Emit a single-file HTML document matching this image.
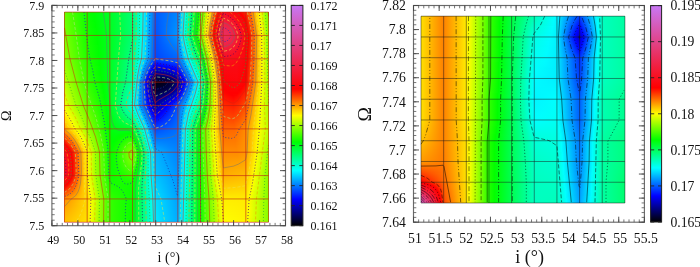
<!DOCTYPE html>
<html><head><meta charset="utf-8"><style>
html,body{margin:0;padding:0;background:#fff;}
#w{filter:blur(0.3px);position:relative;width:700px;height:267px;overflow:hidden;background:#fff;}
.fld{position:absolute;overflow:hidden;}
.fld i{position:absolute;left:0;width:100%;display:block;}
svg{position:absolute;left:0;top:0;}
text{font-family:"Liberation Serif","DejaVu Serif",serif;fill:#111;}
</style></head><body><div id="w">
<div class="fld" style="left:64px;top:12px;width:205px;height:210px"><i style="top:0px;height:1px;background:linear-gradient(90deg,#66ff00 0.5px,#08ff00 24.5px,#00ff03 29.5px,#00ff2a 47.5px,#00ff70 68.5px,#00fff7 78.5px,#00f9ff 79.5px,#0065ff 90.5px,#005cff 91.5px,#0084ff 113.5px,#0092ff 114.5px,#00f0ff 119.5px,#00fffb 120.5px,#00ff04 133.5px,#23ff00 135.5px,#4eff00 137.5px,#faff00 144.5px,#ffd200 146.5px,#ff0500 154.5px,#fe0306 155.5px,#f71123 159.5px,#ff0102 175.5px,#ff0300 176.5px,#ff2700 181.5px,#fff300 194.5px,#fbff00 195.5px,#71ff00 204.5px)"></i><i style="top:1px;height:1px;background:linear-gradient(90deg,#67ff00 0.5px,#08ff00 24.5px,#00ff02 29.5px,#00ff2a 47.5px,#00ff70 68.5px,#00fff7 78.5px,#00f9ff 79.5px,#0064ff 90.5px,#005cff 91.5px,#0085ff 113.5px,#0092ff 114.5px,#00f1ff 119.5px,#00fffa 120.5px,#00ff02 133.5px,#38ff00 136.5px,#feff00 144.5px,#ff0001 154.5px,#f81021 158.5px,#f71326 159.5px,#fe0306 174.5px,#ff0101 176.5px,#ff1400 179.5px,#ff2200 181.5px,#fdff00 195.5px,#71ff00 204.5px)"></i><i style="top:2px;height:1px;background:linear-gradient(90deg,#68ff00 0.5px,#08ff00 24.5px,#00ff02 29.5px,#00ff2a 47.5px,#00ff70 68.5px,#00fff8 78.5px,#00f9ff 79.5px,#0064ff 90.5px,#005bff 91.5px,#0086ff 113.5px,#0093ff 114.5px,#00f2ff 119.5px,#00fff9 120.5px,#00ff00 133.5px,#3bff00 136.5px,#e8ff00 143.5px,#fffc00 144.5px,#ff1100 153.5px,#fe0103 154.5px,#f71224 158.5px,#f61429 159.5px,#fd050b 173.5px,#ff0000 177.5px,#ff1e00 181.5px,#ffff00 195.5px,#72ff00 204.5px)"></i><i style="top:3px;height:1px;background:linear-gradient(90deg,#69ff00 0.5px,#09ff00 24.5px,#00ff04 30.5px,#00ff29 47.5px,#00ff70 68.5px,#00fff8 78.5px,#00f9ff 79.5px,#0063ff 90.5px,#005bff 91.5px,#0087ff 113.5px,#0094ff 114.5px,#00f3ff 119.5px,#00fff8 120.5px,#02ff00 133.5px,#3dff00 136.5px,#ecff00 143.5px,#fff800 144.5px,#ff0900 153.5px,#fe0305 154.5px,#f61327 158.5px,#f5152c 159.5px,#fb0913 171.5px,#ff0100 178.5px,#ff1900 181.5px,#fffd00 195.5px,#73ff00 204.5px)"></i><i style="top:4px;height:1px;background:linear-gradient(90deg,#6aff00 0.5px,#09ff00 24.5px,#00ff03 30.5px,#00ff29 47.5px,#00ff70 68.5px,#00fff8 78.5px,#00f8ff 79.5px,#0063ff 90.5px,#005bff 91.5px,#0088ff 113.5px,#0095ff 114.5px,#00f5ff 119.5px,#00fff6 120.5px,#00ff10 132.5px,#04ff00 133.5px,#3fff00 136.5px,#f0ff00 143.5px,#fff400 144.5px,#ff0200 153.5px,#f6142a 158.5px,#f4172f 159.5px,#fa0a15 171.5px,#ff0101 178.5px,#ff0c00 180.5px,#ff1400 181.5px,#fffb00 195.5px,#e3ff00 197.5px,#74ff00 204.5px)"></i><i style="top:5px;height:1px;background:linear-gradient(90deg,#6bff00 0.5px,#0aff00 24.5px,#00ff03 30.5px,#00ff29 47.5px,#00ff70 68.5px,#00fff8 78.5px,#00f8ff 79.5px,#0063ff 90.5px,#005aff 91.5px,#0089ff 113.5px,#0096ff 114.5px,#00f6ff 119.5px,#00fff5 120.5px,#00ff0e 132.5px,#05ff00 133.5px,#41ff00 136.5px,#f4ff00 143.5px,#fff000 144.5px,#ff1500 152.5px,#ff0102 153.5px,#f5162d 158.5px,#f41832 159.5px,#f90d1b 170.5px,#ff0000 179.5px,#ff0f00 181.5px,#fff900 195.5px,#f5ff00 196.5px,#75ff00 204.5px)"></i><i style="top:6px;height:1px;background:linear-gradient(90deg,#6cff00 0.5px,#0cff00 23.5px,#00ff03 30.5px,#00ff29 47.5px,#00ff70 68.5px,#00fff8 78.5px,#00f8ff 79.5px,#0062ff 90.5px,#005aff 91.5px,#0089ff 113.5px,#0097ff 114.5px,#00f7ff 119.5px,#00fff4 120.5px,#00ff0c 132.5px,#07ff00 133.5px,#43ff00 136.5px,#f8ff00 143.5px,#ffeb00 144.5px,#ff0e00 152.5px,#fe0205 153.5px,#f41830 158.5px,#f31a35 159.5px,#f81020 169.5px,#ff0200 180.5px,#ff0a00 181.5px,#ffe700 194.5px,#fff700 195.5px,#f7ff00 196.5px,#76ff00 204.5px)"></i><i style="top:7px;height:1px;background:linear-gradient(90deg,#6cff00 0.5px,#0dff00 23.5px,#00ff02 30.5px,#00ff28 47.5px,#00ff70 68.5px,#00fff9 78.5px,#00f8ff 79.5px,#0062ff 90.5px,#0059ff 91.5px,#008aff 113.5px,#0098ff 114.5px,#00f8ff 119.5px,#00fff3 120.5px,#00ff0b 132.5px,#09ff00 133.5px,#46ff00 136.5px,#fcff00 143.5px,#ffb000 146.5px,#ff0600 152.5px,#fd0407 153.5px,#f31933 158.5px,#f21c39 159.5px,#f71123 169.5px,#ff0101 180.5px,#ff0500 181.5px,#ffd400 193.5px,#fff500 195.5px,#f9ff00 196.5px,#77ff00 204.5px)"></i><i style="top:8px;height:1px;background:linear-gradient(90deg,#6dff00 0.5px,#0dff00 23.5px,#00ff02 30.5px,#00ff28 47.5px,#00ff70 68.5px,#00fff9 78.5px,#00f8ff 79.5px,#0061ff 90.5px,#0059ff 91.5px,#008bff 113.5px,#0099ff 114.5px,#00f9ff 119.5px,#00fff2 120.5px,#00ff09 132.5px,#0bff00 133.5px,#48ff00 136.5px,#fffe00 143.5px,#ff0001 152.5px,#f31b37 158.5px,#f21d3c 159.5px,#f61429 168.5px,#ff0000 181.5px,#ffc100 192.5px,#fff300 195.5px,#faff00 196.5px,#78ff00 204.5px)"></i><i style="top:9px;height:1px;background:linear-gradient(90deg,#6eff00 0.5px,#0eff00 23.5px,#00ff01 30.5px,#00ff28 47.5px,#00ff70 68.5px,#00fff9 78.5px,#00f7ff 79.5px,#0061ff 90.5px,#0058ff 91.5px,#008cff 113.5px,#009aff 114.5px,#00faff 119.5px,#00ffdd 121.5px,#00ff07 132.5px,#0dff00 133.5px,#4aff00 136.5px,#e8ff00 142.5px,#fffa00 143.5px,#ff1400 151.5px,#fe0203 152.5px,#f21c3a 158.5px,#f11f3f 159.5px,#f5162d 168.5px,#ff0102 181.5px,#ff0b00 182.5px,#ff9d00 190.5px,#fff100 195.5px,#fcff00 196.5px,#78ff00 204.5px)"></i><i style="top:10px;height:1px;background:linear-gradient(90deg,#6fff00 0.5px,#0eff00 23.5px,#00ff03 31.5px,#00ff28 47.5px,#00ff70 68.5px,#00fff9 78.5px,#00f7ff 79.5px,#0060ff 90.5px,#0058ff 91.5px,#008dff 113.5px,#009bff 114.5px,#00fbff 119.5px,#00ffdc 121.5px,#00ff05 132.5px,#0fff00 133.5px,#4cff00 136.5px,#ecff00 142.5px,#fff600 143.5px,#ff0c00 151.5px,#fe0306 152.5px,#f11e3d 158.5px,#f02143 159.5px,#f41933 167.5px,#fe0203 181.5px,#ff0600 182.5px,#ff8800 189.5px,#feff00 196.5px,#79ff00 204.5px)"></i><i style="top:11px;height:1px;background:linear-gradient(90deg,#70ff00 0.5px,#0eff00 23.5px,#00ff03 31.5px,#00ff28 47.5px,#00ff70 68.5px,#00fff9 78.5px,#00f7ff 79.5px,#0060ff 90.5px,#0058ff 91.5px,#008eff 113.5px,#009bff 114.5px,#00fcff 119.5px,#00ff7a 126.5px,#00ff03 132.5px,#3aff00 135.5px,#4eff00 136.5px,#f0ff00 142.5px,#fff200 143.5px,#ff0500 151.5px,#fd0408 152.5px,#f12040 158.5px,#ef2246 159.5px,#f31a36 167.5px,#ff0100 182.5px,#ff8600 189.5px,#fffe00 196.5px,#7aff00 204.5px)"></i><i style="top:12px;height:1px;background:linear-gradient(90deg,#71ff00 0.5px,#0fff00 23.5px,#00ff02 31.5px,#00ff27 47.5px,#00ff70 68.5px,#00fffa 78.5px,#00f7ff 79.5px,#0060ff 90.5px,#0057ff 91.5px,#008fff 113.5px,#009cff 114.5px,#00fdff 119.5px,#00ff02 132.5px,#51ff00 136.5px,#f3ff00 142.5px,#ffee00 143.5px,#ff0001 151.5px,#f02144 158.5px,#ef2449 159.5px,#f21c39 167.5px,#ff0101 182.5px,#ffb800 192.5px,#fffc00 196.5px,#7bff00 204.5px)"></i><i style="top:13px;height:1px;background:linear-gradient(90deg,#72ff00 0.5px,#0fff00 23.5px,#00ff02 31.5px,#00ff27 47.5px,#00ff70 68.5px,#00fffa 78.5px,#00f6ff 79.5px,#005fff 90.5px,#0057ff 91.5px,#008fff 113.5px,#009dff 114.5px,#00feff 119.5px,#00ff00 132.5px,#53ff00 136.5px,#f7ff00 142.5px,#ffeb00 143.5px,#ff1600 150.5px,#fe0103 151.5px,#ef2347 158.5px,#ee254c 159.5px,#f21d3c 167.5px,#fe0103 182.5px,#ff0d00 183.5px,#ff9200 190.5px,#fffa00 196.5px,#e2ff00 198.5px,#7cff00 204.5px)"></i><i style="top:14px;height:1px;background:linear-gradient(90deg,#73ff00 0.5px,#10ff00 23.5px,#00ff02 31.5px,#00ff27 47.5px,#00ff70 68.5px,#00fffa 78.5px,#00f6ff 79.5px,#005fff 90.5px,#0056ff 91.5px,#0090ff 113.5px,#009eff 114.5px,#00ffff 119.5px,#02ff00 132.5px,#55ff00 136.5px,#faff00 142.5px,#ffe700 143.5px,#ff1000 150.5px,#fe0305 151.5px,#ee244a 158.5px,#ed274f 159.5px,#f02042 166.5px,#fe0204 182.5px,#ff0900 183.5px,#ff8f00 190.5px,#fff900 196.5px,#f4ff00 197.5px,#7dff00 204.5px)"></i><i style="top:15px;height:1px;background:linear-gradient(90deg,#73ff00 0.5px,#10ff00 23.5px,#00ff01 31.5px,#00ff27 47.5px,#00ff70 68.5px,#00fffa 78.5px,#00e8ff 80.5px,#005eff 90.5px,#0056ff 91.5px,#0091ff 113.5px,#009fff 114.5px,#00fffd 119.5px,#00ff11 131.5px,#04ff00 132.5px,#57ff00 136.5px,#fdff00 142.5px,#ff6900 147.5px,#ff0a00 150.5px,#fd0407 151.5px,#ee254c 158.5px,#ed2852 159.5px,#f02245 166.5px,#fe0305 182.5px,#ff0400 183.5px,#ff8c00 190.5px,#fff700 196.5px,#f6ff00 197.5px,#7eff00 204.5px)"></i><i style="top:16px;height:1px;background:linear-gradient(90deg,#74ff00 0.5px,#11ff00 23.5px,#00ff03 32.5px,#00ff26 47.5px,#00ff70 68.5px,#00fffa 78.5px,#00e8ff 80.5px,#005eff 90.5px,#0056ff 91.5px,#0092ff 113.5px,#00a0ff 114.5px,#00fffc 119.5px,#00ff0f 131.5px,#05ff00 132.5px,#59ff00 136.5px,#fffd00 142.5px,#ff4400 148.5px,#ff0400 150.5px,#fb0a13 152.5px,#ed274f 158.5px,#ec2a55 159.5px,#ef2347 166.5px,#fd0307 182.5px,#ff0000 183.5px,#ff8a00 190.5px,#fff500 196.5px,#f8ff00 197.5px,#7fff00 204.5px)"></i><i style="top:17px;height:1px;background:linear-gradient(90deg,#75ff00 0.5px,#11ff00 23.5px,#00ff03 32.5px,#00ff26 47.5px,#00ff70 68.5px,#00fffb 78.5px,#00e8ff 80.5px,#005dff 90.5px,#0055ff 91.5px,#0093ff 113.5px,#00a1ff 114.5px,#00efff 118.5px,#00fffb 119.5px,#00ff0d 131.5px,#07ff00 132.5px,#5bff00 136.5px,#e6ff00 141.5px,#fffa00 142.5px,#ff4000 148.5px,#ff0000 150.5px,#ed2851 158.5px,#eb2b57 159.5px,#ee244a 166.5px,#fd0408 182.5px,#ff0101 183.5px,#ffbe00 193.5px,#fff300 196.5px,#f9ff00 197.5px,#7fff00 204.5px)"></i><i style="top:18px;height:1px;background:linear-gradient(90deg,#76ff00 0.5px,#11ff00 23.5px,#00ff02 32.5px,#00ff26 47.5px,#00ff70 68.5px,#00fffb 78.5px,#00e8ff 80.5px,#005dff 90.5px,#0055ff 91.5px,#0094ff 113.5px,#00a2ff 114.5px,#00f0ff 118.5px,#00fffa 119.5px,#00ff0c 131.5px,#09ff00 132.5px,#5dff00 136.5px,#e9ff00 141.5px,#fff700 142.5px,#ff3c00 148.5px,#ff1b00 149.5px,#ff0102 150.5px,#ec2954 158.5px,#eb2c5a 159.5px,#ee254c 166.5px,#fd0509 182.5px,#fe0102 183.5px,#ff0e00 184.5px,#ff9700 191.5px,#fff100 196.5px,#fbff00 197.5px,#80ff00 204.5px)"></i><i style="top:19px;height:1px;background:linear-gradient(90deg,#77ff00 0.5px,#12ff00 23.5px,#00ff02 32.5px,#00ff26 47.5px,#00ff70 68.5px,#00fffb 78.5px,#00e7ff 80.5px,#005dff 90.5px,#0054ff 91.5px,#0095ff 113.5px,#00a3ff 114.5px,#00f1ff 118.5px,#00fff9 119.5px,#00ff0a 131.5px,#0aff00 132.5px,#5fff00 136.5px,#ecff00 141.5px,#fff500 142.5px,#ff3800 148.5px,#ff1700 149.5px,#fe0203 150.5px,#ec2a55 158.5px,#ea2d5c 159.5px,#ed264e 166.5px,#fd050b 182.5px,#fe0204 183.5px,#ff0a00 184.5px,#ff9500 191.5px,#fdff00 197.5px,#81ff00 204.5px)"></i><i style="top:20px;height:1px;background:linear-gradient(90deg,#78ff00 0.5px,#12ff00 23.5px,#00ff02 32.5px,#00ff25 47.5px,#00ff70 68.5px,#00fffb 78.5px,#00e7ff 80.5px,#005cff 90.5px,#0054ff 91.5px,#0095ff 113.5px,#00a4ff 114.5px,#00f2ff 118.5px,#00fff8 119.5px,#00ff09 131.5px,#0cff00 132.5px,#61ff00 136.5px,#eeff00 141.5px,#fff200 142.5px,#ff3400 148.5px,#ff1300 149.5px,#fe0205 150.5px,#eb2b57 158.5px,#ea2e5d 159.5px,#ed2750 166.5px,#fc060c 182.5px,#fe0205 183.5px,#ff0700 184.5px,#ff9200 191.5px,#feff00 197.5px,#82ff00 204.5px)"></i><i style="top:21px;height:1px;background:linear-gradient(90deg,#79ff00 0.5px,#13ff00 23.5px,#00ff01 32.5px,#00ff25 47.5px,#00ff70 68.5px,#00fffb 78.5px,#00d9ff 81.5px,#005cff 90.5px,#0053ff 91.5px,#0096ff 113.5px,#00a4ff 114.5px,#00f3ff 118.5px,#00fff7 119.5px,#00ff07 131.5px,#0eff00 132.5px,#63ff00 136.5px,#f1ff00 141.5px,#fff000 142.5px,#ff3100 148.5px,#ff1000 149.5px,#fe0306 150.5px,#eb2b59 158.5px,#ea2e5f 159.5px,#ed2851 166.5px,#fc060d 182.5px,#ff0300 184.5px,#ff9000 191.5px,#fffe00 197.5px,#83ff00 204.5px)"></i><i style="top:22px;height:1px;background:linear-gradient(90deg,#7aff00 0.5px,#13ff00 23.5px,#00ff01 32.5px,#00ff25 47.5px,#00ff70 68.5px,#00fffc 78.5px,#00d9ff 81.5px,#005bff 90.5px,#0053ff 91.5px,#0097ff 113.5px,#00a5ff 114.5px,#00f4ff 118.5px,#00fff6 119.5px,#00ff05 131.5px,#0fff00 132.5px,#65ff00 136.5px,#f3ff00 141.5px,#ffed00 142.5px,#ff2e00 148.5px,#ff0d00 149.5px,#fe0307 150.5px,#eb2c5a 158.5px,#e92f60 159.5px,#ec2853 166.5px,#fc070e 182.5px,#ff0000 184.5px,#ff8d00 191.5px,#fffc00 197.5px,#84ff00 204.5px)"></i><i style="top:23px;height:1px;background:linear-gradient(90deg,#7aff00 0.5px,#14ff00 23.5px,#00ff03 33.5px,#00ff25 47.5px,#00ff70 68.5px,#00fffc 78.5px,#00caff 82.5px,#005bff 90.5px,#0053ff 91.5px,#0098ff 113.5px,#00a6ff 114.5px,#00f5ff 118.5px,#00fff5 119.5px,#00ff04 131.5px,#25ff00 133.5px,#66ff00 136.5px,#f4ff00 141.5px,#ffec00 142.5px,#ff2c00 148.5px,#ff0b00 149.5px,#fd0407 150.5px,#eb2c5a 158.5px,#e92f61 159.5px,#ec2954 166.5px,#fc080f 182.5px,#ff0001 184.5px,#ffc300 194.5px,#fffb00 197.5px,#dfff00 199.5px,#85ff00 204.5px)"></i><i style="top:24px;height:1px;background:linear-gradient(90deg,#7bff00 0.5px,#14ff00 23.5px,#00ff03 33.5px,#00ff25 47.5px,#00ff71 68.5px,#00fffc 78.5px,#005aff 90.5px,#0052ff 91.5px,#0096ff 113.5px,#00a4ff 114.5px,#00f2ff 118.5px,#00fff8 119.5px,#00ff0a 131.5px,#0aff00 132.5px,#5fff00 136.5px,#eeff00 141.5px,#fff200 142.5px,#ff3200 148.5px,#ff1100 149.5px,#fe0305 150.5px,#eb2b59 158.5px,#ea2f5f 159.5px,#ed2852 166.5px,#fc070f 182.5px,#ff0001 184.5px,#ffb100 193.5px,#fffa00 197.5px,#dfff00 199.5px,#85ff00 204.5px)"></i><i style="top:25px;height:1px;background:linear-gradient(90deg,#7cff00 0.5px,#15ff00 23.5px,#00ff02 33.5px,#00ff25 47.5px,#00ff72 68.5px,#00fffd 78.5px,#005aff 90.5px,#0052ff 91.5px,#0094ff 113.5px,#00a1ff 114.5px,#00efff 118.5px,#00fffc 119.5px,#00ff10 131.5px,#04ff00 132.5px,#58ff00 136.5px,#e7ff00 141.5px,#fff900 142.5px,#ff3900 148.5px,#ff1700 149.5px,#fe0203 150.5px,#eb2b57 158.5px,#ea2e5d 159.5px,#ed2851 166.5px,#fc070f 182.5px,#ff0001 184.5px,#ffb100 193.5px,#fffa00 197.5px,#e0ff00 199.5px,#86ff00 204.5px)"></i><i style="top:26px;height:1px;background:linear-gradient(90deg,#7dff00 0.5px,#15ff00 23.5px,#00ff02 33.5px,#00ff25 47.5px,#00ff73 68.5px,#00fffe 78.5px,#005aff 90.5px,#0051ff 91.5px,#0091ff 113.5px,#009fff 114.5px,#00ffff 119.5px,#00ff02 132.5px,#50ff00 136.5px,#feff00 142.5px,#ff4000 148.5px,#ff0101 150.5px,#ec2955 158.5px,#eb2d5b 159.5px,#ed274f 166.5px,#fc070f 182.5px,#ff0000 184.5px,#ff9e00 192.5px,#fffa00 197.5px,#e0ff00 199.5px,#86ff00 204.5px)"></i><i style="top:27px;height:1px;background:linear-gradient(90deg,#7eff00 0.5px,#15ff00 23.5px,#00ff02 33.5px,#00ff25 47.5px,#00ff74 68.5px,#00fffe 78.5px,#0059ff 90.5px,#0051ff 91.5px,#008fff 113.5px,#009dff 114.5px,#00fcff 119.5px,#00ffc9 122.5px,#00ff08 132.5px,#0cff00 133.5px,#49ff00 136.5px,#f8ff00 142.5px,#ffe800 143.5px,#ff0400 150.5px,#fa0a14 152.5px,#ed2852 158.5px,#eb2b59 159.5px,#ee264d 166.5px,#fc070e 182.5px,#ff0000 184.5px,#ff8c00 191.5px,#fffa00 197.5px,#f2ff00 198.5px,#86ff00 204.5px)"></i><i style="top:28px;height:1px;background:linear-gradient(90deg,#7fff00 0.5px,#16ff00 23.5px,#00ff02 33.5px,#00ff25 47.5px,#00ff75 68.5px,#00ffff 78.5px,#0059ff 90.5px,#0050ff 91.5px,#008dff 113.5px,#009aff 114.5px,#00f8ff 119.5px,#00fff3 120.5px,#00ff0f 132.5px,#05ff00 133.5px,#42ff00 136.5px,#f0ff00 142.5px,#ffef00 143.5px,#ff0b00 150.5px,#fd0307 151.5px,#ed2750 158.5px,#ec2a56 159.5px,#ee254b 166.5px,#fc070e 182.5px,#ff0100 184.5px,#ff8c00 191.5px,#fffa00 197.5px,#f2ff00 198.5px,#87ff00 204.5px)"></i><i style="top:29px;height:1px;background:linear-gradient(90deg,#80ff00 0.5px,#16ff00 23.5px,#00ff01 33.5px,#00ff25 47.5px,#00ff75 68.5px,#00feff 78.5px,#0058ff 90.5px,#0050ff 91.5px,#008bff 113.5px,#0098ff 114.5px,#00f5ff 119.5px,#00fff7 120.5px,#00ff01 133.5px,#3aff00 136.5px,#e9ff00 142.5px,#fff600 143.5px,#ff1300 150.5px,#fe0204 151.5px,#ee264d 158.5px,#ec2953 159.5px,#ef2449 166.5px,#fc070e 182.5px,#ff0100 184.5px,#ff8c00 191.5px,#fffa00 197.5px,#f2ff00 198.5px,#87ff00 204.5px)"></i><i style="top:30px;height:1px;background:linear-gradient(90deg,#81ff00 0.5px,#17ff00 23.5px,#00ff01 33.5px,#00ff25 47.5px,#00ff76 68.5px,#00feff 78.5px,#0058ff 90.5px,#004fff 91.5px,#0089ff 113.5px,#0096ff 114.5px,#00f1ff 119.5px,#00fffa 120.5px,#00ff08 133.5px,#0bff00 134.5px,#33ff00 136.5px,#fffd00 143.5px,#ff1c00 150.5px,#ff0102 151.5px,#ee244a 158.5px,#ed2750 159.5px,#f02144 167.5px,#fc060d 182.5px,#ff0200 184.5px,#ff8c00 191.5px,#fffa00 197.5px,#f3ff00 198.5px,#88ff00 204.5px)"></i><i style="top:31px;height:1px;background:linear-gradient(90deg,#81ff00 0.5px,#17ff00 23.5px,#00ff01 33.5px,#00ff25 47.5px,#00ff77 68.5px,#00fdff 78.5px,#0057ff 90.5px,#004fff 91.5px,#0087ff 113.5px,#0093ff 114.5px,#00fffe 120.5px,#00ff0f 133.5px,#05ff00 134.5px,#2cff00 136.5px,#f9ff00 143.5px,#ffe600 144.5px,#ff0300 151.5px,#f80f1e 154.5px,#ef2347 158.5px,#ee264d 159.5px,#f02041 167.5px,#fc060d 182.5px,#ff0300 184.5px,#ff8d00 191.5px,#fff900 197.5px,#f3ff00 198.5px,#88ff00 204.5px)"></i><i style="top:32px;height:1px;background:linear-gradient(90deg,#82ff00 0.5px,#18ff00 23.5px,#00ff01 33.5px,#00ff25 47.5px,#00ff78 68.5px,#00fff4 77.5px,#00fcff 78.5px,#0057ff 90.5px,#004eff 91.5px,#0084ff 113.5px,#0091ff 114.5px,#00fdff 120.5px,#00ff28 132.5px,#00ff02 134.5px,#24ff00 136.5px,#f2ff00 143.5px,#ffed00 144.5px,#ff0c00 151.5px,#fe0307 152.5px,#f02144 158.5px,#ee244a 159.5px,#f11f3f 167.5px,#fc060c 182.5px,#fe0305 183.5px,#ff0500 184.5px,#ff9f00 192.5px,#fff900 197.5px,#f3ff00 198.5px,#89ff00 204.5px)"></i><i style="top:33px;height:1px;background:linear-gradient(90deg,#83ff00 0.5px,#18ff00 23.5px,#00ff03 34.5px,#00ff25 47.5px,#00ff79 68.5px,#00fff5 77.5px,#00fbff 78.5px,#0056ff 90.5px,#004eff 91.5px,#0082ff 113.5px,#008fff 114.5px,#00f9ff 120.5px,#00fff3 121.5px,#00ff09 134.5px,#0aff00 135.5px,#1dff00 136.5px,#eaff00 143.5px,#fff500 144.5px,#ff1500 151.5px,#fe0204 152.5px,#f12041 158.5px,#ef2347 159.5px,#f11e3c 167.5px,#fc060c 182.5px,#fe0205 183.5px,#ff0600 184.5px,#ff9f00 192.5px,#fff900 197.5px,#f3ff00 198.5px,#89ff00 204.5px)"></i><i style="top:34px;height:1px;background:linear-gradient(90deg,#84ff00 0.5px,#18ff00 23.5px,#00ff03 34.5px,#00ff25 47.5px,#00ff7a 68.5px,#00fff5 77.5px,#00fbff 78.5px,#0056ff 90.5px,#004eff 91.5px,#0080ff 113.5px,#008dff 114.5px,#00f5ff 120.5px,#00fff7 121.5px,#02ff00 135.5px,#15ff00 136.5px,#fffd00 144.5px,#ff0001 152.5px,#f11e3d 158.5px,#f02144 159.5px,#f31b38 168.5px,#fc060b 182.5px,#fe0204 183.5px,#ff0700 184.5px,#ff9f00 192.5px,#fff900 197.5px,#f3ff00 198.5px,#89ff00 204.5px)"></i><i style="top:35px;height:1px;background:linear-gradient(90deg,#85ff00 0.5px,#19ff00 23.5px,#00ff02 34.5px,#00ff25 47.5px,#00ff7b 68.5px,#00fff6 77.5px,#00faff 78.5px,#0055ff 90.5px,#004dff 91.5px,#007eff 113.5px,#008aff 114.5px,#00f2ff 120.5px,#00fffb 121.5px,#00ff05 135.5px,#0eff00 136.5px,#f9ff00 144.5px,#ffe600 145.5px,#ff0800 152.5px,#fd0408 153.5px,#f21c3a 158.5px,#f12040 159.5px,#f31a35 168.5px,#fd050b 182.5px,#fe0204 183.5px,#ff0800 184.5px,#ffa000 192.5px,#fff900 197.5px,#f3ff00 198.5px,#8aff00 204.5px)"></i><i style="top:36px;height:1px;background:linear-gradient(90deg,#86ff00 0.5px,#19ff00 23.5px,#00ff02 34.5px,#00ff25 47.5px,#00ff7c 68.5px,#00fff7 77.5px,#00f9ff 78.5px,#0055ff 90.5px,#004dff 91.5px,#007cff 113.5px,#0099ff 115.5px,#00ffff 121.5px,#00ff0c 135.5px,#06ff00 136.5px,#f2ff00 144.5px,#ffee00 145.5px,#ff1100 152.5px,#fe0205 153.5px,#f31b37 158.5px,#f11e3d 159.5px,#f41933 168.5px,#fd050a 182.5px,#fe0204 183.5px,#ff0900 184.5px,#ffb200 193.5px,#fff900 197.5px,#f4ff00 198.5px,#8aff00 204.5px)"></i><i style="top:37px;height:1px;background:linear-gradient(90deg,#87ff00 0.5px,#1aff00 23.5px,#00ff02 34.5px,#00ff26 47.5px,#00ff7c 68.5px,#00fff8 77.5px,#00f9ff 78.5px,#0055ff 90.5px,#004cff 91.5px,#007aff 113.5px,#0096ff 115.5px,#00fbff 121.5px,#00ffd0 124.5px,#00ff01 136.5px,#cbff00 143.5px,#eaff00 144.5px,#fff600 145.5px,#ff1a00 152.5px,#ff0102 153.5px,#f31933 158.5px,#f21c3a 159.5px,#f5172e 169.5px,#fd050a 182.5px,#fe0203 183.5px,#ff0a00 184.5px,#ffb200 193.5px,#fff900 197.5px,#f4ff00 198.5px,#8bff00 204.5px)"></i><i style="top:38px;height:1px;background:linear-gradient(90deg,#88ff00 0.5px,#1aff00 23.5px,#00ff02 34.5px,#00ff26 47.5px,#00ff7d 68.5px,#00fff8 77.5px,#00f8ff 78.5px,#0054ff 90.5px,#004cff 91.5px,#0077ff 113.5px,#0094ff 115.5px,#00f8ff 121.5px,#00fff6 122.5px,#00ff09 136.5px,#14ff00 137.5px,#fffd00 145.5px,#ff0400 153.5px,#fb0913 155.5px,#f41830 158.5px,#f31b37 159.5px,#f5162c 169.5px,#fd0509 182.5px,#fe0103 183.5px,#ff0b00 184.5px,#ffb200 193.5px,#fff800 197.5px,#f4ff00 198.5px,#8bff00 204.5px)"></i><i style="top:39px;height:1px;background:linear-gradient(90deg,#88ff00 0.5px,#1bff00 23.5px,#00ff02 34.5px,#00ff26 47.5px,#00ff7e 68.5px,#00fff9 77.5px,#00f7ff 78.5px,#0054ff 90.5px,#004bff 91.5px,#0075ff 113.5px,#0091ff 115.5px,#00f4ff 121.5px,#00fffa 122.5px,#00ff10 136.5px,#0dff00 137.5px,#f9ff00 145.5px,#ffe700 146.5px,#ff0d00 153.5px,#fe0306 154.5px,#f5162d 158.5px,#f31934 159.5px,#f61428 170.5px,#fd0409 182.5px,#fe0102 183.5px,#ff0c00 184.5px,#ffc400 194.5px,#fff800 197.5px,#f4ff00 198.5px,#8cff00 204.5px)"></i><i style="top:40px;height:1px;background:linear-gradient(90deg,#89ff00 0.5px,#1bff00 23.5px,#00ff01 34.5px,#00ff26 47.5px,#00ff7f 68.5px,#00fffa 77.5px,#00f7ff 78.5px,#0053ff 90.5px,#004bff 91.5px,#0073ff 113.5px,#008fff 115.5px,#00fffe 122.5px,#00ff18 136.5px,#05ff00 137.5px,#f1ff00 145.5px,#ffee00 146.5px,#ff1600 153.5px,#fe0103 154.5px,#f6152a 158.5px,#f41831 159.5px,#f61326 170.5px,#fc070d 181.5px,#ff0102 183.5px,#ff0d00 184.5px,#ffc400 194.5px,#fff800 197.5px,#f4ff00 198.5px,#8cff00 204.5px)"></i><i style="top:41px;height:1px;background:linear-gradient(90deg,#8aff00 0.5px,#1bff00 23.5px,#00ff01 34.5px,#00ff26 47.5px,#00ff80 68.5px,#00fffa 77.5px,#00e8ff 79.5px,#0053ff 90.5px,#004aff 91.5px,#0071ff 113.5px,#008cff 115.5px,#00fcff 122.5px,#00ffb2 127.5px,#00ff1f 136.5px,#00ff02 137.5px,#ccff00 144.5px,#eaff00 145.5px,#fff600 146.5px,#ff0000 154.5px,#f61327 158.5px,#f5162e 159.5px,#f71224 170.5px,#fc060d 181.5px,#ff0102 183.5px,#ff0e00 184.5px,#ffc400 194.5px,#fff800 197.5px,#f5ff00 198.5px,#8dff00 204.5px)"></i><i style="top:42px;height:1px;background:linear-gradient(90deg,#8bff00 0.5px,#1cff00 23.5px,#00ff01 34.5px,#00ff26 47.5px,#00ff81 68.5px,#00fffb 77.5px,#00e8ff 79.5px,#0052ff 90.5px,#0049ff 91.5px,#006eff 113.5px,#0089ff 115.5px,#00f8ff 122.5px,#00fff6 123.5px,#00ff26 136.5px,#00ff09 137.5px,#13ff00 138.5px,#fffe00 146.5px,#ff0900 154.5px,#fd0307 155.5px,#f71224 158.5px,#f5152b 159.5px,#f81021 171.5px,#fc060d 181.5px,#ff0101 183.5px,#ff2200 185.5px,#fff800 197.5px,#f5ff00 198.5px,#8dff00 204.5px)"></i><i style="top:43px;height:1px;background:linear-gradient(90deg,#8cff00 0.5px,#1cff00 23.5px,#00ff01 34.5px,#00ff26 47.5px,#00ff82 68.5px,#00fffc 77.5px,#00ccff 81.5px,#0051ff 90.5px,#0049ff 91.5px,#006cff 113.5px,#0087ff 115.5px,#00f4ff 122.5px,#00fffb 123.5px,#00ff2e 136.5px,#00ff11 137.5px,#0cff00 138.5px,#f9ff00 146.5px,#ffe700 147.5px,#ff1100 154.5px,#fe0204 155.5px,#f71122 158.5px,#f61428 159.5px,#f80f1f 171.5px,#fc060c 181.5px,#ff0101 183.5px,#fff800 197.5px,#f5ff00 198.5px,#8dff00 204.5px)"></i><i style="top:44px;height:1px;background:linear-gradient(90deg,#8dff00 0.5px,#1dff00 23.5px,#00ff01 34.5px,#00ff26 47.5px,#00ff83 68.5px,#00fffd 77.5px,#0051ff 90.5px,#0048ff 91.5px,#006aff 113.5px,#0084ff 115.5px,#00ffff 123.5px,#00ff35 136.5px,#00ff18 137.5px,#05ff00 138.5px,#f2ff00 146.5px,#ffee00 147.5px,#ff1900 154.5px,#ff0102 155.5px,#f71226 159.5px,#f80f1e 171.5px,#fc060c 181.5px,#ff0001 183.5px,#fff800 197.5px,#f5ff00 198.5px,#8eff00 204.5px)"></i><i style="top:45px;height:1px;background:linear-gradient(90deg,#8eff00 0.5px,#1dff00 23.5px,#00ff03 35.5px,#00ff26 47.5px,#00ff83 68.5px,#00fffd 77.5px,#0050ff 90.5px,#0047ff 91.5px,#0067ff 113.5px,#0081ff 115.5px,#00fbff 123.5px,#00ffe5 125.5px,#00ff3c 136.5px,#00ff02 138.5px,#ebff00 146.5px,#fff500 147.5px,#ff0200 155.5px,#f71123 159.5px,#f90d1b 172.5px,#fc060b 181.5px,#ff0000 183.5px,#fff800 197.5px,#f5ff00 198.5px,#8eff00 204.5px)"></i><i style="top:46px;height:1px;background:linear-gradient(90deg,#8fff00 0.5px,#1eff00 23.5px,#00ff03 35.5px,#00ff26 47.5px,#00ff84 68.5px,#00fffe 77.5px,#004fff 90.5px,#0047ff 91.5px,#0065ff 113.5px,#007eff 115.5px,#00f6ff 123.5px,#00fff9 124.5px,#00ff44 136.5px,#00ff09 138.5px,#14ff00 139.5px,#e4ff00 146.5px,#fffc00 147.5px,#ff0900 155.5px,#fd0307 156.5px,#f81021 159.5px,#f90d1a 172.5px,#fd050b 181.5px,#ff0000 183.5px,#ffe600 196.5px,#fff700 197.5px,#f5ff00 198.5px,#8fff00 204.5px)"></i><i style="top:47px;height:1px;background:linear-gradient(90deg,#90ff00 0.5px,#1eff00 23.5px,#00ff02 35.5px,#00ff22 46.5px,#00ff85 68.5px,#00fcff 77.5px,#0047ff 90.5px,#003fff 91.5px,#005eff 113.5px,#0078ff 115.5px,#00ffff 124.5px,#00ff4a 136.5px,#00ff10 138.5px,#0eff00 139.5px,#fcff00 147.5px,#ff8900 151.5px,#ff1000 155.5px,#fe0205 156.5px,#f80f1f 159.5px,#f90c19 172.5px,#fd050b 181.5px,#ff0100 183.5px,#ffc400 194.5px,#fff700 197.5px,#f5ff00 198.5px,#8fff00 204.5px)"></i><i style="top:48px;height:1px;background:linear-gradient(90deg,#92ff00 0.5px,#1fff00 23.5px,#00ff02 35.5px,#00ff22 46.5px,#00ff86 68.5px,#00fff8 76.5px,#00f7ff 77.5px,#003cff 90.5px,#0033ff 91.5px,#0057ff 113.5px,#0071ff 115.5px,#00f8ff 124.5px,#00fff7 125.5px,#00ff51 136.5px,#00ff16 138.5px,#08ff00 139.5px,#f6ff00 147.5px,#ffea00 148.5px,#ff1500 155.5px,#fe0103 156.5px,#f80e1d 159.5px,#fa0c18 172.5px,#fd050a 181.5px,#ff0200 183.5px,#ffc400 194.5px,#fff800 197.5px,#f5ff00 198.5px,#90ff00 204.5px)"></i><i style="top:49px;height:1px;background:linear-gradient(90deg,#93ff00 0.5px,#20ff00 23.5px,#00ff02 35.5px,#00ff22 46.5px,#00ff87 68.5px,#00fffd 76.5px,#0031ff 90.5px,#0028ff 91.5px,#004fff 113.5px,#0069ff 115.5px,#00fffd 125.5px,#00ff57 136.5px,#02ff00 139.5px,#f0ff00 147.5px,#ffef00 148.5px,#ff1b00 155.5px,#ff0101 156.5px,#f90e1c 159.5px,#fa0b17 172.5px,#fd0509 181.5px,#ff0400 183.5px,#ffc500 194.5px,#fff800 197.5px,#f5ff00 198.5px,#90ff00 204.5px)"></i><i style="top:50px;height:1px;background:linear-gradient(90deg,#95ff00 0.5px,#21ff00 23.5px,#00ff01 35.5px,#00ff22 46.5px,#00ff88 68.5px,#00fdff 76.5px,#0026ff 90.5px,#001cff 91.5px,#0047ff 113.5px,#0061ff 115.5px,#00faff 125.5px,#00fff5 126.5px,#00ff5d 136.5px,#00ff04 139.5px,#37ff00 141.5px,#ebff00 147.5px,#fff500 148.5px,#ff0100 156.5px,#f90d1a 159.5px,#fa0b16 172.5px,#fd0409 181.5px,#fe0204 182.5px,#ff0500 183.5px,#ffd600 195.5px,#fff800 197.5px,#f5ff00 198.5px,#90ff00 204.5px)"></i><i style="top:51px;height:1px;background:linear-gradient(90deg,#97ff00 0.5px,#22ff00 23.5px,#00ff01 35.5px,#00ff22 46.5px,#00ff89 68.5px,#00fff6 75.5px,#00f8ff 76.5px,#001aff 90.5px,#0010ff 91.5px,#003cff 112.5px,#003fff 113.5px,#0059ff 115.5px,#00f3ff 125.5px,#00fffc 126.5px,#00ff63 136.5px,#00ff0a 139.5px,#14ff00 140.5px,#e6ff00 147.5px,#fffa00 148.5px,#ff0600 156.5px,#fd0408 157.5px,#f90c19 159.5px,#fa0a15 172.5px,#fd0408 181.5px,#fe0204 182.5px,#ff0600 183.5px,#ffd600 195.5px,#fff800 197.5px,#f5ff00 198.5px,#91ff00 204.5px)"></i><i style="top:52px;height:1px;background:linear-gradient(90deg,#99ff00 0.5px,#23ff00 23.5px,#00ff00 35.5px,#00ff22 46.5px,#00ff8a 68.5px,#00fffa 75.5px,#00e3ff 77.5px,#000fff 90.5px,#0004ff 91.5px,#002bff 109.5px,#0036ff 113.5px,#0051ff 115.5px,#00fbff 126.5px,#00ffd5 129.5px,#00ff6a 136.5px,#00ff10 139.5px,#0eff00 140.5px,#ffff00 148.5px,#ff0b00 156.5px,#fe0307 157.5px,#fa0b17 159.5px,#fa0a15 172.5px,#fd0408 181.5px,#fe0203 182.5px,#ff0800 183.5px,#ffd700 195.5px,#fff800 197.5px,#f5ff00 198.5px,#91ff00 204.5px)"></i><i style="top:53px;height:1px;background:linear-gradient(90deg,#9aff00 0.5px,#23ff00 23.5px,#00ff00 35.5px,#00ff22 46.5px,#00ff8b 68.5px,#00fffe 75.5px,#0003ff 90.5px,#0000f7 91.5px,#0003ff 97.5px,#002dff 113.5px,#0049ff 115.5px,#00f5ff 126.5px,#00fffa 127.5px,#00ff70 136.5px,#00ff16 139.5px,#08ff00 140.5px,#faff00 148.5px,#ffe600 149.5px,#ff0f00 156.5px,#fe0305 157.5px,#fa0b16 159.5px,#fb0a14 172.5px,#fd0407 181.5px,#fe0103 182.5px,#ff0900 183.5px,#ffd700 195.5px,#fff800 197.5px,#f5ff00 198.5px,#92ff00 204.5px)"></i><i style="top:54px;height:1px;background:linear-gradient(90deg,#9cff00 0.5px,#24ff00 23.5px,#00ff03 36.5px,#00ff27 47.5px,#00ff8c 68.5px,#00fff2 74.5px,#00fbff 75.5px,#0008ff 89.5px,#0000f6 90.5px,#0000ea 91.5px,#0003ff 102.5px,#0024ff 113.5px,#0040ff 115.5px,#00fdff 127.5px,#00ff76 136.5px,#02ff00 140.5px,#f5ff00 148.5px,#ffeb00 149.5px,#ff1300 156.5px,#fe0204 157.5px,#fa0a15 159.5px,#fb0913 172.5px,#fd0307 181.5px,#fe0103 182.5px,#ff0a00 183.5px,#ffd700 195.5px,#fff800 197.5px,#f5ff00 198.5px,#92ff00 204.5px)"></i><i style="top:55px;height:1px;background:linear-gradient(90deg,#9eff00 0.5px,#25ff00 23.5px,#00ff02 36.5px,#00ff27 47.5px,#00ff8c 68.5px,#00fff5 74.5px,#00f7ff 75.5px,#000fff 88.5px,#0000fc 89.5px,#0000e9 90.5px,#0000de 91.5px,#0002ff 106.5px,#001bff 113.5px,#0037ff 115.5px,#00f6ff 127.5px,#00fff8 128.5px,#00ff7d 136.5px,#00ff03 140.5px,#58ff00 143.5px,#f0ff00 148.5px,#fff000 149.5px,#ff1700 156.5px,#fe0103 157.5px,#fb0a14 159.5px,#fb0913 172.5px,#fe0307 181.5px,#ff0102 182.5px,#ff0b00 183.5px,#ffd700 195.5px,#fff800 197.5px,#f5ff00 198.5px,#93ff00 204.5px)"></i><i style="top:56px;height:1px;background:linear-gradient(90deg,#a0ff00 0.5px,#26ff00 23.5px,#00ff02 36.5px,#00ff27 47.5px,#00ff8d 68.5px,#00fff9 74.5px,#00f3ff 75.5px,#0003ff 88.5px,#0000dd 90.5px,#0000d1 91.5px,#0000ef 104.5px,#0001ff 109.5px,#0011ff 113.5px,#002eff 115.5px,#00ffff 128.5px,#00ff83 136.5px,#00ff09 140.5px,#15ff00 141.5px,#ebff00 148.5px,#fff400 149.5px,#ff1b00 156.5px,#ff0101 157.5px,#fb0913 159.5px,#fb0912 172.5px,#fe0306 181.5px,#ff0102 182.5px,#ff0d00 183.5px,#ffd800 195.5px,#fff800 197.5px,#f5ff00 198.5px,#93ff00 204.5px)"></i><i style="top:57px;height:1px;background:linear-gradient(90deg,#a1ff00 0.5px,#27ff00 23.5px,#00ff02 36.5px,#00ff27 47.5px,#00ff8e 68.5px,#00fffd 74.5px,#0045ff 84.5px,#000bff 87.5px,#0000f7 88.5px,#0000d0 90.5px,#0000c4 91.5px,#0000e2 104.5px,#0003ff 112.5px,#0007ff 113.5px,#0024ff 115.5px,#00f8ff 128.5px,#00fff6 129.5px,#00ff89 136.5px,#00ff0f 140.5px,#10ff00 141.5px,#e6ff00 148.5px,#fff900 149.5px,#ff0000 157.5px,#fb0911 159.5px,#fb0911 172.5px,#fe0306 181.5px,#ff0101 182.5px,#ff2000 184.5px,#fff900 197.5px,#f5ff00 198.5px,#93ff00 204.5px)"></i><i style="top:58px;height:1px;background:linear-gradient(90deg,#a3ff00 0.5px,#28ff00 23.5px,#00ff01 36.5px,#00ff27 47.5px,#00ff8f 68.5px,#00feff 74.5px,#0000ff 87.5px,#0000c3 90.5px,#0000b6 91.5px,#0000d2 103.5px,#0000fc 113.5px,#000aff 114.5px,#00f1ff 128.5px,#00fffd 129.5px,#00ff8f 136.5px,#00ff14 140.5px,#0aff00 141.5px,#fffd00 149.5px,#ff0300 157.5px,#fb0810 159.5px,#fb0811 172.5px,#fe0305 181.5px,#ff0001 182.5px,#fff900 197.5px,#f5ff00 198.5px,#94ff00 204.5px)"></i><i style="top:59px;height:1px;background:linear-gradient(90deg,#a5ff00 0.5px,#29ff00 23.5px,#00ff01 36.5px,#00ff27 47.5px,#00ff90 68.5px,#00fff1 73.5px,#00faff 74.5px,#000aff 86.5px,#0000f4 87.5px,#0000b6 90.5px,#0000a8 91.5px,#0000c1 102.5px,#0000e7 111.5px,#0000f1 113.5px,#0000fe 114.5px,#00faff 129.5px,#00fff4 130.5px,#00ff96 136.5px,#00ff1a 140.5px,#05ff00 141.5px,#fcff00 149.5px,#ff4600 155.5px,#ff0600 157.5px,#fd0408 158.5px,#fc0810 159.5px,#fb0810 172.5px,#fe0205 181.5px,#ff0001 182.5px,#fff900 197.5px,#f5ff00 198.5px,#94ff00 204.5px)"></i><i style="top:60px;height:1px;background:linear-gradient(90deg,#a7ff00 0.5px,#29ff00 23.5px,#00ff00 36.5px,#00ff27 47.5px,#00ff91 68.5px,#00fff4 73.5px,#00f6ff 74.5px,#0000fe 86.5px,#0000a8 90.5px,#00009a 91.5px,#0000b2 102.5px,#0000d6 110.5px,#0000e6 113.5px,#0000f4 114.5px,#0006ff 115.5px,#00e3ff 128.5px,#00fffb 130.5px,#00ff9c 136.5px,#00ff01 141.5px,#f8ff00 149.5px,#ffe700 150.5px,#ff0900 157.5px,#fd0408 158.5px,#fc070f 159.5px,#fb0810 172.5px,#fe0205 181.5px,#ff0000 182.5px,#ffb900 193.5px,#fff900 197.5px,#f5ff00 198.5px,#95ff00 204.5px)"></i><i style="top:61px;height:1px;background:linear-gradient(90deg,#a8ff00 0.5px,#2aff00 23.5px,#00ff00 36.5px,#00ff27 47.5px,#00ff92 68.5px,#00fff7 73.5px,#00f2ff 74.5px,#000aff 85.5px,#0000f3 86.5px,#00009b 90.5px,#00008c 91.5px,#0000a1 101.5px,#0000c3 109.5px,#0000db 113.5px,#0000fb 115.5px,#001fff 117.5px,#00ecff 129.5px,#00fcff 130.5px,#00ffa2 136.5px,#00ff06 141.5px,#19ff00 142.5px,#f4ff00 149.5px,#ffeb00 150.5px,#ff0c00 157.5px,#fe0307 158.5px,#fc070e 159.5px,#fc080f 172.5px,#fe0204 181.5px,#ff0000 182.5px,#ff9900 191.5px,#fff900 197.5px,#f5ff00 198.5px,#95ff00 204.5px)"></i><i style="top:62px;height:1px;background:linear-gradient(90deg,#aaff00 0.5px,#2bff00 23.5px,#00ff00 36.5px,#00ff27 47.5px,#00ff93 68.5px,#00fffb 73.5px,#00d9ff 75.5px,#0000ff 85.5px,#00008d 90.5px,#00007e 91.5px,#000092 101.5px,#0000b1 108.5px,#0000d0 113.5px,#0003ff 116.5px,#00c4ff 127.5px,#00f5ff 130.5px,#00fff8 131.5px,#00ffa9 136.5px,#00ff0b 141.5px,#14ff00 142.5px,#efff00 149.5px,#ffef00 150.5px,#ff0f00 157.5px,#fe0306 158.5px,#fc060d 159.5px,#fc070f 172.5px,#ff0200 182.5px,#ff9900 191.5px,#fff900 197.5px,#f5ff00 198.5px,#96ff00 204.5px)"></i><i style="top:63px;height:1px;background:linear-gradient(90deg,#acff00 0.5px,#2cff00 23.5px,#01ff00 36.5px,#00ff22 46.5px,#00ff94 68.5px,#00fffe 73.5px,#0024ff 83.5px,#000dff 84.5px,#0000f5 85.5px,#00007f 90.5px,#00006f 91.5px,#00007f 100.5px,#00009d 107.5px,#0000c4 113.5px,#0000e5 115.5px,#0000f8 116.5px,#000bff 117.5px,#00cdff 128.5px,#00ffff 131.5px,#00ffaf 136.5px,#00ff11 141.5px,#0fff00 142.5px,#ebff00 149.5px,#fff300 150.5px,#ff1200 157.5px,#fe0205 158.5px,#fc060c 159.5px,#fc070e 172.5px,#ff0300 182.5px,#ff9a00 191.5px,#fff900 197.5px,#f5ff00 198.5px,#96ff00 204.5px)"></i><i style="top:64px;height:1px;background:linear-gradient(90deg,#aeff00 0.5px,#2dff00 23.5px,#00ff02 37.5px,#00ff27 47.5px,#00ff95 68.5px,#00fdff 73.5px,#001bff 83.5px,#0003ff 84.5px,#0000ba 87.5px,#000071 90.5px,#000061 91.5px,#000070 100.5px,#000089 106.5px,#0000b8 113.5px,#0000da 115.5px,#0001ff 117.5px,#00b5ff 127.5px,#00f8ff 131.5px,#00fff6 132.5px,#00ffb5 136.5px,#00ff16 141.5px,#09ff00 142.5px,#e7ff00 149.5px,#fff700 150.5px,#ff1500 157.5px,#fe0204 158.5px,#fd050b 159.5px,#fc070e 172.5px,#fe0103 181.5px,#ff0400 182.5px,#ff9a00 191.5px,#fff900 197.5px,#f5ff00 198.5px,#97ff00 204.5px)"></i><i style="top:65px;height:1px;background:linear-gradient(90deg,#afff00 0.5px,#2eff00 23.5px,#00ff02 37.5px,#00ff27 47.5px,#00ff96 68.5px,#00ffee 72.5px,#00f9ff 73.5px,#0012ff 83.5px,#0000f9 84.5px,#000063 90.5px,#000053 91.5px,#000061 100.5px,#00007b 106.5px,#0000ad 113.5px,#0000cf 115.5px,#0000f6 117.5px,#000aff 118.5px,#00aeff 127.5px,#00f1ff 131.5px,#00fffc 132.5px,#00ffbb 136.5px,#00ff1c 141.5px,#04ff00 142.5px,#e3ff00 149.5px,#fffb00 150.5px,#ff1800 157.5px,#fe0103 158.5px,#fd050a 159.5px,#fc070e 172.5px,#fe0103 181.5px,#ff0500 182.5px,#ff9b00 191.5px,#fff900 197.5px,#f5ff00 198.5px,#97ff00 204.5px)"></i><i style="top:66px;height:1px;background:linear-gradient(90deg,#b1ff00 0.5px,#2fff00 23.5px,#00ff02 37.5px,#00ff27 47.5px,#00ff97 68.5px,#00fff1 72.5px,#00f6ff 73.5px,#0009ff 83.5px,#0000ef 84.5px,#000055 90.5px,#000044 91.5px,#000052 100.5px,#00006d 106.5px,#0000a2 113.5px,#0000d8 116.5px,#0000ff 118.5px,#00a6ff 127.5px,#00fbff 132.5px,#00ffe2 134.5px,#00ffc2 136.5px,#00ff01 142.5px,#ffff00 150.5px,#ff1b00 157.5px,#ff0102 158.5px,#fd0509 159.5px,#fc060d 172.5px,#ff0102 181.5px,#ff0600 182.5px,#ff9c00 191.5px,#fff900 197.5px,#f5ff00 198.5px,#97ff00 204.5px)"></i><i style="top:67px;height:1px;background:linear-gradient(90deg,#b3ff00 0.5px,#30ff00 23.5px,#00ff01 37.5px,#00ff27 47.5px,#00ff98 68.5px,#00fff4 72.5px,#00f3ff 73.5px,#0019ff 82.5px,#0000ff 83.5px,#000048 90.5px,#000036 91.5px,#000041 99.5px,#000059 105.5px,#000085 111.5px,#000096 113.5px,#0000ce 116.5px,#0000f6 118.5px,#000aff 119.5px,#00b1ff 128.5px,#00f5ff 132.5px,#00fff9 133.5px,#00ffc8 136.5px,#00ff06 142.5px,#1aff00 143.5px,#fbff00 150.5px,#ffc300 152.5px,#ff1e00 157.5px,#ff0101 158.5px,#fd0409 159.5px,#fc060d 172.5px,#ff0102 181.5px,#ff0700 182.5px,#ff9c00 191.5px,#fffa00 197.5px,#f5ff00 198.5px,#98ff00 204.5px)"></i><i style="top:68px;height:1px;background:linear-gradient(90deg,#b5ff00 0.5px,#30ff00 23.5px,#00ff01 37.5px,#00ff27 47.5px,#00ff99 68.5px,#00fff7 72.5px,#00efff 73.5px,#0011ff 82.5px,#0000f6 83.5px,#00003a 90.5px,#000028 91.5px,#000032 99.5px,#000046 104.5px,#000071 110.5px,#00008c 113.5px,#0000c4 116.5px,#0001ff 119.5px,#0098ff 127.5px,#00ffff 133.5px,#00ffce 136.5px,#00ff0c 142.5px,#15ff00 143.5px,#f7ff00 150.5px,#ffe700 151.5px,#ff0000 158.5px,#fd0408 159.5px,#fc060c 172.5px,#ff0101 181.5px,#ff0900 182.5px,#ff9d00 191.5px,#fffa00 197.5px,#f5ff00 198.5px,#98ff00 204.5px)"></i><i style="top:69px;height:1px;background:linear-gradient(90deg,#b6ff00 0.5px,#31ff00 23.5px,#00ff01 37.5px,#00ff28 47.5px,#00ff9a 68.5px,#00fffa 72.5px,#00ecff 73.5px,#0009ff 82.5px,#0000ee 83.5px,#00002d 90.5px,#00001b 91.5px,#000025 99.5px,#000039 104.5px,#000065 110.5px,#000081 113.5px,#0000bb 116.5px,#0000f8 119.5px,#000cff 120.5px,#00a3ff 128.5px,#00f8ff 133.5px,#00fff5 134.5px,#00ffd4 136.5px,#00ff11 142.5px,#10ff00 143.5px,#f3ff00 150.5px,#ffeb00 151.5px,#ff0200 158.5px,#fd0307 159.5px,#fc060c 172.5px,#ff0101 181.5px,#ff0a00 182.5px,#ff9d00 191.5px,#fffa00 197.5px,#f5ff00 198.5px,#99ff00 204.5px)"></i><i style="top:70px;height:1px;background:linear-gradient(90deg,#b8ff00 0.5px,#32ff00 23.5px,#00ff00 37.5px,#00ff28 47.5px,#00ff9b 68.5px,#00fffc 72.5px,#009fff 76.5px,#0004ff 82.5px,#0000cd 84.5px,#000026 90.5px,#000013 91.5px,#00001d 99.5px,#000031 104.5px,#000056 109.5px,#00007c 113.5px,#0000b6 116.5px,#0000f3 119.5px,#0008ff 120.5px,#009fff 128.5px,#00f5ff 133.5px,#00fff8 134.5px,#00ffd7 136.5px,#00ff14 142.5px,#0dff00 143.5px,#f0ff00 150.5px,#ffee00 151.5px,#ff0400 158.5px,#fe0306 159.5px,#fd050b 172.5px,#ff0000 181.5px,#ff0c00 182.5px,#ff9e00 191.5px,#fffa00 197.5px,#e5ff00 199.5px,#99ff00 204.5px)"></i><i style="top:71px;height:1px;background:linear-gradient(90deg,#bbff00 0.5px,#34ff00 23.5px,#01ff00 37.5px,#00ff22 46.5px,#00ff9e 68.5px,#00fffe 72.5px,#0039ff 80.5px,#0005ff 82.5px,#0000e9 83.5px,#000028 90.5px,#000015 91.5px,#00001f 99.5px,#000034 104.5px,#000059 109.5px,#000080 113.5px,#0000bb 116.5px,#0000f8 119.5px,#000dff 120.5px,#00a4ff 128.5px,#00f9ff 133.5px,#00fff5 134.5px,#00ffd4 136.5px,#00ff12 142.5px,#0eff00 143.5px,#f0ff00 150.5px,#ffee00 151.5px,#ff0700 158.5px,#fe0306 160.5px,#fd050a 172.5px,#ff0200 181.5px,#ff2000 183.5px,#ffbe00 193.5px,#fffb00 197.5px,#e5ff00 199.5px,#9aff00 204.5px)"></i><i style="top:72px;height:1px;background:linear-gradient(90deg,#bdff00 0.5px,#36ff00 23.5px,#00ff02 38.5px,#00ff21 46.5px,#00ffa1 68.5px,#00feff 72.5px,#0020ff 81.5px,#0006ff 82.5px,#0000ea 83.5px,#00002a 90.5px,#000018 91.5px,#000022 99.5px,#000037 104.5px,#00005e 109.5px,#000085 113.5px,#0000c0 116.5px,#0000fd 119.5px,#00a8ff 128.5px,#00fdff 133.5px,#00ffd1 136.5px,#00ff10 142.5px,#10ff00 143.5px,#efff00 150.5px,#ffef00 151.5px,#ff0900 158.5px,#fe0204 159.5px,#fd0509 172.5px,#ff0100 180.5px,#ff0500 181.5px,#ff2300 183.5px,#ffc000 193.5px,#fffc00 197.5px,#c7ff00 201.5px,#9aff00 204.5px)"></i><i style="top:73px;height:1px;background:linear-gradient(90deg,#bfff00 0.5px,#38ff00 23.5px,#00ff01 38.5px,#00ff21 46.5px,#00ffa4 68.5px,#00fcff 72.5px,#0021ff 81.5px,#0007ff 82.5px,#0000ec 83.5px,#00002e 90.5px,#00001b 91.5px,#000026 99.5px,#00003c 104.5px,#000063 109.5px,#00008b 113.5px,#0000da 117.5px,#0003ff 119.5px,#009bff 127.5px,#00fffd 133.5px,#00ffcd 136.5px,#00ff0e 142.5px,#12ff00 143.5px,#efff00 150.5px,#ffef00 151.5px,#ff0b00 158.5px,#fe0204 159.5px,#fd0408 172.5px,#ff0100 179.5px,#ff0900 181.5px,#ff2600 183.5px,#ffc100 193.5px,#fffc00 197.5px,#9aff00 204.5px)"></i><i style="top:74px;height:1px;background:linear-gradient(90deg,#c1ff00 0.5px,#39ff00 23.5px,#00ff00 38.5px,#00ff21 46.5px,#00ffa8 68.5px,#00ffec 71.5px,#00faff 72.5px,#0022ff 81.5px,#0008ff 82.5px,#0000ed 83.5px,#000031 90.5px,#00001f 91.5px,#00002b 99.5px,#000041 104.5px,#000069 109.5px,#000092 113.5px,#0000e0 117.5px,#0000f4 118.5px,#0009ff 119.5px,#009fff 127.5px,#00f4ff 132.5px,#00fffa 133.5px,#00ffca 136.5px,#00ff0c 142.5px,#13ff00 143.5px,#efff00 150.5px,#fff000 151.5px,#ff0e00 158.5px,#fe0103 159.5px,#fd0407 172.5px,#ff0000 178.5px,#ff0c00 181.5px,#ff2a00 183.5px,#ffc300 193.5px,#fffd00 197.5px,#9bff00 204.5px)"></i><i style="top:75px;height:1px;background:linear-gradient(90deg,#c3ff00 0.5px,#37ff00 24.5px,#00ff00 38.5px,#00ff20 46.5px,#00ffab 68.5px,#00ffee 71.5px,#00f9ff 72.5px,#0023ff 81.5px,#000aff 82.5px,#0000ef 83.5px,#000036 90.5px,#000024 91.5px,#000030 99.5px,#000048 104.5px,#000070 109.5px,#000099 113.5px,#0000fa 118.5px,#0023ff 120.5px,#00b6ff 128.5px,#00f8ff 132.5px,#00fff6 133.5px,#00ffc6 136.5px,#00ff0a 142.5px,#15ff00 143.5px,#eeff00 150.5px,#fff000 151.5px,#ff1000 158.5px,#ff0102 159.5px,#fe0307 172.5px,#ff0300 178.5px,#ff1000 181.5px,#ff2d00 183.5px,#ffc400 193.5px,#fffe00 197.5px,#9bff00 204.5px)"></i><i style="top:76px;height:1px;background:linear-gradient(90deg,#c5ff00 0.5px,#39ff00 24.5px,#01ff00 38.5px,#00ff20 46.5px,#00ffae 68.5px,#00fff1 71.5px,#00f7ff 72.5px,#0024ff 81.5px,#000bff 82.5px,#0000f1 83.5px,#00003a 90.5px,#000029 91.5px,#000037 99.5px,#00004f 104.5px,#000078 109.5px,#0000a1 113.5px,#0002ff 118.5px,#0098ff 126.5px,#00fcff 132.5px,#00ffc3 136.5px,#00ff08 142.5px,#16ff00 143.5px,#eeff00 150.5px,#fff100 151.5px,#ff1300 158.5px,#ff0101 159.5px,#fe0306 172.5px,#ff0100 177.5px,#ff1300 181.5px,#ff3000 183.5px,#ffc600 193.5px,#ffff00 197.5px,#9cff00 204.5px)"></i><i style="top:77px;height:1px;background:linear-gradient(90deg,#c8ff00 0.5px,#3aff00 24.5px,#00ff02 39.5px,#00ff20 46.5px,#00ffb1 68.5px,#00fff3 71.5px,#00f5ff 72.5px,#0025ff 81.5px,#000dff 82.5px,#0000f3 83.5px,#000040 90.5px,#00002f 91.5px,#00003f 99.5px,#000058 104.5px,#000080 109.5px,#0000aa 113.5px,#0000f5 117.5px,#0009ff 118.5px,#009dff 126.5px,#00fffd 132.5px,#00ffbf 136.5px,#00ff07 142.5px,#18ff00 143.5px,#eeff00 150.5px,#fff100 151.5px,#ff1500 158.5px,#ff0000 159.5px,#fe0205 172.5px,#ff0000 176.5px,#ff1600 181.5px,#ff4300 184.5px,#fff200 196.5px,#feff00 197.5px,#9cff00 204.5px)"></i><i style="top:78px;height:1px;background:linear-gradient(90deg,#caff00 0.5px,#3cff00 24.5px,#00ff01 39.5px,#00ff1f 46.5px,#00ffb4 68.5px,#00fff5 71.5px,#00f4ff 72.5px,#0027ff 81.5px,#000fff 82.5px,#0000f6 83.5px,#000045 90.5px,#000035 91.5px,#000047 99.5px,#000061 104.5px,#000094 110.5px,#0000b3 113.5px,#0000fd 117.5px,#00b4ff 127.5px,#00f5ff 131.5px,#00fff9 132.5px,#00ffbb 136.5px,#00ff05 142.5px,#38ff00 144.5px,#eeff00 150.5px,#fff200 151.5px,#ff1800 158.5px,#ff0200 159.5px,#fe0204 172.5px,#ff0000 175.5px,#ff1a00 181.5px,#ff4600 184.5px,#fff200 196.5px,#feff00 197.5px,#9dff00 204.5px)"></i><i style="top:79px;height:1px;background:linear-gradient(90deg,#ccff00 0.5px,#3eff00 24.5px,#00ff00 39.5px,#00ff1f 46.5px,#00ffb7 68.5px,#00fff7 71.5px,#00f2ff 72.5px,#0029ff 81.5px,#0011ff 82.5px,#0000f9 83.5px,#00004c 90.5px,#00003b 91.5px,#000050 99.5px,#00006b 104.5px,#00009e 110.5px,#0000bd 113.5px,#0000f3 116.5px,#0007ff 117.5px,#00a8ff 126.5px,#00faff 131.5px,#00fff5 132.5px,#00ffb8 136.5px,#00ff03 142.5px,#edff00 150.5px,#fff300 151.5px,#ff1a00 158.5px,#ff0400 159.5px,#ff0102 164.5px,#ff0102 173.5px,#ff0200 175.5px,#ff1d00 181.5px,#ff4900 184.5px,#fff300 196.5px,#fdff00 197.5px,#9dff00 204.5px)"></i><i style="top:80px;height:1px;background:linear-gradient(90deg,#ceff00 0.5px,#3fff00 24.5px,#00ff00 39.5px,#00ff1f 46.5px,#00ffba 68.5px,#00fff9 71.5px,#00f0ff 72.5px,#0014ff 82.5px,#0000fb 83.5px,#000052 90.5px,#000042 91.5px,#00005a 99.5px,#00007d 105.5px,#0000b2 111.5px,#0000c7 113.5px,#0000fc 116.5px,#0046ff 120.5px,#00dfff 129.5px,#00feff 131.5px,#00ffb4 136.5px,#00ff01 142.5px,#edff00 150.5px,#fff300 151.5px,#ff1c00 158.5px,#ff0700 159.5px,#ff0001 164.5px,#ff0001 173.5px,#ff0500 175.5px,#ff2100 181.5px,#ff4c00 184.5px,#fff400 196.5px,#fcff00 197.5px,#9eff00 204.5px)"></i><i style="top:81px;height:1px;background:linear-gradient(90deg,#d0ff00 0.5px,#41ff00 24.5px,#01ff00 39.5px,#00ff1e 46.5px,#00ffbc 68.5px,#00fffb 71.5px,#00daff 73.5px,#0000fe 83.5px,#000059 90.5px,#000049 91.5px,#000069 100.5px,#00008f 106.5px,#0000d2 113.5px,#0000f3 115.5px,#0006ff 116.5px,#00b4ff 126.5px,#00f3ff 130.5px,#00fffb 131.5px,#00ffb1 136.5px,#01ff00 142.5px,#edff00 150.5px,#fff400 151.5px,#ff1f00 158.5px,#ff0900 159.5px,#ff0001 165.5px,#ff0000 173.5px,#ff2400 181.5px,#ffcd00 193.5px,#fff500 196.5px,#fbff00 197.5px,#9eff00 204.5px)"></i><i style="top:82px;height:1px;background:linear-gradient(90deg,#d3ff00 0.5px,#43ff00 24.5px,#00ff02 40.5px,#00ff1e 46.5px,#00ffbf 68.5px,#00fffc 71.5px,#0085ff 77.5px,#0002ff 83.5px,#000060 90.5px,#000051 91.5px,#000073 100.5px,#00009b 106.5px,#0000dc 113.5px,#0000fd 115.5px,#00caff 127.5px,#00f8ff 130.5px,#00fff7 131.5px,#00ffad 136.5px,#00ff1a 141.5px,#03ff00 142.5px,#ecff00 150.5px,#fff400 151.5px,#ff2100 158.5px,#ff0c00 159.5px,#ff0001 167.5px,#ff0400 173.5px,#ff2800 181.5px,#ffcf00 193.5px,#fff600 196.5px,#fbff00 197.5px,#9eff00 204.5px)"></i><i style="top:83px;height:1px;background:linear-gradient(90deg,#d5ff00 0.5px,#44ff00 24.5px,#00ff01 40.5px,#00ff1e 46.5px,#00ffc2 68.5px,#00fffe 71.5px,#001bff 82.5px,#0005ff 83.5px,#0000ee 84.5px,#000066 90.5px,#000058 91.5px,#00007e 100.5px,#0000a7 106.5px,#0000e7 113.5px,#0000f6 114.5px,#0008ff 115.5px,#00c0ff 126.5px,#00fdff 130.5px,#00ffa9 136.5px,#00ff18 141.5px,#05ff00 142.5px,#ecff00 150.5px,#fff500 151.5px,#ff2400 158.5px,#ff0f00 159.5px,#ff0000 168.5px,#ff0400 172.5px,#ff2b00 181.5px,#ffd000 193.5px,#fff700 196.5px,#faff00 197.5px,#9fff00 204.5px)"></i><i style="top:84px;height:1px;background:linear-gradient(90deg,#d7ff00 0.5px,#46ff00 24.5px,#00ff01 40.5px,#00ff1d 46.5px,#00ffc5 68.5px,#00feff 71.5px,#0008ff 83.5px,#0000f2 84.5px,#00006d 90.5px,#000060 91.5px,#000089 100.5px,#0000bb 107.5px,#0000f2 113.5px,#0002ff 114.5px,#00c6ff 126.5px,#00fffc 130.5px,#00ffa6 136.5px,#00ff16 141.5px,#07ff00 142.5px,#ecff00 150.5px,#fff500 151.5px,#ff2600 158.5px,#ff1100 159.5px,#ff0300 169.5px,#ff0e00 174.5px,#ff2f00 181.5px,#ffd200 193.5px,#fff800 196.5px,#f9ff00 197.5px,#9fff00 204.5px)"></i><i style="top:85px;height:1px;background:linear-gradient(90deg,#d9ff00 0.5px,#48ff00 24.5px,#00ff00 40.5px,#00ff1d 46.5px,#00ffc8 68.5px,#00fcff 71.5px,#000bff 83.5px,#0000f5 84.5px,#000074 90.5px,#000067 91.5px,#00009a 101.5px,#0000cf 108.5px,#0000fd 113.5px,#001dff 115.5px,#00daff 127.5px,#00f8ff 129.5px,#00fff7 130.5px,#00ffa2 136.5px,#00ff14 141.5px,#09ff00 142.5px,#ecff00 150.5px,#fff600 151.5px,#ff2900 158.5px,#ff1400 159.5px,#ff0600 169.5px,#ff1100 174.5px,#ff3200 181.5px,#ffd300 193.5px,#fff900 196.5px,#f8ff00 197.5px,#a0ff00 204.5px)"></i><i style="top:86px;height:1px;background:linear-gradient(90deg,#dbff00 0.5px,#49ff00 24.5px,#01ff00 40.5px,#00ff1d 46.5px,#00ffcb 68.5px,#00fff1 70.5px,#00faff 71.5px,#000eff 83.5px,#0000f9 84.5px,#00007b 90.5px,#00006f 91.5px,#0000a5 101.5px,#0000e3 109.5px,#0000ff 112.5px,#0017ff 114.5px,#00e0ff 127.5px,#00fdff 129.5px,#00ff9e 136.5px,#00ff12 141.5px,#0bff00 142.5px,#ebff00 150.5px,#fff600 151.5px,#ff2b00 158.5px,#ff1700 159.5px,#ff0900 169.5px,#ff1400 174.5px,#ff3600 181.5px,#ffd400 193.5px,#fffa00 196.5px,#ebff00 198.5px,#a0ff00 204.5px)"></i><i style="top:87px;height:1px;background:linear-gradient(90deg,#ddff00 0.5px,#4bff00 24.5px,#02ff00 40.5px,#00ff1c 46.5px,#00ffce 68.5px,#00fff3 70.5px,#00f8ff 71.5px,#0011ff 83.5px,#0000fc 84.5px,#000082 90.5px,#000076 91.5px,#0000b7 102.5px,#0001ff 111.5px,#0014ff 113.5px,#00f4ff 128.5px,#00fffc 129.5px,#00ff9b 136.5px,#00ff0f 141.5px,#0cff00 142.5px,#ebff00 150.5px,#fff700 151.5px,#ff2d00 158.5px,#ff1900 159.5px,#ff0c00 169.5px,#ff1800 174.5px,#ff3900 181.5px,#ffd600 193.5px,#fffb00 196.5px,#eaff00 198.5px,#a1ff00 204.5px)"></i><i style="top:88px;height:1px;background:linear-gradient(90deg,#e0ff00 0.5px,#4dff00 24.5px,#00ff02 41.5px,#00ff1c 46.5px,#00ffd1 68.5px,#00fff5 70.5px,#00f6ff 71.5px,#0000ff 84.5px,#000089 90.5px,#00007d 91.5px,#0000c1 102.5px,#0000f9 109.5px,#0003ff 110.5px,#001eff 113.5px,#00f9ff 128.5px,#00fff7 129.5px,#00ff97 136.5px,#00ff0d 141.5px,#0eff00 142.5px,#ebff00 150.5px,#fff800 151.5px,#ff3000 158.5px,#ff1c00 159.5px,#ff0f00 169.5px,#ff1b00 174.5px,#ff3d00 181.5px,#ffd700 193.5px,#fffc00 196.5px,#c5ff00 201.5px,#a1ff00 204.5px)"></i><i style="top:89px;height:1px;background:linear-gradient(90deg,#e2ff00 0.5px,#4eff00 24.5px,#00ff02 41.5px,#00ff1c 46.5px,#00ffd4 68.5px,#00fff8 70.5px,#00f4ff 71.5px,#0004ff 84.5px,#0000dc 86.5px,#00008f 90.5px,#000084 91.5px,#0000d3 103.5px,#0000fb 108.5px,#000eff 110.5px,#0028ff 113.5px,#00feff 128.5px,#00ff93 136.5px,#00ff0b 141.5px,#10ff00 142.5px,#eaff00 150.5px,#fff800 151.5px,#ff3200 158.5px,#ff1f00 159.5px,#ff1200 169.5px,#ff1e00 174.5px,#ff4000 181.5px,#ffd900 193.5px,#fffd00 196.5px,#a1ff00 204.5px)"></i><i style="top:90px;height:1px;background:linear-gradient(90deg,#e4ff00 0.5px,#50ff00 24.5px,#00ff01 41.5px,#00ff1b 46.5px,#00ffd6 68.5px,#00fffa 70.5px,#00f2ff 71.5px,#0007ff 84.5px,#0000f3 85.5px,#000095 90.5px,#00008b 91.5px,#0000e5 104.5px,#0000fd 107.5px,#0032ff 113.5px,#00f6ff 127.5px,#00fffa 128.5px,#00ff90 136.5px,#00ff09 141.5px,#12ff00 142.5px,#eaff00 150.5px,#fff900 151.5px,#ff3500 158.5px,#ff2100 159.5px,#ff1600 169.5px,#ff2200 174.5px,#ff4400 181.5px,#ffda00 193.5px,#fffe00 196.5px,#a2ff00 204.5px)"></i><i style="top:91px;height:1px;background:linear-gradient(90deg,#e6ff00 0.5px,#52ff00 24.5px,#00ff00 41.5px,#00ff1b 46.5px,#00ffd9 68.5px,#00fffc 70.5px,#00bcff 74.5px,#000aff 84.5px,#0000f7 85.5px,#00009b 90.5px,#000091 91.5px,#0000ee 104.5px,#0000fe 106.5px,#003cff 113.5px,#00fbff 127.5px,#00ffe8 129.5px,#00ff8c 136.5px,#00ff07 141.5px,#14ff00 142.5px,#eaff00 150.5px,#fff900 151.5px,#ff3700 158.5px,#ff2400 159.5px,#ff1900 169.5px,#ff2500 174.5px,#ff4700 181.5px,#ffdc00 193.5px,#ffff00 196.5px,#a2ff00 204.5px)"></i><i style="top:92px;height:1px;background:linear-gradient(90deg,#e8ff00 0.5px,#53ff00 24.5px,#00ff00 41.5px,#00ff1b 46.5px,#00ffdc 68.5px,#00fffe 70.5px,#000dff 84.5px,#0000fa 85.5px,#0000a1 90.5px,#000097 91.5px,#0000ff 105.5px,#0045ff 113.5px,#00fffe 127.5px,#00ff89 136.5px,#00ff04 141.5px,#30ff00 143.5px,#eaff00 150.5px,#fffa00 151.5px,#ff3a00 158.5px,#ff2700 159.5px,#ff1c00 169.5px,#ff2900 174.5px,#ff4b00 181.5px,#ffdd00 193.5px,#feff00 196.5px,#a3ff00 204.5px)"></i><i style="top:93px;height:1px;background:linear-gradient(90deg,#ebff00 0.5px,#55ff00 24.5px,#01ff00 41.5px,#00ff1a 46.5px,#00ffdf 68.5px,#00feff 70.5px,#0000fd 85.5px,#0000a6 90.5px,#00009d 91.5px,#0001ff 104.5px,#004eff 113.5px,#00f9ff 126.5px,#00fff8 127.5px,#00ff85 136.5px,#00ff02 141.5px,#e9ff00 150.5px,#fffa00 151.5px,#ff3c00 158.5px,#ff2900 159.5px,#ff1f00 169.5px,#ff2c00 174.5px,#ff4e00 181.5px,#ffdf00 193.5px,#fdff00 196.5px,#a3ff00 204.5px)"></i><i style="top:94px;height:1px;background:linear-gradient(90deg,#efff00 0.5px,#58ff00 24.5px,#02ff00 41.5px,#00ff1a 46.5px,#00ffd9 68.5px,#00fffa 70.5px,#00e2ff 72.5px,#0006ff 85.5px,#0000f3 86.5px,#0000af 90.5px,#0000a5 91.5px,#0000fe 103.5px,#0051ff 113.5px,#00fdff 126.5px,#00ff7e 136.5px,#03ff00 141.5px,#eaff00 150.5px,#fffa00 151.5px,#ff3f00 158.5px,#ff2c00 159.5px,#ff2200 169.5px,#ff2f00 174.5px,#ff5100 181.5px,#ffe000 193.5px,#fdff00 196.5px,#a4ff00 204.5px)"></i><i style="top:95px;height:1px;background:linear-gradient(90deg,#f3ff00 0.5px,#5aff00 24.5px,#00ff02 42.5px,#00ff19 46.5px,#00ffd3 68.5px,#00fff4 70.5px,#00faff 71.5px,#000dff 85.5px,#0000fb 86.5px,#0000b7 90.5px,#0000ae 91.5px,#0000fd 102.5px,#0054ff 113.5px,#00f5ff 125.5px,#00fffc 126.5px,#00ff77 136.5px,#00ff12 140.5px,#08ff00 141.5px,#ecff00 150.5px,#fff900 151.5px,#ff4100 158.5px,#ff2f00 159.5px,#ff2500 169.5px,#ff3200 174.5px,#ff5400 181.5px,#ffe000 193.5px,#fdff00 196.5px,#a5ff00 204.5px)"></i><i style="top:96px;height:1px;background:linear-gradient(90deg,#f8ff00 0.5px,#5dff00 24.5px,#00ff02 42.5px,#00ff18 46.5px,#00ffcc 68.5px,#00fffe 71.5px,#0004ff 86.5px,#0000d0 89.5px,#0000bf 90.5px,#0000b6 91.5px,#0000fb 101.5px,#0012ff 104.5px,#0056ff 113.5px,#00f9ff 125.5px,#00fff7 126.5px,#00ff70 136.5px,#00ff0c 140.5px,#0cff00 141.5px,#edff00 150.5px,#fff800 151.5px,#ff4300 158.5px,#ff3100 159.5px,#ff2800 169.5px,#ff3400 174.5px,#ff5600 181.5px,#ffe100 193.5px,#fcff00 196.5px,#a6ff00 204.5px)"></i><i style="top:97px;height:1px;background:linear-gradient(90deg,#fcff00 0.5px,#5fff00 24.5px,#00ff01 42.5px,#00ff18 46.5px,#00ffc6 68.5px,#00fff8 71.5px,#00f6ff 72.5px,#000bff 86.5px,#0000f9 87.5px,#0000c7 90.5px,#0000be 91.5px,#0002ff 101.5px,#0058ff 113.5px,#00fdff 125.5px,#00ff69 136.5px,#00ff07 140.5px,#11ff00 141.5px,#eeff00 150.5px,#fff700 151.5px,#ff4500 158.5px,#ff3400 159.5px,#ff2b00 169.5px,#ff3700 174.5px,#ff5900 181.5px,#ffe200 193.5px,#fcff00 196.5px,#a7ff00 204.5px)"></i><i style="top:98px;height:1px;background:linear-gradient(90deg,#fffd00 0.5px,#5cff00 25.5px,#00ff00 42.5px,#00ff1f 47.5px,#00ffc0 68.5px,#00fcff 72.5px,#0001ff 87.5px,#0000ce 90.5px,#0000c5 91.5px,#0001ff 100.5px,#005aff 113.5px,#00f4ff 124.5px,#00fffc 125.5px,#00ff62 136.5px,#00ff02 140.5px,#efff00 150.5px,#fff700 151.5px,#ff4800 158.5px,#ff3600 159.5px,#ff2e00 169.5px,#ff3a00 174.5px,#ff5b00 181.5px,#ffe300 193.5px,#fcff00 196.5px,#a8ff00 204.5px)"></i><i style="top:99px;height:1px;background:linear-gradient(90deg,#fff900 0.5px,#feff00 1.5px,#64ff00 24.5px,#01ff00 42.5px,#00ff1e 47.5px,#00ffb9 68.5px,#00fffb 72.5px,#00e2ff 74.5px,#0009ff 87.5px,#0000f7 88.5px,#0000d6 90.5px,#0000cd 91.5px,#0000ff 99.5px,#005cff 113.5px,#00f8ff 124.5px,#00fff8 125.5px,#00ff5b 136.5px,#00ff14 139.5px,#04ff00 140.5px,#f0ff00 150.5px,#fff600 151.5px,#ff4a00 158.5px,#ff3900 159.5px,#ff3100 169.5px,#ff3d00 174.5px,#ff5e00 181.5px,#ffe300 193.5px,#fbff00 196.5px,#a8ff00 204.5px)"></i><i style="top:100px;height:1px;background:linear-gradient(90deg,#fff400 0.5px,#fcff00 2.5px,#67ff00 24.5px,#01ff00 42.5px,#00ff1d 47.5px,#00ffb3 68.5px,#00fff4 72.5px,#00f9ff 73.5px,#0000fe 88.5px,#0000dd 90.5px,#0000d4 91.5px,#0000ff 98.5px,#005eff 113.5px,#00fcff 124.5px,#00ffd7 127.5px,#00ff54 136.5px,#00ff0e 139.5px,#09ff00 140.5px,#f1ff00 150.5px,#fff500 151.5px,#ff4c00 158.5px,#ff3b00 159.5px,#ff3300 169.5px,#ff4000 174.5px,#ff6100 181.5px,#ffe400 193.5px,#fff900 195.5px,#fbff00 196.5px,#a9ff00 204.5px)"></i><i style="top:101px;height:1px;background:linear-gradient(90deg,#fff000 0.5px,#fffe00 2.5px,#63ff00 25.5px,#02ff00 42.5px,#00ff1c 47.5px,#00ffac 68.5px,#00fffe 73.5px,#0007ff 88.5px,#0000f5 89.5px,#0000e5 90.5px,#0000dc 91.5px,#0000ff 97.5px,#005fff 113.5px,#00b5ff 119.5px,#00fffe 124.5px,#00ff4d 136.5px,#00ff09 139.5px,#0eff00 140.5px,#f3ff00 150.5px,#fff400 151.5px,#ff4e00 158.5px,#ff3e00 159.5px,#ff3600 169.5px,#ff4300 174.5px,#ff6300 181.5px,#ffe500 193.5px,#fff900 195.5px,#fbff00 196.5px,#aaff00 204.5px)"></i><i style="top:102px;height:1px;background:linear-gradient(90deg,#ffeb00 0.5px,#feff00 3.5px,#66ff00 25.5px,#03ff00 42.5px,#00ff15 46.5px,#00ffa5 68.5px,#00fff7 73.5px,#00f6ff 74.5px,#000eff 88.5px,#0000fd 89.5px,#0000ec 90.5px,#0000e3 91.5px,#0000ff 96.5px,#0060ff 113.5px,#00a9ff 118.5px,#00f4ff 123.5px,#00fffb 124.5px,#00ff46 136.5px,#00ff03 139.5px,#b0ff00 147.5px,#f4ff00 150.5px,#fff400 151.5px,#ff5100 158.5px,#ff4000 159.5px,#ff3900 169.5px,#ff4600 174.5px,#ff6600 181.5px,#ffe500 193.5px,#fff900 195.5px,#fbff00 196.5px,#abff00 204.5px)"></i><i style="top:103px;height:1px;background:linear-gradient(90deg,#ffe700 0.5px,#fffc00 3.5px,#c9ff00 11.5px,#68ff00 25.5px,#00ff02 43.5px,#00ff9e 68.5px,#00feff 74.5px,#0005ff 89.5px,#0000ea 91.5px,#0000ff 95.5px,#0062ff 113.5px,#009cff 117.5px,#00f8ff 123.5px,#00fff7 124.5px,#00ff3f 136.5px,#03ff00 139.5px,#f5ff00 150.5px,#fff300 151.5px,#ff5300 158.5px,#ff4300 159.5px,#ff3c00 169.5px,#ff4900 174.5px,#ff6800 181.5px,#fff000 194.5px,#faff00 196.5px,#acff00 204.5px)"></i><i style="top:104px;height:1px;background:linear-gradient(90deg,#ffe200 0.5px,#ffff00 4.5px,#6bff00 25.5px,#00ff01 43.5px,#00ff97 68.5px,#00fff9 74.5px,#00f4ff 75.5px,#000cff 89.5px,#0000fb 90.5px,#0000f1 91.5px,#0002ff 94.5px,#0063ff 113.5px,#008eff 116.5px,#00fcff 123.5px,#00ffd4 126.5px,#00ff38 136.5px,#00ff0d 138.5px,#09ff00 139.5px,#f6ff00 150.5px,#fff200 151.5px,#ff5500 158.5px,#ff4600 159.5px,#ff3f00 169.5px,#ff4c00 174.5px,#ff6b00 181.5px,#fff100 194.5px,#fffa00 195.5px,#f0ff00 197.5px,#adff00 204.5px)"></i><i style="top:105px;height:1px;background:linear-gradient(90deg,#ffde00 0.5px,#fcff00 5.5px,#6dff00 25.5px,#00ff01 43.5px,#00ff8f 68.5px,#00fff2 74.5px,#00fcff 75.5px,#0003ff 90.5px,#0000f9 91.5px,#0003ff 93.5px,#0064ff 113.5px,#0090ff 116.5px,#00ffff 123.5px,#00ff31 136.5px,#00ff07 138.5px,#0eff00 139.5px,#f7ff00 150.5px,#fff100 151.5px,#ff5800 158.5px,#ff4800 159.5px,#ff4200 169.5px,#ff4f00 174.5px,#ff6e00 181.5px,#fff100 194.5px,#fffb00 195.5px,#f0ff00 197.5px,#aeff00 204.5px)"></i><i style="top:106px;height:1px;background:linear-gradient(90deg,#ffd900 0.5px,#fffe00 5.5px,#6fff00 25.5px,#00ff00 43.5px,#00ff58 59.5px,#00ff88 68.5px,#00fffb 75.5px,#00e1ff 77.5px,#000aff 90.5px,#0001ff 91.5px,#0065ff 113.5px,#0082ff 115.5px,#00f3ff 122.5px,#00fffb 123.5px,#00ff2a 136.5px,#00ff01 138.5px,#f8ff00 150.5px,#fff100 151.5px,#ff5a00 158.5px,#ff4b00 159.5px,#ff4600 169.5px,#ff5200 174.5px,#ff7000 181.5px,#fff200 194.5px,#fffb00 195.5px,#f0ff00 197.5px,#afff00 204.5px)"></i><i style="top:107px;height:1px;background:linear-gradient(90deg,#ffd500 0.5px,#fdff00 6.5px,#72ff00 25.5px,#01ff00 43.5px,#00ff4e 58.5px,#00ff80 68.5px,#00fff3 75.5px,#00faff 76.5px,#0011ff 90.5px,#0008ff 91.5px,#0066ff 113.5px,#0083ff 115.5px,#00f6ff 122.5px,#00fff8 123.5px,#00ff23 136.5px,#00ff0f 137.5px,#06ff00 138.5px,#f9ff00 150.5px,#fff000 151.5px,#ff5c00 158.5px,#ff4e00 159.5px,#ff4900 169.5px,#ff5500 174.5px,#ff7300 181.5px,#fff200 194.5px,#fffc00 195.5px,#ddff00 199.5px,#afff00 204.5px)"></i><i style="top:108px;height:1px;background:linear-gradient(90deg,#ffd000 0.5px,#fffd00 6.5px,#74ff00 25.5px,#01ff00 43.5px,#00ff45 57.5px,#00ff78 68.5px,#00fffd 76.5px,#0018ff 90.5px,#000fff 91.5px,#0067ff 113.5px,#0084ff 115.5px,#00f9ff 122.5px,#00fff4 123.5px,#00ff1c 136.5px,#00ff08 137.5px,#0cff00 138.5px,#fbff00 150.5px,#ffdb00 152.5px,#ff5f00 158.5px,#ff5000 159.5px,#ff4c00 169.5px,#ff5800 174.5px,#ff7600 181.5px,#fff300 194.5px,#fffc00 195.5px,#c2ff00 202.5px,#b0ff00 204.5px)"></i><i style="top:109px;height:1px;background:linear-gradient(90deg,#ffcb00 0.5px,#fdff00 7.5px,#77ff00 25.5px,#02ff00 43.5px,#00ff3d 56.5px,#00ff70 68.5px,#00fff5 76.5px,#00f8ff 77.5px,#001fff 90.5px,#0016ff 91.5px,#0068ff 113.5px,#0086ff 115.5px,#00fcff 122.5px,#00ff48 133.5px,#00ff02 137.5px,#fcff00 150.5px,#ffc700 153.5px,#ff6100 158.5px,#ff5300 159.5px,#ff4f00 169.5px,#ff5b00 174.5px,#ff7800 181.5px,#fffd00 195.5px,#b1ff00 204.5px)"></i><i style="top:110px;height:1px;background:linear-gradient(90deg,#ffc700 0.5px,#fffc00 7.5px,#79ff00 25.5px,#03ff00 43.5px,#00ff21 50.5px,#00ff67 68.5px,#00fffe 77.5px,#0026ff 90.5px,#001dff 91.5px,#0069ff 113.5px,#0087ff 115.5px,#00ffff 122.5px,#00ff0e 136.5px,#05ff00 137.5px,#fdff00 150.5px,#ff7800 157.5px,#ff6300 158.5px,#ff5500 159.5px,#ff5200 169.5px,#ff6200 175.5px,#ff7b00 181.5px,#fffd00 195.5px,#b2ff00 204.5px)"></i><i style="top:111px;height:1px;background:linear-gradient(90deg,#ffc200 0.5px,#feff00 8.5px,#7bff00 25.5px,#04ff00 43.5px,#00ff0e 46.5px,#00ff3b 58.5px,#00ff5a 67.5px,#00ff5e 68.5px,#00fff6 77.5px,#00f7ff 78.5px,#002eff 90.5px,#0024ff 91.5px,#006aff 113.5px,#0089ff 115.5px,#00f1ff 121.5px,#00fffb 122.5px,#00ff07 136.5px,#0cff00 137.5px,#feff00 150.5px,#ff6500 158.5px,#ff5800 159.5px,#ff5500 169.5px,#ff6500 175.5px,#ff7e00 181.5px,#fffd00 195.5px,#b3ff00 204.5px)"></i><i style="top:112px;height:1px;background:linear-gradient(90deg,#ffbd00 0.5px,#fffc00 8.5px,#d2ff00 14.5px,#77ff00 26.5px,#00ff02 44.5px,#00ff1d 50.5px,#00ff51 67.5px,#00ff55 68.5px,#00ffdc 76.5px,#00ffff 78.5px,#0045ff 89.5px,#0035ff 90.5px,#002bff 91.5px,#006bff 113.5px,#008aff 115.5px,#00f4ff 121.5px,#00fff8 122.5px,#00ff00 136.5px,#ffff00 150.5px,#ff6800 158.5px,#ff5b00 159.5px,#ff5900 170.5px,#ff6c00 176.5px,#ff8000 181.5px,#fffe00 195.5px,#b4ff00 204.5px)"></i><i style="top:113px;height:1px;background:linear-gradient(90deg,#ffb800 0.5px,#feff00 9.5px,#80ff00 25.5px,#00ff02 44.5px,#00ff18 49.5px,#00ff34 60.5px,#00ff4c 68.5px,#00ffd3 76.5px,#00fff7 78.5px,#00f5ff 79.5px,#004cff 89.5px,#003cff 90.5px,#0032ff 91.5px,#006cff 113.5px,#0079ff 114.5px,#00f7ff 121.5px,#00fff5 122.5px,#00ff0b 135.5px,#07ff00 136.5px,#fffe00 150.5px,#ff6a00 158.5px,#ff5d00 159.5px,#ff5c00 170.5px,#ff6f00 176.5px,#ff8300 181.5px,#fffe00 195.5px,#b5ff00 204.5px)"></i><i style="top:114px;height:1px;background:linear-gradient(90deg,#ffb300 0.5px,#fffc00 9.5px,#d9ff00 14.5px,#7cff00 26.5px,#00ff01 44.5px,#00ff13 48.5px,#00ff2b 58.5px,#00ff3b 66.5px,#00ff42 68.5px,#00ffb9 75.5px,#00fdff 79.5px,#0053ff 89.5px,#0043ff 90.5px,#0039ff 91.5px,#006dff 113.5px,#007aff 114.5px,#00faff 121.5px,#00ffdf 123.5px,#00ff04 135.5px,#1fff00 137.5px,#fffc00 150.5px,#ff6c00 158.5px,#ff6000 159.5px,#ff6000 170.5px,#ff7600 177.5px,#ff8600 181.5px,#ffff00 195.5px,#b6ff00 204.5px)"></i><i style="top:115px;height:1px;background:linear-gradient(90deg,#ffae00 0.5px,#feff00 10.5px,#85ff00 25.5px,#00ff00 44.5px,#00ff12 48.5px,#00ff24 57.5px,#00ff32 66.5px,#00ff39 68.5px,#00ffb0 75.5px,#00fff8 79.5px,#00f3ff 80.5px,#005aff 89.5px,#004aff 90.5px,#0040ff 91.5px,#006eff 113.5px,#007bff 114.5px,#00fdff 121.5px,#02ff00 135.5px,#f2ff00 149.5px,#fffb00 150.5px,#ff6f00 158.5px,#ff6200 159.5px,#ff6300 170.5px,#ff7900 177.5px,#ff8800 181.5px,#ffff00 195.5px,#b6ff00 204.5px)"></i><i style="top:116px;height:1px;background:linear-gradient(90deg,#ffa900 0.5px,#fffc00 10.5px,#b6ff00 19.5px,#5cff00 31.5px,#01ff00 44.5px,#00ff10 48.5px,#00ff1f 57.5px,#00ff28 66.5px,#00ff2f 68.5px,#00ff94 74.5px,#00fff0 79.5px,#00fcff 80.5px,#0061ff 89.5px,#0051ff 90.5px,#0047ff 91.5px,#006fff 113.5px,#007cff 114.5px,#00fffe 121.5px,#00ff0a 134.5px,#09ff00 135.5px,#f3ff00 149.5px,#fffa00 150.5px,#ff7100 158.5px,#ff6500 159.5px,#ff6600 170.5px,#ff7b00 177.5px,#ff8b00 181.5px,#feff00 195.5px,#b7ff00 204.5px)"></i><i style="top:117px;height:1px;background:linear-gradient(90deg,#ffa000 0.5px,#ffff00 11.5px,#8bff00 25.5px,#01ff00 44.5px,#00ff0f 48.5px,#00ff1a 56.5px,#00ff1e 65.5px,#00ff26 68.5px,#00ff8c 74.5px,#00fffc 80.5px,#00bbff 84.5px,#0057ff 90.5px,#004dff 91.5px,#0070ff 113.5px,#007dff 114.5px,#00fffd 121.5px,#00ff07 134.5px,#0cff00 135.5px,#f3ff00 149.5px,#fffa00 150.5px,#ff7300 158.5px,#ff6700 159.5px,#ff6800 170.5px,#ff7d00 177.5px,#ff8c00 181.5px,#fff900 194.5px,#feff00 195.5px,#b7ff00 204.5px)"></i><i style="top:118px;height:1px;background:linear-gradient(90deg,#ff9600 0.5px,#feff00 12.5px,#8fff00 25.5px,#02ff00 44.5px,#00ff0e 48.5px,#00ff17 56.5px,#00ff17 65.5px,#00ff1f 68.5px,#00ff73 73.5px,#00fff6 80.5px,#00f5ff 81.5px,#006cff 89.5px,#005bff 90.5px,#0051ff 91.5px,#0071ff 113.5px,#007eff 114.5px,#00efff 120.5px,#00fffc 121.5px,#00ff07 134.5px,#0cff00 135.5px,#f2ff00 149.5px,#fffb00 150.5px,#ff7400 158.5px,#ff6900 159.5px,#ff6a00 170.5px,#ff7e00 177.5px,#ff8d00 181.5px,#fff900 194.5px,#fdff00 195.5px,#b5ff00 204.5px)"></i><i style="top:119px;height:1px;background:linear-gradient(90deg,#ff8b00 0.5px,#fff900 12.5px,#fcff00 13.5px,#93ff00 25.5px,#03ff00 44.5px,#00ff0f 49.5px,#00ff13 56.5px,#00ff10 65.5px,#00ff17 68.5px,#00ff6b 73.5px,#00fff1 80.5px,#00fbff 81.5px,#0080ff 88.5px,#0060ff 90.5px,#0056ff 91.5px,#0072ff 113.5px,#007fff 114.5px,#00f0ff 120.5px,#00fffb 121.5px,#00ff07 134.5px,#0cff00 135.5px,#f2ff00 149.5px,#fffc00 150.5px,#ff7600 158.5px,#ff6a00 159.5px,#ff6b00 170.5px,#ff8300 178.5px,#ff8d00 181.5px,#fffa00 194.5px,#f4ff00 196.5px,#b4ff00 204.5px)"></i><i style="top:120px;height:1px;background:linear-gradient(90deg,#ff8100 0.5px,#fffb00 13.5px,#f0ff00 15.5px,#97ff00 25.5px,#04ff00 44.5px,#00ff0a 47.5px,#00ff11 54.5px,#00ff09 65.5px,#00ff0f 68.5px,#00ff64 73.5px,#00fffe 81.5px,#0075ff 89.5px,#0065ff 90.5px,#005aff 91.5px,#0073ff 113.5px,#0080ff 114.5px,#00f0ff 120.5px,#00fffb 121.5px,#00ff07 134.5px,#0cff00 135.5px,#f1ff00 149.5px,#fffd00 150.5px,#ff7800 158.5px,#ff6c00 159.5px,#ff6d00 170.5px,#ff8300 178.5px,#ff8e00 181.5px,#fffb00 194.5px,#f3ff00 196.5px,#b3ff00 204.5px)"></i><i style="top:121px;height:1px;background:linear-gradient(90deg,#ff7600 0.5px,#fffe00 14.5px,#9bff00 25.5px,#05ff00 44.5px,#00ff07 46.5px,#00ff0e 53.5px,#00ff01 65.5px,#00ff07 68.5px,#00ff5c 73.5px,#00fff8 81.5px,#00f3ff 82.5px,#0079ff 89.5px,#0069ff 90.5px,#005fff 91.5px,#0074ff 113.5px,#0081ff 114.5px,#00f1ff 120.5px,#00fffa 121.5px,#00ff07 134.5px,#0cff00 135.5px,#f0ff00 149.5px,#fffe00 150.5px,#ff7900 158.5px,#ff6e00 159.5px,#ff6e00 170.5px,#ff8400 178.5px,#ff8e00 181.5px,#fffc00 194.5px,#e2ff00 198.5px,#b2ff00 204.5px)"></i><i style="top:122px;height:1px;background:linear-gradient(90deg,#ff6b00 0.5px,#fdff00 15.5px,#a7ff00 24.5px,#05ff00 44.5px,#00ff02 45.5px,#00ff0c 51.5px,#00ff04 58.5px,#04ff00 62.5px,#04ff00 67.5px,#01ff00 68.5px,#00ff41 72.5px,#00fff3 81.5px,#00f8ff 82.5px,#007eff 89.5px,#006eff 90.5px,#0063ff 91.5px,#0075ff 113.5px,#0082ff 114.5px,#00f2ff 120.5px,#00fffa 121.5px,#00ff07 134.5px,#0cff00 135.5px,#ffff00 150.5px,#ff7b00 158.5px,#ff6f00 159.5px,#ff7000 170.5px,#ff8800 179.5px,#ff8e00 181.5px,#fffd00 194.5px,#b0ff00 204.5px)"></i><i style="top:123px;height:1px;background:linear-gradient(90deg,#ff6000 0.5px,#fffb00 15.5px,#efff00 17.5px,#a3ff00 25.5px,#06ff00 44.5px,#00ff01 45.5px,#00ff0a 50.5px,#00ff04 56.5px,#06ff00 60.5px,#0eff00 65.5px,#0aff00 68.5px,#00ff06 69.5px,#00ff60 74.5px,#00feff 82.5px,#0093ff 88.5px,#0072ff 90.5px,#0068ff 91.5px,#0076ff 113.5px,#0082ff 114.5px,#00f2ff 120.5px,#00fff9 121.5px,#00ff07 134.5px,#0cff00 135.5px,#feff00 150.5px,#ff7c00 158.5px,#ff7100 159.5px,#ff7100 170.5px,#ff8900 179.5px,#ff8f00 181.5px,#fffd00 194.5px,#afff00 204.5px)"></i><i style="top:124px;height:1px;background:linear-gradient(90deg,#ff5500 0.5px,#ffc900 11.5px,#ffff00 16.5px,#afff00 24.5px,#00ff01 45.5px,#00ff08 50.5px,#02ff00 57.5px,#15ff00 64.5px,#12ff00 68.5px,#03ff00 69.5px,#00ff1f 71.5px,#00ff96 77.5px,#00fffb 82.5px,#00ddff 84.5px,#0077ff 90.5px,#006cff 91.5px,#0077ff 113.5px,#0083ff 114.5px,#00f3ff 120.5px,#00fff8 121.5px,#00ff07 134.5px,#0cff00 135.5px,#cdff00 147.5px,#fdff00 150.5px,#ff7e00 158.5px,#ff7300 159.5px,#ff7300 170.5px,#ff8900 179.5px,#ff8f00 181.5px,#fffe00 194.5px,#aeff00 204.5px)"></i><i style="top:125px;height:1px;background:linear-gradient(90deg,#ff4900 0.5px,#ffb600 10.5px,#fff900 16.5px,#fbff00 17.5px,#b3ff00 24.5px,#00ff00 45.5px,#00ff06 50.5px,#03ff00 56.5px,#1dff00 64.5px,#1aff00 68.5px,#0bff00 69.5px,#00ff05 70.5px,#00ff65 75.5px,#00fff6 82.5px,#00f5ff 83.5px,#008cff 89.5px,#007cff 90.5px,#0071ff 91.5px,#0078ff 113.5px,#0084ff 114.5px,#00f4ff 120.5px,#00fff8 121.5px,#00ff07 134.5px,#0cff00 135.5px,#bdff00 146.5px,#fcff00 150.5px,#ffa100 156.5px,#ff8000 158.5px,#ff7400 159.5px,#ff7400 170.5px,#ff8d00 180.5px,#ff9700 182.5px,#ffff00 194.5px,#acff00 204.5px)"></i><i style="top:126px;height:1px;background:linear-gradient(90deg,#ff3e00 0.5px,#ffa100 9.5px,#fffe00 17.5px,#afff00 25.5px,#01ff00 45.5px,#00ff04 51.5px,#04ff00 55.5px,#24ff00 64.5px,#23ff00 68.5px,#03ff00 70.5px,#00ff21 72.5px,#00fff0 82.5px,#00faff 83.5px,#0090ff 89.5px,#0080ff 90.5px,#0075ff 91.5px,#0078ff 113.5px,#0085ff 114.5px,#00f4ff 120.5px,#00fff7 121.5px,#00ff06 134.5px,#0cff00 135.5px,#acff00 145.5px,#fbff00 150.5px,#ffd300 153.5px,#ff8100 158.5px,#ff7600 159.5px,#ff7700 171.5px,#ff9000 181.5px,#feff00 194.5px,#abff00 204.5px)"></i><i style="top:127px;height:1px;background:linear-gradient(90deg,#ff3300 0.5px,#ff8d00 8.5px,#fff800 17.5px,#fbff00 18.5px,#b3ff00 25.5px,#02ff00 45.5px,#00ff02 51.5px,#07ff00 55.5px,#2bff00 64.5px,#2bff00 68.5px,#0cff00 70.5px,#00ff06 71.5px,#00ff6c 76.5px,#00fffe 83.5px,#0095ff 89.5px,#0085ff 90.5px,#007aff 91.5px,#0079ff 113.5px,#0086ff 114.5px,#00f5ff 120.5px,#00fff7 121.5px,#00ff06 134.5px,#0cff00 135.5px,#9cff00 144.5px,#faff00 150.5px,#ffe400 152.5px,#ff8300 158.5px,#ff7800 159.5px,#ff7800 171.5px,#ff9000 181.5px,#fdff00 194.5px,#aaff00 204.5px)"></i><i style="top:128px;height:1px;background:linear-gradient(90deg,#ff2700 0.5px,#ff8300 8.5px,#fffd00 18.5px,#b7ff00 25.5px,#02ff00 45.5px,#02ff00 52.5px,#18ff00 58.5px,#33ff00 64.5px,#35ff00 67.5px,#33ff00 68.5px,#02ff00 71.5px,#00ff39 74.5px,#00fff9 83.5px,#00f1ff 84.5px,#0089ff 90.5px,#007eff 91.5px,#007aff 112.5px,#007aff 113.5px,#0087ff 114.5px,#00f5ff 120.5px,#00fff6 121.5px,#00ff06 134.5px,#0cff00 135.5px,#8cff00 143.5px,#faff00 150.5px,#fff500 151.5px,#ff8400 158.5px,#ff7900 159.5px,#ff7a00 171.5px,#ff9100 181.5px,#fdff00 194.5px,#a8ff00 204.5px)"></i><i style="top:129px;height:1px;background:linear-gradient(90deg,#ff1b00 0.5px,#ff6d00 7.5px,#fff700 18.5px,#fbff00 19.5px,#bbff00 25.5px,#0bff00 44.5px,#03ff00 45.5px,#00ff00 50.5px,#0eff00 55.5px,#3aff00 64.5px,#3dff00 67.5px,#3bff00 68.5px,#0aff00 71.5px,#00ff09 72.5px,#00fff4 83.5px,#00f6ff 84.5px,#008eff 90.5px,#0083ff 91.5px,#007cff 110.5px,#007bff 113.5px,#0088ff 114.5px,#00f6ff 120.5px,#00fff6 121.5px,#00ff06 134.5px,#0cff00 135.5px,#7cff00 142.5px,#f9ff00 150.5px,#fff600 151.5px,#ff8600 158.5px,#ff7b00 159.5px,#ff7b00 171.5px,#ff9100 181.5px,#fffa00 193.5px,#fcff00 194.5px,#a7ff00 204.5px)"></i><i style="top:130px;height:1px;background:linear-gradient(90deg,#ff1000 0.5px,#ff6400 7.5px,#fffe00 19.5px,#bfff00 25.5px,#0cff00 44.5px,#04ff00 45.5px,#01ff00 49.5px,#0dff00 54.5px,#41ff00 64.5px,#45ff00 67.5px,#43ff00 68.5px,#00ff01 72.5px,#00ffef 83.5px,#00fbff 84.5px,#00a3ff 89.5px,#0093ff 90.5px,#0088ff 91.5px,#007dff 109.5px,#007cff 113.5px,#0088ff 114.5px,#00f7ff 120.5px,#00fff5 121.5px,#00ff06 134.5px,#0cff00 135.5px,#7cff00 142.5px,#f8ff00 150.5px,#fff700 151.5px,#ff8700 158.5px,#ff7c00 159.5px,#ff7d00 171.5px,#ff9200 181.5px,#fffb00 193.5px,#f2ff00 195.5px,#a6ff00 204.5px)"></i><i style="top:131px;height:1px;background:linear-gradient(90deg,#ff0400 0.5px,#ff5a00 7.5px,#ffec00 18.5px,#fff800 19.5px,#faff00 20.5px,#c3ff00 25.5px,#0dff00 44.5px,#04ff00 45.5px,#01ff00 48.5px,#0bff00 53.5px,#2cff00 59.5px,#47ff00 64.5px,#4cff00 67.5px,#4bff00 68.5px,#19ff00 71.5px,#06ff00 72.5px,#00ff0e 73.5px,#00ffd6 82.5px,#00fffe 84.5px,#0097ff 90.5px,#008cff 91.5px,#007fff 108.5px,#007dff 113.5px,#0089ff 114.5px,#00f7ff 120.5px,#00fff4 121.5px,#00ff06 134.5px,#0cff00 135.5px,#7bff00 142.5px,#f7ff00 150.5px,#fff800 151.5px,#ff8900 158.5px,#ff7e00 159.5px,#ff7e00 171.5px,#ff9200 181.5px,#fffb00 193.5px,#e9ff00 196.5px,#a4ff00 204.5px)"></i><i style="top:132px;height:1px;background:linear-gradient(90deg,#fe0103 0.5px,#ff0300 1.5px,#ff5e00 8.5px,#ffe600 18.5px,#ffff00 20.5px,#c7ff00 25.5px,#0eff00 44.5px,#05ff00 45.5px,#02ff00 48.5px,#0eff00 53.5px,#31ff00 59.5px,#4eff00 64.5px,#53ff00 67.5px,#52ff00 68.5px,#21ff00 71.5px,#0dff00 72.5px,#00ff07 73.5px,#00ffd1 82.5px,#00fff9 84.5px,#00f2ff 85.5px,#009cff 90.5px,#0090ff 91.5px,#0082ff 107.5px,#007eff 113.5px,#008aff 114.5px,#00f8ff 120.5px,#00fff4 121.5px,#00ff06 134.5px,#0cff00 135.5px,#6bff00 141.5px,#f6ff00 150.5px,#fff900 151.5px,#ff8b00 158.5px,#ff8000 159.5px,#ff7f00 171.5px,#ff9200 181.5px,#fffc00 193.5px,#ceff00 199.5px,#a3ff00 204.5px)"></i><i style="top:133px;height:1px;background:linear-gradient(90deg,#fe0306 0.5px,#ff0300 2.5px,#ff7200 10.5px,#ffed00 19.5px,#fffa00 20.5px,#ebff00 22.5px,#21ff00 42.5px,#06ff00 45.5px,#03ff00 48.5px,#10ff00 53.5px,#35ff00 59.5px,#54ff00 64.5px,#5aff00 67.5px,#59ff00 68.5px,#27ff00 71.5px,#00ff01 73.5px,#00ffcc 82.5px,#00fff4 84.5px,#00f6ff 85.5px,#00a0ff 90.5px,#0095ff 91.5px,#0084ff 106.5px,#007fff 113.5px,#008bff 114.5px,#00f8ff 120.5px,#00fff3 121.5px,#00ff06 134.5px,#0cff00 135.5px,#6bff00 141.5px,#f5ff00 150.5px,#fffa00 151.5px,#ff8c00 158.5px,#ff8100 159.5px,#ff8100 171.5px,#ff9300 181.5px,#fffd00 193.5px,#a2ff00 204.5px)"></i><i style="top:134px;height:1px;background:linear-gradient(90deg,#fd050a 0.5px,#fe0103 2.5px,#ff0400 3.5px,#ffdb00 18.5px,#fcff00 21.5px,#baff00 27.5px,#0fff00 44.5px,#06ff00 45.5px,#04ff00 48.5px,#12ff00 53.5px,#39ff00 59.5px,#5aff00 64.5px,#60ff00 67.5px,#5fff00 68.5px,#2eff00 71.5px,#05ff00 73.5px,#00ff10 74.5px,#00ffc7 82.5px,#00fff0 84.5px,#00fbff 85.5px,#00a5ff 90.5px,#0099ff 91.5px,#0086ff 106.5px,#0080ff 113.5px,#008cff 114.5px,#00f9ff 120.5px,#00fff3 121.5px,#00ff06 134.5px,#0cff00 135.5px,#6bff00 141.5px,#f4ff00 150.5px,#fffb00 151.5px,#ff8e00 158.5px,#ff8300 159.5px,#ff8200 171.5px,#ff9300 181.5px,#fffe00 193.5px,#a1ff00 204.5px)"></i><i style="top:135px;height:1px;background:linear-gradient(90deg,#fc070e 0.5px,#fe0102 3.5px,#ff0600 4.5px,#ffd500 18.5px,#fffd00 21.5px,#37ff00 40.5px,#07ff00 45.5px,#05ff00 48.5px,#14ff00 53.5px,#3dff00 59.5px,#5fff00 64.5px,#66ff00 67.5px,#65ff00 68.5px,#34ff00 71.5px,#0bff00 73.5px,#00ff0b 74.5px,#00ffc2 82.5px,#00fffe 85.5px,#00a9ff 90.5px,#009eff 91.5px,#0089ff 105.5px,#0081ff 113.5px,#008dff 114.5px,#00faff 120.5px,#00fff2 121.5px,#00ff06 134.5px,#0cff00 135.5px,#5bff00 140.5px,#f3ff00 150.5px,#fffc00 151.5px,#ff8f00 158.5px,#ff8500 159.5px,#ff8400 172.5px,#ff9400 181.5px,#fffe00 193.5px,#9fff00 204.5px)"></i><i style="top:136px;height:1px;background:linear-gradient(90deg,#fb0912 0.5px,#ff0101 4.5px,#ff0a00 5.5px,#ffc100 17.5px,#fff800 21.5px,#f9ff00 22.5px,#2eff00 41.5px,#08ff00 45.5px,#06ff00 48.5px,#16ff00 53.5px,#40ff00 59.5px,#64ff00 64.5px,#6bff00 67.5px,#6bff00 68.5px,#39ff00 71.5px,#11ff00 73.5px,#00ff05 74.5px,#00ffbe 82.5px,#00fffa 85.5px,#00dfff 87.5px,#00aeff 90.5px,#00a2ff 91.5px,#008cff 105.5px,#0082ff 113.5px,#008dff 114.5px,#00faff 120.5px,#00ffdf 122.5px,#00ff06 134.5px,#0cff00 135.5px,#5bff00 140.5px,#fffd00 151.5px,#ff9100 158.5px,#ff8600 159.5px,#ff8600 172.5px,#ff9400 181.5px,#ffff00 193.5px,#9eff00 204.5px)"></i><i style="top:137px;height:1px;background:linear-gradient(90deg,#fa0b16 0.5px,#ff0000 5.5px,#ffbb00 17.5px,#fdff00 22.5px,#2fff00 41.5px,#08ff00 45.5px,#06ff00 47.5px,#13ff00 52.5px,#33ff00 57.5px,#62ff00 63.5px,#6fff00 66.5px,#70ff00 68.5px,#3eff00 71.5px,#00ff00 74.5px,#00ffb9 82.5px,#00fff6 85.5px,#00f6ff 86.5px,#00b2ff 90.5px,#00a7ff 91.5px,#008eff 105.5px,#0083ff 113.5px,#008eff 114.5px,#00fbff 120.5px,#00ffdf 122.5px,#00ff06 134.5px,#0cff00 135.5px,#5bff00 140.5px,#fffe00 151.5px,#ff9200 158.5px,#ff8800 159.5px,#ff8700 172.5px,#ff9400 181.5px,#feff00 193.5px,#9dff00 204.5px)"></i><i style="top:138px;height:1px;background:linear-gradient(90deg,#f90d1a 0.5px,#fe0204 5.5px,#ff0400 6.5px,#ffb500 17.5px,#fffc00 22.5px,#bdff00 28.5px,#12ff00 44.5px,#09ff00 45.5px,#07ff00 47.5px,#14ff00 52.5px,#35ff00 57.5px,#66ff00 63.5px,#73ff00 66.5px,#74ff00 68.5px,#43ff00 71.5px,#04ff00 74.5px,#00ff2a 76.5px,#00ffb5 82.5px,#00fff2 85.5px,#00faff 86.5px,#00b7ff 90.5px,#00abff 91.5px,#0091ff 104.5px,#0084ff 113.5px,#008fff 114.5px,#00fcff 120.5px,#00ffcc 123.5px,#00ff06 134.5px,#0dff00 135.5px,#5aff00 140.5px,#ffff00 151.5px,#ff9400 158.5px,#ff8900 159.5px,#ff8800 172.5px,#ff9500 181.5px,#fdff00 193.5px,#9bff00 204.5px)"></i><i style="top:139px;height:1px;background:linear-gradient(90deg,#f80f1e 0.5px,#ff0102 6.5px,#ff0a00 7.5px,#ffa000 16.5px,#fff700 22.5px,#f9ff00 23.5px,#1dff00 43.5px,#09ff00 45.5px,#07ff00 47.5px,#16ff00 52.5px,#37ff00 57.5px,#69ff00 63.5px,#77ff00 66.5px,#78ff00 68.5px,#47ff00 71.5px,#08ff00 74.5px,#00ff0f 75.5px,#00ffb1 82.5px,#00feff 86.5px,#00bbff 90.5px,#00afff 91.5px,#0094ff 104.5px,#0085ff 113.5px,#0090ff 114.5px,#00fcff 120.5px,#00ff72 128.5px,#00ff05 134.5px,#0dff00 135.5px,#4bff00 139.5px,#feff00 151.5px,#ff9500 158.5px,#ff8b00 159.5px,#ff8900 172.5px,#ff9500 181.5px,#fdff00 193.5px,#9aff00 204.5px)"></i><i style="top:140px;height:1px;background:linear-gradient(90deg,#f81021 0.5px,#ff0200 7.5px,#ff9b00 16.5px,#fff400 22.5px,#fdff00 23.5px,#1eff00 43.5px,#0aff00 45.5px,#08ff00 47.5px,#17ff00 52.5px,#39ff00 57.5px,#6bff00 63.5px,#7aff00 66.5px,#7bff00 68.5px,#4aff00 71.5px,#0bff00 74.5px,#00ff0c 75.5px,#00ffae 82.5px,#00fffd 86.5px,#00beff 90.5px,#00b3ff 91.5px,#0096ff 104.5px,#0085ff 113.5px,#0091ff 114.5px,#00fdff 120.5px,#00ff05 134.5px,#0cff00 135.5px,#4bff00 139.5px,#fdff00 151.5px,#ff9700 158.5px,#ff8d00 159.5px,#ff8b00 172.5px,#ff9600 181.5px,#fff900 192.5px,#fcff00 193.5px,#99ff00 204.5px)"></i><i style="top:141px;height:1px;background:linear-gradient(90deg,#f71122 0.5px,#ff0000 7.5px,#ff9a00 16.5px,#fff400 22.5px,#fdff00 23.5px,#1eff00 43.5px,#0aff00 45.5px,#08ff00 47.5px,#17ff00 52.5px,#3aff00 57.5px,#6cff00 63.5px,#7aff00 66.5px,#7bff00 68.5px,#4bff00 71.5px,#0cff00 74.5px,#00ff0b 75.5px,#00ffad 82.5px,#00fffc 86.5px,#00bfff 90.5px,#00b4ff 91.5px,#0096ff 104.5px,#0086ff 113.5px,#0091ff 114.5px,#00fdff 120.5px,#00ff06 134.5px,#0cff00 135.5px,#4aff00 139.5px,#fcff00 151.5px,#ffa800 157.5px,#ff8e00 159.5px,#ff8e00 173.5px,#ff9800 181.5px,#fffa00 192.5px,#f2ff00 194.5px,#98ff00 204.5px)"></i><i style="top:142px;height:1px;background:linear-gradient(90deg,#f71123 0.5px,#ff0001 7.5px,#ff3300 10.5px,#ffa900 17.5px,#fff400 22.5px,#fdff00 23.5px,#1eff00 43.5px,#0bff00 45.5px,#09ff00 47.5px,#18ff00 52.5px,#3aff00 57.5px,#6cff00 63.5px,#7bff00 66.5px,#7cff00 68.5px,#4bff00 71.5px,#0cff00 74.5px,#00ff0b 75.5px,#00ffac 82.5px,#00fffb 86.5px,#00e0ff 88.5px,#00c0ff 90.5px,#00b5ff 91.5px,#0097ff 104.5px,#0087ff 113.5px,#0092ff 114.5px,#00fdff 120.5px,#00ff06 134.5px,#0cff00 135.5px,#59ff00 140.5px,#fbff00 151.5px,#ffe500 153.5px,#ff9a00 158.5px,#ff8f00 159.5px,#ff9000 173.5px,#ff9900 181.5px,#fffc00 192.5px,#deff00 196.5px,#97ff00 204.5px)"></i><i style="top:143px;height:1px;background:linear-gradient(90deg,#f71224 0.5px,#ff0102 7.5px,#ff0d00 8.5px,#ff9900 16.5px,#fff400 22.5px,#fdff00 23.5px,#1fff00 43.5px,#0bff00 45.5px,#09ff00 47.5px,#18ff00 52.5px,#3aff00 57.5px,#6cff00 63.5px,#7aff00 66.5px,#7bff00 68.5px,#4bff00 71.5px,#0cff00 74.5px,#00ff0b 75.5px,#00ffac 82.5px,#00fffa 86.5px,#00e1ff 88.5px,#00c1ff 90.5px,#00b5ff 91.5px,#0098ff 104.5px,#0087ff 113.5px,#0093ff 114.5px,#00feff 120.5px,#00ff06 134.5px,#0bff00 135.5px,#58ff00 140.5px,#faff00 151.5px,#ffe600 153.5px,#ff9b00 158.5px,#ff9100 159.5px,#ff9100 173.5px,#ff9b00 181.5px,#fffd00 192.5px,#96ff00 204.5px)"></i><i style="top:144px;height:1px;background:linear-gradient(90deg,#f71225 0.5px,#fe0102 7.5px,#ff0b00 8.5px,#ff9800 16.5px,#fff400 22.5px,#fdff00 23.5px,#1fff00 43.5px,#0bff00 45.5px,#0aff00 47.5px,#18ff00 52.5px,#3aff00 57.5px,#6bff00 63.5px,#79ff00 66.5px,#7bff00 68.5px,#4aff00 71.5px,#0cff00 74.5px,#00ff0b 75.5px,#00ffab 82.5px,#00fffa 86.5px,#00f3ff 87.5px,#00c2ff 90.5px,#00b6ff 91.5px,#0097ff 105.5px,#0088ff 113.5px,#0093ff 114.5px,#00feff 120.5px,#00ff07 134.5px,#0bff00 135.5px,#57ff00 140.5px,#f9ff00 151.5px,#fff600 152.5px,#ff9c00 158.5px,#ff9200 159.5px,#ff9300 173.5px,#ff9d00 181.5px,#fffe00 192.5px,#95ff00 204.5px)"></i><i style="top:145px;height:1px;background:linear-gradient(90deg,#f71226 0.5px,#fe0103 7.5px,#ff0900 8.5px,#ff9700 16.5px,#fff400 22.5px,#fdff00 23.5px,#1fff00 43.5px,#0cff00 45.5px,#0aff00 47.5px,#18ff00 52.5px,#39ff00 57.5px,#6aff00 63.5px,#78ff00 66.5px,#79ff00 68.5px,#49ff00 71.5px,#0bff00 74.5px,#00ff0c 75.5px,#00ffab 82.5px,#00fff9 86.5px,#00f3ff 87.5px,#00c2ff 90.5px,#00b7ff 91.5px,#0098ff 105.5px,#0089ff 113.5px,#0094ff 114.5px,#00ffff 120.5px,#00ff07 134.5px,#0bff00 135.5px,#57ff00 140.5px,#f8ff00 151.5px,#fff700 152.5px,#ff9e00 158.5px,#ff9400 159.5px,#ff9500 173.5px,#ff9e00 181.5px,#ffff00 192.5px,#94ff00 204.5px)"></i><i style="top:146px;height:1px;background:linear-gradient(90deg,#f61326 0.5px,#fe0204 7.5px,#ff0700 8.5px,#ff9700 16.5px,#fff300 22.5px,#fdff00 23.5px,#20ff00 43.5px,#0cff00 45.5px,#0aff00 47.5px,#18ff00 52.5px,#39ff00 57.5px,#69ff00 63.5px,#76ff00 66.5px,#77ff00 68.5px,#47ff00 71.5px,#09ff00 74.5px,#00ff0d 75.5px,#00ffab 82.5px,#00fff9 86.5px,#00f4ff 87.5px,#00c3ff 90.5px,#00b8ff 91.5px,#0098ff 105.5px,#008aff 113.5px,#0095ff 114.5px,#00ffff 120.5px,#00ff08 134.5px,#0aff00 135.5px,#56ff00 140.5px,#f7ff00 151.5px,#fff800 152.5px,#ff9f00 158.5px,#ff9500 159.5px,#ff9800 174.5px,#ffa000 181.5px,#fdff00 192.5px,#94ff00 204.5px)"></i><i style="top:147px;height:1px;background:linear-gradient(90deg,#f61327 0.5px,#fe0204 7.5px,#ff0500 8.5px,#ff9600 16.5px,#fff300 22.5px,#fdff00 23.5px,#20ff00 43.5px,#0cff00 45.5px,#0aff00 47.5px,#18ff00 52.5px,#38ff00 57.5px,#67ff00 63.5px,#74ff00 66.5px,#75ff00 68.5px,#45ff00 71.5px,#08ff00 74.5px,#00ff0f 75.5px,#00ffab 82.5px,#00fff8 86.5px,#00f4ff 87.5px,#00c4ff 90.5px,#00b9ff 91.5px,#0097ff 106.5px,#008aff 113.5px,#0095ff 114.5px,#00ffff 120.5px,#00ff08 134.5px,#0aff00 135.5px,#56ff00 140.5px,#f6ff00 151.5px,#fff900 152.5px,#ffa100 158.5px,#ff9700 159.5px,#ff9a00 174.5px,#ffa200 181.5px,#fff900 191.5px,#fcff00 192.5px,#93ff00 204.5px)"></i><i style="top:148px;height:1px;background:linear-gradient(90deg,#f61428 0.5px,#fe0205 7.5px,#ff0400 8.5px,#ff9600 16.5px,#fff300 22.5px,#fdff00 23.5px,#20ff00 43.5px,#0dff00 45.5px,#0bff00 47.5px,#18ff00 52.5px,#37ff00 57.5px,#64ff00 63.5px,#71ff00 66.5px,#72ff00 68.5px,#42ff00 71.5px,#05ff00 74.5px,#00ff11 75.5px,#00ffab 82.5px,#00fff8 86.5px,#00f5ff 87.5px,#00c5ff 90.5px,#00b9ff 91.5px,#0098ff 106.5px,#008bff 113.5px,#0096ff 114.5px,#00fffe 120.5px,#00ff08 134.5px,#09ff00 135.5px,#55ff00 140.5px,#f5ff00 151.5px,#fffa00 152.5px,#ffa200 158.5px,#ff9800 159.5px,#ff9c00 174.5px,#ffa400 181.5px,#fffa00 191.5px,#f2ff00 193.5px,#92ff00 204.5px)"></i><i style="top:149px;height:1px;background:linear-gradient(90deg,#f61429 0.5px,#ff0200 8.5px,#ff9500 16.5px,#fff300 22.5px,#fdff00 23.5px,#21ff00 43.5px,#0dff00 45.5px,#0bff00 47.5px,#18ff00 52.5px,#35ff00 57.5px,#67ff00 64.5px,#6fff00 67.5px,#6eff00 68.5px,#3fff00 71.5px,#03ff00 74.5px,#00ff3f 77.5px,#00ffc0 83.5px,#00fff8 86.5px,#00f5ff 87.5px,#00c5ff 90.5px,#00baff 91.5px,#0097ff 107.5px,#008cff 113.5px,#0097ff 114.5px,#00fffe 120.5px,#00ff09 134.5px,#09ff00 135.5px,#55ff00 140.5px,#f4ff00 151.5px,#fffb00 152.5px,#ffa300 158.5px,#ff9900 159.5px,#ff9f00 175.5px,#ffa500 181.5px,#fffc00 191.5px,#dfff00 195.5px,#91ff00 204.5px)"></i><i style="top:150px;height:1px;background:linear-gradient(90deg,#f61429 0.5px,#ff0100 8.5px,#ff9500 16.5px,#fff300 22.5px,#fdff00 23.5px,#21ff00 43.5px,#0dff00 45.5px,#0bff00 47.5px,#17ff00 52.5px,#34ff00 57.5px,#63ff00 64.5px,#6bff00 67.5px,#6bff00 68.5px,#3bff00 71.5px,#00ff00 74.5px,#00ffac 82.5px,#00fff7 86.5px,#00f6ff 87.5px,#00c6ff 90.5px,#00bbff 91.5px,#0096ff 108.5px,#008cff 113.5px,#0097ff 114.5px,#00fffe 120.5px,#00ff09 134.5px,#09ff00 135.5px,#54ff00 140.5px,#fffc00 152.5px,#ffa500 158.5px,#ff9b00 159.5px,#ffa000 175.5px,#ffa700 181.5px,#fffd00 191.5px,#90ff00 204.5px)"></i><i style="top:151px;height:1px;background:linear-gradient(90deg,#f6142a 0.5px,#ff0000 8.5px,#ff9400 16.5px,#fff300 22.5px,#fdff00 23.5px,#21ff00 43.5px,#0dff00 45.5px,#0bff00 47.5px,#17ff00 52.5px,#32ff00 57.5px,#60ff00 64.5px,#67ff00 67.5px,#67ff00 68.5px,#37ff00 71.5px,#00ff03 74.5px,#00ffad 82.5px,#00fff7 86.5px,#00f6ff 87.5px,#00c6ff 90.5px,#00bbff 91.5px,#0095ff 109.5px,#008dff 113.5px,#0098ff 114.5px,#00fffd 120.5px,#00ff09 134.5px,#08ff00 135.5px,#53ff00 140.5px,#fffd00 152.5px,#ffa600 158.5px,#ff9c00 159.5px,#ffa200 175.5px,#ffa900 181.5px,#fffe00 191.5px,#8fff00 204.5px)"></i><i style="top:152px;height:1px;background:linear-gradient(90deg,#f6152a 0.5px,#ff0000 8.5px,#ff9400 16.5px,#fff300 22.5px,#fdff00 23.5px,#22ff00 43.5px,#0eff00 45.5px,#0bff00 47.5px,#16ff00 52.5px,#37ff00 58.5px,#5cff00 64.5px,#63ff00 67.5px,#62ff00 68.5px,#33ff00 71.5px,#0eff00 73.5px,#00ff06 74.5px,#00ffae 82.5px,#00fff7 86.5px,#00f6ff 87.5px,#00c7ff 90.5px,#00bcff 91.5px,#0093ff 110.5px,#008eff 113.5px,#0099ff 114.5px,#00fffd 120.5px,#00ff0a 134.5px,#08ff00 135.5px,#53ff00 140.5px,#ffff00 152.5px,#ffa700 158.5px,#ff9e00 159.5px,#ffa500 176.5px,#ffaa00 181.5px,#feff00 191.5px,#8eff00 204.5px)"></i><i style="top:153px;height:1px;background:linear-gradient(90deg,#f5152b 0.5px,#ff0001 8.5px,#ff9400 16.5px,#fff300 22.5px,#fdff00 23.5px,#22ff00 43.5px,#0eff00 45.5px,#0bff00 47.5px,#16ff00 52.5px,#35ff00 58.5px,#58ff00 64.5px,#5eff00 67.5px,#5eff00 68.5px,#2fff00 71.5px,#0aff00 73.5px,#00ff0a 74.5px,#00ffc1 83.5px,#00fff7 86.5px,#00f7ff 87.5px,#00c8ff 90.5px,#00bdff 91.5px,#0090ff 112.5px,#008fff 113.5px,#0099ff 114.5px,#00fffd 120.5px,#00ff0a 134.5px,#07ff00 135.5px,#61ff00 141.5px,#feff00 152.5px,#ffa900 158.5px,#ff9f00 159.5px,#ffa700 176.5px,#ffac00 181.5px,#fdff00 191.5px,#8dff00 204.5px)"></i><i style="top:154px;height:1px;background:linear-gradient(90deg,#f5152b 0.5px,#ff0001 8.5px,#ffa400 17.5px,#fff300 22.5px,#fdff00 23.5px,#18ff00 44.5px,#0eff00 45.5px,#0bff00 47.5px,#19ff00 53.5px,#53ff00 64.5px,#59ff00 68.5px,#19ff00 72.5px,#06ff00 73.5px,#00ff0d 74.5px,#00ffc2 83.5px,#00fff7 86.5px,#00f7ff 87.5px,#00c8ff 90.5px,#00bdff 91.5px,#008fff 113.5px,#009aff 114.5px,#00fffc 120.5px,#00ff0a 134.5px,#07ff00 135.5px,#60ff00 141.5px,#fdff00 152.5px,#ffaa00 158.5px,#ffa000 159.5px,#ffa800 176.5px,#ffae00 181.5px,#fffa00 190.5px,#fcff00 191.5px,#8dff00 204.5px)"></i><i style="top:155px;height:1px;background:linear-gradient(90deg,#f5152b 0.5px,#ff0001 8.5px,#ffa400 17.5px,#fff300 22.5px,#fdff00 23.5px,#18ff00 44.5px,#0eff00 45.5px,#0cff00 47.5px,#18ff00 53.5px,#4fff00 64.5px,#54ff00 68.5px,#15ff00 72.5px,#02ff00 73.5px,#00ff62 78.5px,#00ffd4 84.5px,#00fff7 86.5px,#00f7ff 87.5px,#00c9ff 90.5px,#00beff 91.5px,#0090ff 113.5px,#009bff 114.5px,#00f1ff 119.5px,#00fffc 120.5px,#00ff0b 134.5px,#07ff00 135.5px,#5fff00 141.5px,#fcff00 152.5px,#ffab00 158.5px,#ffa200 159.5px,#ffab00 177.5px,#ffaf00 181.5px,#fffb00 190.5px,#f2ff00 192.5px,#8cff00 204.5px)"></i><i style="top:156px;height:1px;background:linear-gradient(90deg,#f5152b 0.5px,#ff0001 8.5px,#ff3700 11.5px,#ffa400 17.5px,#fff300 22.5px,#fdff00 23.5px,#18ff00 44.5px,#0eff00 45.5px,#0cff00 47.5px,#17ff00 53.5px,#4aff00 64.5px,#4fff00 68.5px,#00ff02 73.5px,#00ffc3 83.5px,#00fff6 86.5px,#00f7ff 87.5px,#00c9ff 90.5px,#00bfff 91.5px,#0091ff 113.5px,#009bff 114.5px,#00f1ff 119.5px,#00fffb 120.5px,#00ff0b 134.5px,#06ff00 135.5px,#5fff00 141.5px,#fbff00 152.5px,#ffe600 154.5px,#ffad00 158.5px,#ffa300 159.5px,#ffad00 177.5px,#ffb100 181.5px,#fffc00 190.5px,#c6ff00 197.5px,#8bff00 204.5px)"></i><i style="top:157px;height:1px;background:linear-gradient(90deg,#f5152b 0.5px,#ff0001 8.5px,#ff3700 11.5px,#ffa400 17.5px,#fff300 22.5px,#fdff00 23.5px,#19ff00 44.5px,#0fff00 45.5px,#0cff00 48.5px,#1aff00 54.5px,#46ff00 64.5px,#4aff00 68.5px,#0cff00 72.5px,#00ff06 73.5px,#00ffc4 83.5px,#00fff6 86.5px,#00f8ff 87.5px,#00caff 90.5px,#00bfff 91.5px,#0091ff 113.5px,#009cff 114.5px,#00f2ff 119.5px,#00fffb 120.5px,#00ff0b 134.5px,#06ff00 135.5px,#5eff00 141.5px,#faff00 152.5px,#ffe700 154.5px,#ffae00 158.5px,#ffa500 159.5px,#ffb000 178.5px,#ffb300 181.5px,#fffd00 190.5px,#8aff00 204.5px)"></i><i style="top:158px;height:1px;background:linear-gradient(90deg,#f5152b 0.5px,#ff0001 8.5px,#ff4a00 12.5px,#ffb400 18.5px,#fff300 22.5px,#fdff00 23.5px,#19ff00 44.5px,#0fff00 45.5px,#0cff00 48.5px,#18ff00 54.5px,#42ff00 64.5px,#45ff00 68.5px,#08ff00 72.5px,#00ff0a 73.5px,#00ffc4 83.5px,#00fff6 86.5px,#00f8ff 87.5px,#00cbff 90.5px,#00c0ff 91.5px,#0092ff 113.5px,#009dff 114.5px,#00f2ff 119.5px,#00fffb 120.5px,#00ff0c 134.5px,#06ff00 135.5px,#5dff00 141.5px,#f9ff00 152.5px,#fff700 153.5px,#ffaf00 158.5px,#ffa600 159.5px,#ffb200 179.5px,#ffb400 181.5px,#ffff00 190.5px,#89ff00 204.5px)"></i><i style="top:159px;height:1px;background:linear-gradient(90deg,#f5152b 0.5px,#ff0001 8.5px,#ffa400 17.5px,#fff300 22.5px,#fdff00 23.5px,#0fff00 45.5px,#0cff00 48.5px,#1bff00 55.5px,#3dff00 64.5px,#41ff00 68.5px,#03ff00 72.5px,#00ff20 74.5px,#00ffc5 83.5px,#00fff6 86.5px,#00f8ff 87.5px,#00cbff 90.5px,#00c1ff 91.5px,#0093ff 113.5px,#009dff 114.5px,#00f3ff 119.5px,#00fffa 120.5px,#00ff0c 134.5px,#05ff00 135.5px,#5dff00 141.5px,#f8ff00 152.5px,#fff800 153.5px,#ffb100 158.5px,#ffa700 159.5px,#ffb500 180.5px,#ffb600 181.5px,#feff00 190.5px,#88ff00 204.5px)"></i><i style="top:160px;height:1px;background:linear-gradient(90deg,#f5152b 0.5px,#ff0001 8.5px,#ffa400 17.5px,#fff300 22.5px,#fdff00 23.5px,#0fff00 45.5px,#0cff00 48.5px,#19ff00 55.5px,#3bff00 65.5px,#3cff00 68.5px,#00ff01 72.5px,#00ffd6 84.5px,#00fff6 86.5px,#00f8ff 87.5px,#00ccff 90.5px,#00c1ff 91.5px,#0093ff 113.5px,#009eff 114.5px,#00f3ff 119.5px,#00fffa 120.5px,#00ff0c 134.5px,#05ff00 135.5px,#6aff00 142.5px,#f7ff00 152.5px,#fff900 153.5px,#ffb200 158.5px,#ffa900 159.5px,#ffb700 181.5px,#fdff00 190.5px,#87ff00 204.5px)"></i><i style="top:161px;height:1px;background:linear-gradient(90deg,#f5152b 0.5px,#ff0001 8.5px,#ffa400 17.5px,#fff300 22.5px,#fdff00 23.5px,#0fff00 45.5px,#0cff00 48.5px,#18ff00 55.5px,#36ff00 65.5px,#37ff00 68.5px,#0bff00 71.5px,#00ff05 72.5px,#00ffd6 84.5px,#00fff6 86.5px,#00f9ff 87.5px,#00ccff 90.5px,#00c2ff 91.5px,#0094ff 113.5px,#009fff 114.5px,#00f3ff 119.5px,#00fffa 120.5px,#00ff0d 134.5px,#04ff00 135.5px,#69ff00 142.5px,#f6ff00 152.5px,#fffa00 153.5px,#ffb300 158.5px,#ffaa00 159.5px,#ffb900 181.5px,#fffa00 189.5px,#f3ff00 191.5px,#86ff00 204.5px)"></i><i style="top:162px;height:1px;background:linear-gradient(90deg,#f5152a 0.5px,#ff0000 8.5px,#ff9300 16.5px,#fff300 22.5px,#fdff00 23.5px,#10ff00 45.5px,#0dff00 48.5px,#17ff00 55.5px,#32ff00 65.5px,#33ff00 68.5px,#07ff00 71.5px,#00ff09 72.5px,#00ffd6 84.5px,#00fff6 86.5px,#00f9ff 87.5px,#00cdff 90.5px,#00c3ff 91.5px,#0095ff 113.5px,#009fff 114.5px,#00f4ff 119.5px,#00fff9 120.5px,#00ff0d 134.5px,#04ff00 135.5px,#69ff00 142.5px,#f5ff00 152.5px,#fffb00 153.5px,#ffb500 158.5px,#ffab00 159.5px,#ffbb00 181.5px,#fffc00 189.5px,#e9ff00 192.5px,#86ff00 204.5px)"></i><i style="top:163px;height:1px;background:linear-gradient(90deg,#f6152a 0.5px,#ff0000 8.5px,#ff9300 16.5px,#fff300 22.5px,#fdff00 23.5px,#10ff00 45.5px,#0dff00 48.5px,#18ff00 56.5px,#2eff00 65.5px,#2fff00 68.5px,#03ff00 71.5px,#00ff1d 73.5px,#00ffd7 84.5px,#00fff6 86.5px,#00f9ff 87.5px,#00ceff 90.5px,#00c3ff 91.5px,#0096ff 113.5px,#00a0ff 114.5px,#00f4ff 119.5px,#00fff9 120.5px,#00ff0d 134.5px,#04ff00 135.5px,#68ff00 142.5px,#f4ff00 152.5px,#fffc00 153.5px,#ffb600 158.5px,#ffad00 159.5px,#ffbc00 181.5px,#fffd00 189.5px,#85ff00 204.5px)"></i><i style="top:164px;height:1px;background:linear-gradient(90deg,#f61327 0.5px,#fe0204 7.5px,#ff0600 8.5px,#ff9500 16.5px,#fff200 22.5px,#ffff00 23.5px,#11ff00 45.5px,#0eff00 48.5px,#17ff00 56.5px,#2bff00 65.5px,#2bff00 68.5px,#00ff01 71.5px,#00ffe6 85.5px,#00fff5 86.5px,#00faff 87.5px,#00cfff 90.5px,#00c4ff 91.5px,#0096ff 113.5px,#00a1ff 114.5px,#00f5ff 119.5px,#00fff8 120.5px,#00ff0d 134.5px,#04ff00 135.5px,#5aff00 141.5px,#fffe00 153.5px,#ffb900 158.5px,#ffaf00 159.5px,#ffbe00 181.5px,#fffe00 189.5px,#85ff00 204.5px)"></i><i style="top:165px;height:1px;background:linear-gradient(90deg,#f71123 0.5px,#ff0101 7.5px,#ff1f00 9.5px,#ffa700 17.5px,#fffe00 23.5px,#13ff00 45.5px,#0fff00 48.5px,#19ff00 57.5px,#28ff00 66.5px,#27ff00 68.5px,#0bff00 70.5px,#00ff04 71.5px,#00ffe5 85.5px,#00fbff 87.5px,#00d0ff 90.5px,#00c5ff 91.5px,#0097ff 113.5px,#00a1ff 114.5px,#00f5ff 119.5px,#00fff8 120.5px,#00ff0d 134.5px,#04ff00 135.5px,#4bff00 140.5px,#feff00 153.5px,#ffbb00 158.5px,#ffb200 159.5px,#ffc000 181.5px,#feff00 189.5px,#85ff00 204.5px)"></i><i style="top:166px;height:1px;background:linear-gradient(90deg,#f80f1f 0.5px,#fe0204 6.5px,#ff0400 7.5px,#ff9900 16.5px,#fffc00 23.5px,#c0ff00 29.5px,#15ff00 45.5px,#10ff00 48.5px,#18ff00 57.5px,#24ff00 66.5px,#23ff00 68.5px,#07ff00 70.5px,#00ff07 71.5px,#00fff4 86.5px,#00fcff 87.5px,#00d1ff 90.5px,#00c7ff 91.5px,#0097ff 113.5px,#00a2ff 114.5px,#00f6ff 119.5px,#00fff8 120.5px,#00ff0d 134.5px,#04ff00 135.5px,#3dff00 139.5px,#fcff00 153.5px,#ffda00 156.5px,#ffbe00 158.5px,#ffb500 159.5px,#ffc200 181.5px,#fdff00 189.5px,#85ff00 204.5px)"></i><i style="top:167px;height:1px;background:linear-gradient(90deg,#f90d1b 0.5px,#ff0101 6.5px,#ff1c00 8.5px,#ff9b00 16.5px,#fffa00 23.5px,#edff00 25.5px,#16ff00 45.5px,#12ff00 48.5px,#19ff00 58.5px,#21ff00 66.5px,#20ff00 68.5px,#04ff00 70.5px,#00ff19 72.5px,#00fff3 86.5px,#00fcff 87.5px,#00d2ff 90.5px,#00c8ff 91.5px,#0098ff 113.5px,#00a2ff 114.5px,#00f6ff 119.5px,#00fff7 120.5px,#00ff0d 134.5px,#04ff00 135.5px,#3dff00 139.5px,#f9ff00 153.5px,#fff700 154.5px,#ffc100 158.5px,#ffb800 159.5px,#ffc400 181.5px,#fffa00 188.5px,#f4ff00 190.5px,#85ff00 204.5px)"></i><i style="top:168px;height:1px;background:linear-gradient(90deg,#fa0b17 0.5px,#fe0203 5.5px,#ff0500 6.5px,#ff9d00 16.5px,#fff900 23.5px,#faff00 24.5px,#18ff00 45.5px,#13ff00 48.5px,#18ff00 58.5px,#1eff00 67.5px,#1dff00 68.5px,#01ff00 70.5px,#00ff79 78.5px,#00fff2 86.5px,#00fdff 87.5px,#00d3ff 90.5px,#00c9ff 91.5px,#0099ff 113.5px,#00a3ff 114.5px,#00f7ff 119.5px,#00fff7 120.5px,#00ff0d 134.5px,#04ff00 135.5px,#2fff00 138.5px,#f7ff00 153.5px,#fff900 154.5px,#ffc400 158.5px,#ffbb00 159.5px,#ffc600 181.5px,#fffb00 188.5px,#ebff00 191.5px,#85ff00 204.5px)"></i><i style="top:169px;height:1px;background:linear-gradient(90deg,#fb0a14 0.5px,#ff0000 5.5px,#ffad00 17.5px,#fff700 23.5px,#fcff00 24.5px,#19ff00 45.5px,#14ff00 48.5px,#18ff00 59.5px,#1bff00 67.5px,#1aff00 68.5px,#00ff01 70.5px,#00fff2 86.5px,#00feff 87.5px,#00d4ff 90.5px,#00caff 91.5px,#0099ff 113.5px,#00a4ff 114.5px,#00f7ff 119.5px,#00fff6 120.5px,#00ff0d 134.5px,#04ff00 135.5px,#2fff00 138.5px,#f5ff00 153.5px,#fffc00 154.5px,#ffc600 158.5px,#ffbe00 159.5px,#ffc800 181.5px,#fffd00 188.5px,#85ff00 204.5px)"></i><i style="top:170px;height:1px;background:linear-gradient(90deg,#fb0810 0.5px,#ff0101 4.5px,#ff1700 6.5px,#ffae00 17.5px,#feff00 24.5px,#1bff00 45.5px,#16ff00 48.5px,#19ff00 61.5px,#18ff00 68.5px,#00ff04 70.5px,#00ffff 87.5px,#00d5ff 90.5px,#00cbff 91.5px,#009aff 113.5px,#00a4ff 114.5px,#00f7ff 119.5px,#00fff6 120.5px,#00ff0d 134.5px,#04ff00 135.5px,#2fff00 138.5px,#fffe00 154.5px,#ffc900 158.5px,#ffc000 159.5px,#ffca00 181.5px,#fffe00 188.5px,#85ff00 204.5px)"></i><i style="top:171px;height:1px;background:linear-gradient(90deg,#fc060c 0.5px,#ff0102 3.5px,#ff0600 4.5px,#ffb000 17.5px,#ffff00 24.5px,#1dff00 45.5px,#17ff00 48.5px,#16ff00 68.5px,#08ff00 69.5px,#00ff06 70.5px,#00fffe 87.5px,#00d6ff 90.5px,#00ccff 91.5px,#009aff 113.5px,#00a5ff 114.5px,#00f8ff 119.5px,#00fff5 120.5px,#00ff0d 134.5px,#04ff00 135.5px,#2eff00 138.5px,#feff00 154.5px,#ffcc00 158.5px,#ffc300 159.5px,#ffcc00 181.5px,#feff00 188.5px,#85ff00 204.5px)"></i><i style="top:172px;height:1px;background:linear-gradient(90deg,#fd0408 0.5px,#ff0102 2.5px,#ff0500 3.5px,#ffbc00 18.5px,#fffd00 24.5px,#1eff00 45.5px,#18ff00 48.5px,#14ff00 68.5px,#06ff00 69.5px,#00ff08 70.5px,#00fffd 87.5px,#00ceff 91.5px,#009bff 113.5px,#00a5ff 114.5px,#00f8ff 119.5px,#00fff5 120.5px,#00ff0d 134.5px,#04ff00 135.5px,#2eff00 138.5px,#fcff00 154.5px,#ffcf00 158.5px,#ffc600 159.5px,#ffce00 181.5px,#fdff00 188.5px,#85ff00 204.5px)"></i><i style="top:173px;height:1px;background:linear-gradient(90deg,#fe0204 0.5px,#ff0101 1.5px,#ff1000 3.5px,#ffbd00 18.5px,#fffb00 24.5px,#e2ff00 27.5px,#20ff00 45.5px,#19ff00 49.5px,#12ff00 68.5px,#04ff00 69.5px,#00ff17 71.5px,#00fffc 87.5px,#00cfff 91.5px,#009cff 113.5px,#00a6ff 114.5px,#00f9ff 119.5px,#00fff5 120.5px,#00ff0d 134.5px,#04ff00 135.5px,#21ff00 137.5px,#faff00 154.5px,#fff800 155.5px,#ffd100 158.5px,#ffc900 159.5px,#ffd000 181.5px,#fffb00 187.5px,#f4ff00 189.5px,#85ff00 204.5px)"></i><i style="top:174px;height:1px;background:linear-gradient(90deg,#ff0000 0.5px,#ff3a00 6.5px,#ffbe00 18.5px,#fffa00 24.5px,#f9ff00 25.5px,#22ff00 45.5px,#1aff00 49.5px,#10ff00 68.5px,#03ff00 69.5px,#00ff26 72.5px,#00fffb 87.5px,#00daff 90.5px,#00d0ff 91.5px,#009cff 113.5px,#00a7ff 114.5px,#00f9ff 119.5px,#00fff4 120.5px,#00ff0d 134.5px,#04ff00 135.5px,#21ff00 137.5px,#f7ff00 154.5px,#fffa00 155.5px,#ffd400 158.5px,#ffcc00 159.5px,#ffd200 181.5px,#fffc00 187.5px,#a9ff00 199.5px,#85ff00 204.5px)"></i><i style="top:175px;height:1px;background:linear-gradient(90deg,#ff0c00 0.5px,#ff4200 6.5px,#ffbf00 18.5px,#fff800 24.5px,#fbff00 25.5px,#23ff00 45.5px,#1cff00 49.5px,#0fff00 68.5px,#02ff00 69.5px,#00fffa 87.5px,#00e9ff 89.5px,#00d1ff 91.5px,#009dff 113.5px,#00a7ff 114.5px,#00faff 119.5px,#00fff4 120.5px,#00ff0d 134.5px,#04ff00 135.5px,#21ff00 137.5px,#f5ff00 154.5px,#fffc00 155.5px,#ffd700 158.5px,#ffce00 159.5px,#ffd400 181.5px,#fffe00 187.5px,#85ff00 204.5px)"></i><i style="top:176px;height:1px;background:linear-gradient(90deg,#ff1700 0.5px,#ff5500 7.5px,#ffc000 18.5px,#fdff00 25.5px,#25ff00 45.5px,#1dff00 49.5px,#0eff00 68.5px,#01ff00 69.5px,#00fff9 87.5px,#00f7ff 88.5px,#00d2ff 91.5px,#009eff 113.5px,#00a8ff 114.5px,#00faff 119.5px,#00ffe3 121.5px,#00ff0d 134.5px,#04ff00 135.5px,#21ff00 137.5px,#ffff00 155.5px,#ffd900 158.5px,#ffd100 159.5px,#ffd600 181.5px,#ffff00 187.5px,#85ff00 204.5px)"></i><i style="top:177px;height:1px;background:linear-gradient(90deg,#ff2300 0.5px,#ff5d00 7.5px,#ffc900 19.5px,#fff500 24.5px,#feff00 25.5px,#27ff00 45.5px,#1eff00 49.5px,#0dff00 68.5px,#00ff00 69.5px,#00fff8 87.5px,#00f8ff 88.5px,#00d4ff 91.5px,#009eff 113.5px,#00a8ff 114.5px,#00fbff 119.5px,#00ffe2 121.5px,#00ff0d 134.5px,#04ff00 135.5px,#21ff00 137.5px,#fdff00 155.5px,#ffdc00 158.5px,#ffd400 159.5px,#ffd800 181.5px,#fdff00 187.5px,#85ff00 204.5px)"></i><i style="top:178px;height:1px;background:linear-gradient(90deg,#ff2f00 0.5px,#ff6400 7.5px,#ffc900 19.5px,#ffe800 23.5px,#fffe00 25.5px,#28ff00 45.5px,#20ff00 49.5px,#0dff00 68.5px,#00ff01 69.5px,#00fff7 87.5px,#00f9ff 88.5px,#00d5ff 91.5px,#009fff 113.5px,#00a9ff 114.5px,#00fbff 119.5px,#00ffe2 121.5px,#00ff0c 134.5px,#04ff00 135.5px,#21ff00 137.5px,#fbff00 155.5px,#ffeb00 157.5px,#ffd700 159.5px,#ffda00 181.5px,#fffb00 186.5px,#f5ff00 188.5px,#85ff00 204.5px)"></i><i style="top:179px;height:1px;background:linear-gradient(90deg,#ff3b00 0.5px,#ff7400 8.5px,#ffd000 20.5px,#ffe600 23.5px,#fffc00 25.5px,#b6ff00 32.5px,#2aff00 45.5px,#21ff00 49.5px,#0cff00 68.5px,#00ff01 69.5px,#00fff6 87.5px,#00fbff 88.5px,#00d6ff 91.5px,#009fff 113.5px,#00aaff 114.5px,#00fcff 119.5px,#00ffd1 122.5px,#00ff0c 134.5px,#04ff00 135.5px,#20ff00 137.5px,#f8ff00 155.5px,#fffa00 156.5px,#ffe200 158.5px,#ffda00 159.5px,#ffdc00 181.5px,#fffd00 186.5px,#85ff00 204.5px)"></i><i style="top:180px;height:1px;background:linear-gradient(90deg,#ff4600 0.5px,#ff7b00 8.5px,#ffd000 20.5px,#ffe400 23.5px,#fffa00 25.5px,#eeff00 27.5px,#2cff00 45.5px,#23ff00 49.5px,#0cff00 68.5px,#00ff01 69.5px,#00fff5 87.5px,#00fcff 88.5px,#00d7ff 91.5px,#00a0ff 113.5px,#00aaff 114.5px,#00fcff 119.5px,#00ffa0 125.5px,#00ff0c 134.5px,#04ff00 135.5px,#20ff00 137.5px,#f6ff00 155.5px,#fffc00 156.5px,#ffe400 158.5px,#ffdc00 159.5px,#ffde00 181.5px,#fffe00 186.5px,#85ff00 204.5px)"></i><i style="top:181px;height:1px;background:linear-gradient(90deg,#ff5200 0.5px,#ff8900 9.5px,#ffe300 23.5px,#fff900 25.5px,#faff00 26.5px,#2dff00 45.5px,#24ff00 49.5px,#0cff00 68.5px,#00ff02 69.5px,#00fdff 88.5px,#00d9ff 91.5px,#00a1ff 113.5px,#00abff 114.5px,#00fdff 119.5px,#00ff0c 134.5px,#04ff00 135.5px,#20ff00 137.5px,#ffff00 156.5px,#ffe700 158.5px,#ffdf00 159.5px,#ffe000 181.5px,#feff00 186.5px,#85ff00 204.5px)"></i><i style="top:182px;height:1px;background:linear-gradient(90deg,#ff5d00 0.5px,#ff9600 10.5px,#ffe100 23.5px,#fcff00 26.5px,#2fff00 45.5px,#24ff00 50.5px,#0cff00 68.5px,#00ff02 69.5px,#00feff 88.5px,#00daff 91.5px,#00a1ff 113.5px,#00abff 114.5px,#00fdff 119.5px,#00ff0c 134.5px,#04ff00 135.5px,#20ff00 137.5px,#fdff00 156.5px,#ffe200 159.5px,#ffe200 181.5px,#fdff00 186.5px,#85ff00 204.5px)"></i><i style="top:183px;height:1px;background:linear-gradient(90deg,#ff6800 0.5px,#ffa100 11.5px,#ffdf00 23.5px,#feff00 26.5px,#31ff00 45.5px,#26ff00 50.5px,#0cff00 68.5px,#00ff01 69.5px,#00ffff 88.5px,#00dbff 91.5px,#00a2ff 113.5px,#00acff 114.5px,#00fdff 119.5px,#00ff0c 134.5px,#04ff00 135.5px,#20ff00 137.5px,#faff00 156.5px,#ffed00 158.5px,#ffe500 159.5px,#ffe400 181.5px,#fffc00 185.5px,#daff00 191.5px,#85ff00 204.5px)"></i><i style="top:184px;height:1px;background:linear-gradient(90deg,#ff7300 0.5px,#ffde00 23.5px,#fffe00 26.5px,#32ff00 45.5px,#27ff00 50.5px,#0cff00 68.5px,#00ff01 69.5px,#00fffe 88.5px,#00dcff 91.5px,#00a3ff 113.5px,#00adff 114.5px,#00feff 119.5px,#00ff0c 134.5px,#04ff00 135.5px,#20ff00 137.5px,#f8ff00 156.5px,#fffb00 157.5px,#ffe800 159.5px,#ffe600 181.5px,#fffe00 185.5px,#85ff00 204.5px)"></i><i style="top:185px;height:1px;background:linear-gradient(90deg,#ff7f00 0.5px,#ffdc00 23.5px,#fffd00 26.5px,#34ff00 45.5px,#29ff00 50.5px,#0cff00 68.5px,#00ff01 69.5px,#00fffc 88.5px,#00deff 91.5px,#00a3ff 113.5px,#00adff 114.5px,#00feff 119.5px,#00ff0c 134.5px,#04ff00 135.5px,#20ff00 137.5px,#fffd00 157.5px,#ffea00 159.5px,#ffe800 181.5px,#ffff00 185.5px,#85ff00 204.5px)"></i><i style="top:186px;height:1px;background:linear-gradient(90deg,#ff8900 0.5px,#ffda00 23.5px,#fffb00 26.5px,#edff00 28.5px,#36ff00 45.5px,#2aff00 50.5px,#0cff00 68.5px,#00ff01 69.5px,#00fffb 88.5px,#00e9ff 90.5px,#00dfff 91.5px,#00a4ff 113.5px,#00aeff 114.5px,#00ffff 119.5px,#00ff0c 134.5px,#04ff00 135.5px,#14ff00 136.5px,#feff00 157.5px,#ffed00 159.5px,#ffea00 181.5px,#fdff00 185.5px,#85ff00 204.5px)"></i><i style="top:187px;height:1px;background:linear-gradient(90deg,#ff9000 0.5px,#ffda00 23.5px,#fffa00 26.5px,#eeff00 28.5px,#37ff00 45.5px,#2bff00 50.5px,#0cff00 68.5px,#00ff01 69.5px,#00fffa 88.5px,#00e9ff 90.5px,#00e0ff 91.5px,#00a4ff 113.5px,#00aeff 114.5px,#00ffff 119.5px,#00ff0c 134.5px,#04ff00 135.5px,#14ff00 136.5px,#fdff00 157.5px,#ffef00 159.5px,#ffeb00 181.5px,#fcff00 185.5px,#85ff00 204.5px)"></i><i style="top:188px;height:1px;background:linear-gradient(90deg,#ff9300 0.5px,#ffda00 23.5px,#fffb00 26.5px,#eeff00 28.5px,#37ff00 45.5px,#2bff00 50.5px,#0cff00 68.5px,#00ff01 69.5px,#00fffa 88.5px,#00eaff 90.5px,#00e0ff 91.5px,#00a5ff 113.5px,#00afff 114.5px,#00fffe 119.5px,#00ff0c 134.5px,#04ff00 135.5px,#14ff00 136.5px,#fcff00 157.5px,#fff000 159.5px,#ffeb00 181.5px,#fcff00 185.5px,#85ff00 204.5px)"></i><i style="top:189px;height:1px;background:linear-gradient(90deg,#ff9600 0.5px,#ffdb00 23.5px,#fffb00 26.5px,#edff00 28.5px,#37ff00 45.5px,#2bff00 50.5px,#0cff00 68.5px,#00ff01 69.5px,#00fffa 88.5px,#00f7ff 89.5px,#00e1ff 91.5px,#00a5ff 113.5px,#00afff 114.5px,#00fffe 119.5px,#00ff0c 134.5px,#04ff00 135.5px,#14ff00 136.5px,#fbff00 157.5px,#fff000 159.5px,#ffec00 181.5px,#fffc00 184.5px,#a4ff00 199.5px,#85ff00 204.5px)"></i><i style="top:190px;height:1px;background:linear-gradient(90deg,#ff9800 0.5px,#ffdb00 23.5px,#fffb00 26.5px,#e2ff00 29.5px,#37ff00 45.5px,#29ff00 51.5px,#0bff00 68.5px,#00ff02 69.5px,#00fff9 88.5px,#00f8ff 89.5px,#00e1ff 91.5px,#00a6ff 113.5px,#00b0ff 114.5px,#00fffe 119.5px,#00ff0c 134.5px,#04ff00 135.5px,#14ff00 136.5px,#fbff00 157.5px,#fff100 159.5px,#ffec00 181.5px,#fffd00 184.5px,#85ff00 204.5px)"></i><i style="top:191px;height:1px;background:linear-gradient(90deg,#ff9b00 0.5px,#ffdc00 23.5px,#fffc00 26.5px,#d7ff00 30.5px,#37ff00 45.5px,#29ff00 51.5px,#0bff00 68.5px,#00ff02 69.5px,#00fff9 88.5px,#00f8ff 89.5px,#00e2ff 91.5px,#00a6ff 113.5px,#00b0ff 114.5px,#00fffe 119.5px,#00ff0c 134.5px,#04ff00 135.5px,#14ff00 136.5px,#faff00 157.5px,#fff900 158.5px,#fff200 159.5px,#ffed00 181.5px,#fffd00 184.5px,#85ff00 204.5px)"></i><i style="top:192px;height:1px;background:linear-gradient(90deg,#ff9d00 0.5px,#ffdc00 23.5px,#fffc00 26.5px,#a1ff00 35.5px,#37ff00 45.5px,#29ff00 51.5px,#0bff00 68.5px,#00ff02 69.5px,#00fff9 88.5px,#00f8ff 89.5px,#00e2ff 91.5px,#00a7ff 113.5px,#00b0ff 114.5px,#00fffd 119.5px,#00ff0c 134.5px,#04ff00 135.5px,#14ff00 136.5px,#f9ff00 157.5px,#fffa00 158.5px,#fff200 159.5px,#ffed00 181.5px,#fffd00 184.5px,#85ff00 204.5px)"></i><i style="top:193px;height:1px;background:linear-gradient(90deg,#ffa000 0.5px,#ffd700 22.5px,#ffdc00 23.5px,#fffd00 26.5px,#37ff00 45.5px,#29ff00 51.5px,#0bff00 68.5px,#00ff02 69.5px,#00fff8 88.5px,#00f9ff 89.5px,#00e2ff 91.5px,#00a7ff 113.5px,#00b1ff 114.5px,#00fffd 119.5px,#00ff0c 134.5px,#04ff00 135.5px,#14ff00 136.5px,#f9ff00 157.5px,#fffa00 158.5px,#fff300 159.5px,#ffed00 181.5px,#fffe00 184.5px,#85ff00 204.5px)"></i><i style="top:194px;height:1px;background:linear-gradient(90deg,#ffa200 0.5px,#ffd800 22.5px,#ffdd00 23.5px,#fffd00 26.5px,#37ff00 45.5px,#29ff00 51.5px,#0bff00 68.5px,#00ff02 69.5px,#00fff8 88.5px,#00f9ff 89.5px,#00e3ff 91.5px,#00a7ff 113.5px,#00b1ff 114.5px,#00fffd 119.5px,#00ff0c 134.5px,#04ff00 135.5px,#14ff00 136.5px,#f8ff00 157.5px,#fffb00 158.5px,#fff400 159.5px,#ffee00 181.5px,#fffe00 184.5px,#85ff00 204.5px)"></i><i style="top:195px;height:1px;background:linear-gradient(90deg,#ffa400 0.5px,#ffd800 22.5px,#ffdd00 23.5px,#fffd00 26.5px,#37ff00 45.5px,#29ff00 51.5px,#0bff00 68.5px,#00ff02 69.5px,#00fff7 88.5px,#00faff 89.5px,#00e3ff 91.5px,#00a8ff 113.5px,#00b2ff 114.5px,#00fffc 119.5px,#00ff0c 134.5px,#04ff00 135.5px,#14ff00 136.5px,#f7ff00 157.5px,#fffc00 158.5px,#fff500 159.5px,#ffee00 181.5px,#ffff00 184.5px,#85ff00 204.5px)"></i><i style="top:196px;height:1px;background:linear-gradient(90deg,#ffa700 0.5px,#ffd900 22.5px,#ffde00 23.5px,#fffe00 26.5px,#37ff00 45.5px,#29ff00 51.5px,#0bff00 68.5px,#00ff02 69.5px,#00fff7 88.5px,#00faff 89.5px,#00e4ff 91.5px,#00a8ff 113.5px,#00b2ff 114.5px,#00f2ff 118.5px,#00fffc 119.5px,#00ff0c 134.5px,#04ff00 135.5px,#14ff00 136.5px,#fffc00 158.5px,#fff500 159.5px,#ffef00 181.5px,#ffff00 184.5px,#85ff00 204.5px)"></i><i style="top:197px;height:1px;background:linear-gradient(90deg,#ffa900 0.5px,#ffd900 22.5px,#ffde00 23.5px,#fffe00 26.5px,#37ff00 45.5px,#29ff00 51.5px,#0aff00 68.5px,#00ff02 69.5px,#00fff7 88.5px,#00faff 89.5px,#00e4ff 91.5px,#00a9ff 113.5px,#00b2ff 114.5px,#00f2ff 118.5px,#00fffc 119.5px,#00ff0c 134.5px,#04ff00 135.5px,#14ff00 136.5px,#fffd00 158.5px,#fff600 159.5px,#ffef00 181.5px,#ffff00 184.5px,#85ff00 204.5px)"></i><i style="top:198px;height:1px;background:linear-gradient(90deg,#ffab00 0.5px,#ffda00 22.5px,#ffdf00 23.5px,#fffe00 26.5px,#37ff00 45.5px,#29ff00 51.5px,#0aff00 68.5px,#00ff02 69.5px,#00fff6 88.5px,#00fbff 89.5px,#00e5ff 91.5px,#00a9ff 113.5px,#00b3ff 114.5px,#00f3ff 118.5px,#00fffb 119.5px,#00ff0c 134.5px,#04ff00 135.5px,#14ff00 136.5px,#fffe00 158.5px,#fff700 159.5px,#fff000 181.5px,#feff00 184.5px,#85ff00 204.5px)"></i><i style="top:199px;height:1px;background:linear-gradient(90deg,#ffad00 0.5px,#ffda00 22.5px,#ffdf00 23.5px,#ffff00 26.5px,#37ff00 45.5px,#29ff00 51.5px,#0aff00 68.5px,#00ff02 69.5px,#00fff6 88.5px,#00fbff 89.5px,#00e5ff 91.5px,#00aaff 113.5px,#00b3ff 114.5px,#00f3ff 118.5px,#00fffb 119.5px,#00ff0c 134.5px,#04ff00 135.5px,#14ff00 136.5px,#ffff00 158.5px,#fff700 159.5px,#fff000 181.5px,#feff00 184.5px,#85ff00 204.5px)"></i><i style="top:200px;height:1px;background:linear-gradient(90deg,#ffaf00 0.5px,#ffdb00 22.5px,#ffe000 23.5px,#ffff00 26.5px,#37ff00 45.5px,#27ff00 52.5px,#0aff00 68.5px,#00ff02 69.5px,#00fff6 88.5px,#00fcff 89.5px,#00e5ff 91.5px,#00aaff 113.5px,#00b4ff 114.5px,#00f4ff 118.5px,#00fffb 119.5px,#00ff0b 134.5px,#04ff00 135.5px,#14ff00 136.5px,#ffff00 158.5px,#fff800 159.5px,#fff100 181.5px,#fdff00 184.5px,#85ff00 204.5px)"></i><i style="top:201px;height:1px;background:linear-gradient(90deg,#ffb100 0.5px,#ffdb00 22.5px,#ffe000 23.5px,#feff00 26.5px,#37ff00 45.5px,#27ff00 52.5px,#0aff00 68.5px,#00ff02 69.5px,#00fff5 88.5px,#00fcff 89.5px,#00e6ff 91.5px,#00aaff 113.5px,#00b4ff 114.5px,#00f4ff 118.5px,#00fffa 119.5px,#00ff0b 134.5px,#04ff00 135.5px,#14ff00 136.5px,#feff00 158.5px,#fff900 159.5px,#fff100 181.5px,#fdff00 184.5px,#85ff00 204.5px)"></i><i style="top:202px;height:1px;background:linear-gradient(90deg,#ffb300 0.5px,#ffdc00 22.5px,#ffe000 23.5px,#feff00 26.5px,#37ff00 45.5px,#27ff00 52.5px,#0aff00 68.5px,#00ff02 69.5px,#00fcff 89.5px,#00e6ff 91.5px,#00abff 113.5px,#00b5ff 114.5px,#00f4ff 118.5px,#00fffa 119.5px,#00ff0b 134.5px,#04ff00 135.5px,#14ff00 136.5px,#fdff00 158.5px,#fff900 159.5px,#fff100 181.5px,#fdff00 184.5px,#85ff00 204.5px)"></i><i style="top:203px;height:1px;background:linear-gradient(90deg,#ffb500 0.5px,#ffdc00 22.5px,#ffe100 23.5px,#feff00 26.5px,#36ff00 45.5px,#27ff00 52.5px,#0aff00 68.5px,#00ff02 69.5px,#00fdff 89.5px,#00e7ff 91.5px,#00abff 113.5px,#00b5ff 114.5px,#00f5ff 118.5px,#00fffa 119.5px,#00ff0b 134.5px,#05ff00 135.5px,#14ff00 136.5px,#fdff00 158.5px,#fffa00 160.5px,#fff200 181.5px,#fcff00 184.5px,#85ff00 204.5px)"></i><i style="top:204px;height:1px;background:linear-gradient(90deg,#ffb700 0.5px,#ffdd00 22.5px,#ffe100 23.5px,#fdff00 26.5px,#36ff00 45.5px,#27ff00 52.5px,#0aff00 68.5px,#00ff02 69.5px,#00fdff 89.5px,#00e7ff 91.5px,#00acff 113.5px,#00b5ff 114.5px,#00f5ff 118.5px,#00fff9 119.5px,#00ff0b 134.5px,#05ff00 135.5px,#14ff00 136.5px,#fcff00 158.5px,#fffa00 160.5px,#fff200 181.5px,#fcff00 184.5px,#85ff00 204.5px)"></i><i style="top:205px;height:1px;background:linear-gradient(90deg,#ffb900 0.5px,#ffdd00 22.5px,#ffe200 23.5px,#fdff00 26.5px,#36ff00 45.5px,#27ff00 52.5px,#0aff00 68.5px,#00ff02 69.5px,#00feff 89.5px,#00e8ff 91.5px,#00acff 113.5px,#00b6ff 114.5px,#00f5ff 118.5px,#00fff9 119.5px,#00ff0b 134.5px,#05ff00 135.5px,#14ff00 136.5px,#fbff00 158.5px,#fffb00 161.5px,#fff300 181.5px,#fbff00 184.5px,#85ff00 204.5px)"></i><i style="top:206px;height:1px;background:linear-gradient(90deg,#ffbb00 0.5px,#ffde00 22.5px,#ffe200 23.5px,#fdff00 26.5px,#36ff00 45.5px,#27ff00 52.5px,#0aff00 68.5px,#00ff02 69.5px,#00feff 89.5px,#00e8ff 91.5px,#00adff 113.5px,#00b6ff 114.5px,#00f6ff 118.5px,#00fff9 119.5px,#00ff0b 134.5px,#05ff00 135.5px,#14ff00 136.5px,#fbff00 158.5px,#fffc00 160.5px,#fff300 181.5px,#fffd00 183.5px,#85ff00 204.5px)"></i><i style="top:207px;height:1px;background:linear-gradient(90deg,#ffbc00 0.5px,#ffde00 22.5px,#ffe300 23.5px,#fcff00 26.5px,#36ff00 45.5px,#27ff00 52.5px,#0aff00 68.5px,#00ff02 69.5px,#00feff 89.5px,#00e8ff 91.5px,#00adff 113.5px,#00b7ff 114.5px,#00f6ff 118.5px,#00fff8 119.5px,#00ff0b 134.5px,#05ff00 135.5px,#14ff00 136.5px,#faff00 158.5px,#fffc00 160.5px,#fff400 181.5px,#fffd00 183.5px,#85ff00 204.5px)"></i><i style="top:208px;height:1px;background:linear-gradient(90deg,#ffbe00 0.5px,#ffdf00 22.5px,#ffe300 23.5px,#fcff00 26.5px,#36ff00 45.5px,#27ff00 52.5px,#0aff00 68.5px,#00ff02 69.5px,#00ffff 89.5px,#00e9ff 91.5px,#00aeff 113.5px,#00b7ff 114.5px,#00f6ff 118.5px,#00fff8 119.5px,#00ff0b 134.5px,#05ff00 135.5px,#14ff00 136.5px,#f9ff00 158.5px,#fffe00 159.5px,#fff400 181.5px,#fffe00 183.5px,#85ff00 204.5px)"></i><i style="top:209px;height:1px;background:linear-gradient(90deg,#ffc000 0.5px,#ffdf00 22.5px,#ffe300 23.5px,#fbff00 26.5px,#36ff00 45.5px,#25ff00 53.5px,#0aff00 68.5px,#00ff02 69.5px,#00ffff 89.5px,#00e9ff 91.5px,#00aeff 113.5px,#00b8ff 114.5px,#00f7ff 118.5px,#00fff8 119.5px,#00ff0b 134.5px,#05ff00 135.5px,#14ff00 136.5px,#f9ff00 158.5px,#fffe00 159.5px,#fff500 181.5px,#fffe00 183.5px,#85ff00 204.5px)"></i></div>
<div class="fld" style="left:421px;top:16px;width:204px;height:187px"><i style="top:0px;height:1px;background:linear-gradient(90deg,#ffde00 0.5px,#ff8100 22.5px,#ffec00 45.5px,#ffff00 47.5px,#3aff00 68.5px,#00ff02 79.5px,#00ffbd 114.5px,#00fdff 133.5px,#00f0ff 136.5px,#0040ff 158.5px,#00feff 175.5px,#00ffbf 181.5px,#00ffa2 203.5px)"></i><i style="top:1px;height:1px;background:linear-gradient(90deg,#ffde00 0.5px,#ff8100 22.5px,#ffec00 45.5px,#ffff00 47.5px,#3aff00 68.5px,#00ff02 79.5px,#00ffbf 114.5px,#00fdff 133.5px,#00f0ff 136.5px,#003aff 158.5px,#00fcff 175.5px,#00ffbf 181.5px,#00ffa2 203.5px)"></i><i style="top:2px;height:1px;background:linear-gradient(90deg,#ffde00 0.5px,#ff8100 22.5px,#ffec00 45.5px,#ffff00 47.5px,#3aff00 68.5px,#00ff03 79.5px,#00ffc1 114.5px,#00fdff 133.5px,#00f0ff 136.5px,#0034ff 158.5px,#00faff 175.5px,#00ffec 177.5px,#00ffbf 181.5px,#00ffa2 203.5px)"></i><i style="top:3px;height:1px;background:linear-gradient(90deg,#ffde00 0.5px,#ff8100 22.5px,#ffec00 45.5px,#ffff00 47.5px,#3aff00 68.5px,#03ff00 78.5px,#00ff3a 89.5px,#00ffc0 113.5px,#00ffff 132.5px,#00efff 136.5px,#002eff 158.5px,#00f9ff 175.5px,#00fff9 176.5px,#00ffbf 181.5px,#00ffa2 203.5px)"></i><i style="top:4px;height:1px;background:linear-gradient(90deg,#ffde00 0.5px,#ff8100 22.5px,#ffec00 45.5px,#ffff00 47.5px,#3aff00 68.5px,#03ff00 78.5px,#00ff7f 101.5px,#00ffc2 113.5px,#00ffff 132.5px,#00efff 136.5px,#0027ff 158.5px,#00f7ff 175.5px,#00fffa 176.5px,#00ffbf 181.5px,#00ffa2 203.5px)"></i><i style="top:5px;height:1px;background:linear-gradient(90deg,#ffde00 0.5px,#ff8100 22.5px,#ffec00 45.5px,#ffff00 47.5px,#3aff00 68.5px,#02ff00 78.5px,#00ff9d 106.5px,#00ffc7 114.5px,#00feff 132.5px,#00f5ff 135.5px,#0075ff 149.5px,#0021ff 158.5px,#00f6ff 175.5px,#00fffc 176.5px,#00ffbf 181.5px,#00ffa2 203.5px)"></i><i style="top:6px;height:1px;background:linear-gradient(90deg,#ffde00 0.5px,#ff8100 22.5px,#ffec00 45.5px,#ffff00 47.5px,#3aff00 68.5px,#02ff00 78.5px,#00ff87 102.5px,#00ffc7 113.5px,#00feff 132.5px,#00f5ff 135.5px,#00abff 143.5px,#001bff 158.5px,#00fffd 176.5px,#00ffbf 181.5px,#00ffa2 203.5px)"></i><i style="top:7px;height:1px;background:linear-gradient(90deg,#ffde00 0.5px,#ff8100 22.5px,#ffec00 45.5px,#ffff00 47.5px,#3aff00 68.5px,#02ff00 78.5px,#00ff77 99.5px,#00ffc9 113.5px,#00fdff 132.5px,#00f5ff 135.5px,#00bdff 141.5px,#0015ff 158.5px,#00fffe 176.5px,#00ffbf 181.5px,#00ffa2 203.5px)"></i><i style="top:8px;height:1px;background:linear-gradient(90deg,#ffde00 0.5px,#ff8100 22.5px,#ffec00 45.5px,#ffff00 47.5px,#3aff00 68.5px,#02ff00 78.5px,#00ff72 98.5px,#00ffcb 113.5px,#00fdff 132.5px,#00f4ff 135.5px,#00cfff 139.5px,#000fff 158.5px,#00ffff 176.5px,#00ffbf 181.5px,#00ffa2 203.5px)"></i><i style="top:9px;height:1px;background:linear-gradient(90deg,#ffde00 0.5px,#ff8100 22.5px,#ffec00 45.5px,#ffff00 47.5px,#3aff00 68.5px,#02ff00 78.5px,#00ff6d 97.5px,#00ffcd 113.5px,#00fcff 132.5px,#00f4ff 135.5px,#00ceff 139.5px,#0009ff 158.5px,#00fdff 176.5px,#00ffbf 181.5px,#00ffa2 203.5px)"></i><i style="top:10px;height:1px;background:linear-gradient(90deg,#ffde00 0.5px,#ff8100 22.5px,#ffec00 45.5px,#ffff00 47.5px,#3aff00 68.5px,#01ff00 78.5px,#00ff68 96.5px,#00ffcf 113.5px,#00ffff 131.5px,#00f4ff 135.5px,#00d7ff 138.5px,#0002ff 158.5px,#00fcff 176.5px,#00ffbf 181.5px,#00ffa2 203.5px)"></i><i style="top:11px;height:1px;background:linear-gradient(90deg,#ffde00 0.5px,#ff8100 22.5px,#ffec00 45.5px,#ffff00 47.5px,#3aff00 68.5px,#01ff00 78.5px,#00ff62 95.5px,#00ffd2 113.5px,#00feff 131.5px,#00f4ff 135.5px,#00d7ff 138.5px,#0007ff 157.5px,#0000fb 158.5px,#0008ff 159.5px,#00fbff 176.5px,#00ffe7 178.5px,#00ffbf 181.5px,#00ffa2 203.5px)"></i><i style="top:12px;height:1px;background:linear-gradient(90deg,#ffde00 0.5px,#ff8100 22.5px,#ffec00 45.5px,#ffff00 47.5px,#3aff00 68.5px,#01ff00 78.5px,#00ff63 95.5px,#00ffd4 113.5px,#00fdff 131.5px,#00f3ff 135.5px,#00e1ff 137.5px,#0001ff 157.5px,#0000f5 158.5px,#0002ff 159.5px,#00f9ff 176.5px,#00fff6 177.5px,#00ffcb 180.5px,#00ffbf 181.5px,#00ffa2 203.5px)"></i><i style="top:13px;height:1px;background:linear-gradient(90deg,#ffde00 0.5px,#ff8100 22.5px,#ffec00 45.5px,#ffff00 47.5px,#3aff00 68.5px,#01ff00 78.5px,#00ff5d 94.5px,#00ffd6 113.5px,#00fdff 131.5px,#00f3ff 135.5px,#00e0ff 137.5px,#0007ff 156.5px,#0000fa 157.5px,#0000ef 158.5px,#0000fb 159.5px,#0029ff 162.5px,#00f8ff 176.5px,#00fff7 177.5px,#00ffcb 180.5px,#00ffbf 181.5px,#00ffa2 203.5px)"></i><i style="top:14px;height:1px;background:linear-gradient(90deg,#ffde00 0.5px,#ff8100 22.5px,#ffec00 45.5px,#ffff00 47.5px,#3aff00 68.5px,#01ff00 78.5px,#00ff5e 94.5px,#00ffd8 113.5px,#00feff 130.5px,#00f3ff 135.5px,#00e0ff 137.5px,#0001ff 156.5px,#0000e9 158.5px,#0000f5 159.5px,#0006ff 160.5px,#00f7ff 176.5px,#00fff8 177.5px,#00ffcb 180.5px,#00ffbf 181.5px,#00ffa2 203.5px)"></i><i style="top:15px;height:1px;background:linear-gradient(90deg,#ffde00 0.5px,#ff8100 22.5px,#ffec00 45.5px,#ffff00 47.5px,#3aff00 68.5px,#01ff00 78.5px,#00ff58 93.5px,#00ffdb 113.5px,#00feff 130.5px,#00f3ff 135.5px,#00dfff 137.5px,#0008ff 155.5px,#0000fb 156.5px,#0000e3 158.5px,#0000ff 160.5px,#00f5ff 176.5px,#00fff9 177.5px,#00ffcb 180.5px,#00ffbf 181.5px,#00ffa2 203.5px)"></i><i style="top:16px;height:1px;background:linear-gradient(90deg,#ffde00 0.5px,#ff8100 22.5px,#ffec00 45.5px,#ffff00 47.5px,#3aff00 68.5px,#00ff00 78.5px,#00ff59 93.5px,#00ffdd 113.5px,#00fdff 130.5px,#00f3ff 135.5px,#00deff 137.5px,#0002ff 155.5px,#0000dc 158.5px,#0000f9 160.5px,#000aff 161.5px,#00f4ff 176.5px,#00fffa 177.5px,#00ffcb 180.5px,#00ffbf 181.5px,#00ffa2 203.5px)"></i><i style="top:17px;height:1px;background:linear-gradient(90deg,#ffde00 0.5px,#ff8100 22.5px,#ffec00 45.5px,#ffff00 47.5px,#3aff00 68.5px,#00ff00 78.5px,#00ff59 93.5px,#00ffdf 113.5px,#00fcff 130.5px,#00f2ff 135.5px,#00deff 137.5px,#0009ff 154.5px,#0000fc 155.5px,#0000d6 158.5px,#0000f4 160.5px,#0004ff 161.5px,#00f3ff 176.5px,#00fffb 177.5px,#00ffcc 180.5px,#00ffbf 181.5px,#00ffa2 203.5px)"></i><i style="top:18px;height:1px;background:linear-gradient(90deg,#ffde00 0.5px,#ff8100 22.5px,#ffec00 45.5px,#ffff00 47.5px,#3aff00 68.5px,#00ff00 78.5px,#00ff5a 93.5px,#00ffe1 113.5px,#00feff 129.5px,#00f2ff 135.5px,#00ddff 137.5px,#0004ff 154.5px,#0000ea 156.5px,#0000d0 158.5px,#0000fe 161.5px,#00f2ff 176.5px,#00fffc 177.5px,#00ffcc 180.5px,#00ffbf 181.5px,#00ffa2 203.5px)"></i><i style="top:19px;height:1px;background:linear-gradient(90deg,#ffde00 0.5px,#ff8100 22.5px,#ffec00 45.5px,#ffff00 47.5px,#3aff00 68.5px,#00ff00 78.5px,#00ff5b 93.5px,#00ffe4 113.5px,#00fdff 129.5px,#00f2ff 135.5px,#00ddff 137.5px,#0000fe 154.5px,#0000ca 158.5px,#0000f9 161.5px,#000aff 162.5px,#00fffd 177.5px,#00ffcc 180.5px,#00ffbf 181.5px,#00ffa2 203.5px)"></i><i style="top:20px;height:1px;background:linear-gradient(90deg,#ffde00 0.5px,#ff8100 22.5px,#ffec00 45.5px,#ffff00 47.5px,#3aff00 68.5px,#00ff00 78.5px,#00ff54 92.5px,#00ffe6 113.5px,#00feff 128.5px,#00f2ff 135.5px,#00e9ff 136.5px,#0007ff 153.5px,#0000f9 154.5px,#0000c4 158.5px,#0000f3 161.5px,#0005ff 162.5px,#00fffe 177.5px,#00ffcc 180.5px,#00ffbf 181.5px,#00ffa2 203.5px)"></i><i style="top:21px;height:1px;background:linear-gradient(90deg,#ffde00 0.5px,#ff8100 22.5px,#ffec00 45.5px,#ffff00 47.5px,#3aff00 68.5px,#00ff00 78.5px,#00ff55 92.5px,#00ffe7 113.5px,#00fdff 128.5px,#00f1ff 135.5px,#00e9ff 136.5px,#0007ff 153.5px,#0000f9 154.5px,#0000c4 158.5px,#0000f3 161.5px,#0005ff 162.5px,#00fffe 177.5px,#00ffcc 180.5px,#00ffbf 181.5px,#00ffa2 203.5px)"></i><i style="top:22px;height:1px;background:linear-gradient(90deg,#ffde00 0.5px,#ff8100 22.5px,#ffec00 45.5px,#ffff00 47.5px,#3aff00 68.5px,#00ff01 78.5px,#00ff55 92.5px,#00ffe8 113.5px,#00fdff 128.5px,#00f1ff 135.5px,#00dcff 137.5px,#0000fd 154.5px,#0000c9 158.5px,#0000f8 161.5px,#0009ff 162.5px,#00fffd 177.5px,#00ffcc 180.5px,#00ffbf 181.5px,#00ffa2 203.5px)"></i><i style="top:23px;height:1px;background:linear-gradient(90deg,#ffde00 0.5px,#ff8100 22.5px,#ffec00 45.5px,#ffff00 47.5px,#3aff00 68.5px,#00ff01 78.5px,#00ff55 92.5px,#00ffe9 113.5px,#00fdff 128.5px,#00f1ff 135.5px,#00dcff 137.5px,#0003ff 154.5px,#0000ce 158.5px,#0000fd 161.5px,#00fffd 177.5px,#00ffcc 180.5px,#00ffbf 181.5px,#00ffa2 203.5px)"></i><i style="top:24px;height:1px;background:linear-gradient(90deg,#ffde00 0.5px,#ff8100 22.5px,#ffec00 45.5px,#ffff00 47.5px,#3aff00 68.5px,#00ff01 78.5px,#00ff55 92.5px,#00ffe9 113.5px,#00fcff 128.5px,#00f1ff 135.5px,#00ddff 137.5px,#0007ff 154.5px,#0000f9 155.5px,#0000d4 158.5px,#0002ff 161.5px,#00f2ff 176.5px,#00fffc 177.5px,#00ffcc 180.5px,#00ffbf 181.5px,#00ffa2 203.5px)"></i><i style="top:25px;height:1px;background:linear-gradient(90deg,#ffde00 0.5px,#ff8100 22.5px,#ffec00 45.5px,#ffff00 47.5px,#3aff00 68.5px,#00ff01 78.5px,#00ff56 92.5px,#00ffea 113.5px,#00feff 127.5px,#00f1ff 135.5px,#00ddff 137.5px,#0000fe 155.5px,#0000d9 158.5px,#0000f6 160.5px,#0007ff 161.5px,#00f3ff 176.5px,#00fffb 177.5px,#00ffcc 180.5px,#00ffbf 181.5px,#00ffa2 203.5px)"></i><i style="top:26px;height:1px;background:linear-gradient(90deg,#ffde00 0.5px,#ff8100 22.5px,#ffec00 45.5px,#ffff00 47.5px,#3aff00 68.5px,#00ff01 78.5px,#00ff56 92.5px,#00ffeb 113.5px,#00fdff 127.5px,#00f1ff 135.5px,#00ddff 137.5px,#0004ff 155.5px,#0000de 158.5px,#0000fb 160.5px,#001bff 162.5px,#00f5ff 176.5px,#00fffa 177.5px,#00ffcb 180.5px,#00ffbf 181.5px,#00ffa2 203.5px)"></i><i style="top:27px;height:1px;background:linear-gradient(90deg,#ffde00 0.5px,#ff8100 22.5px,#ffec00 45.5px,#ffff00 47.5px,#3aff00 68.5px,#00ff01 78.5px,#00ff56 92.5px,#00ffeb 113.5px,#00fdff 127.5px,#00f1ff 135.5px,#00deff 137.5px,#0008ff 155.5px,#0000fb 156.5px,#0000e4 158.5px,#0001ff 160.5px,#00f6ff 176.5px,#00fff9 177.5px,#00ffcb 180.5px,#00ffbf 181.5px,#00ffa2 203.5px)"></i><i style="top:28px;height:1px;background:linear-gradient(90deg,#ffde00 0.5px,#ff8100 22.5px,#ffec00 45.5px,#ffff00 47.5px,#3aff00 68.5px,#00ff01 78.5px,#00ff56 92.5px,#00ffec 113.5px,#00fdff 127.5px,#00f1ff 135.5px,#00deff 137.5px,#0001ff 156.5px,#0000e9 158.5px,#0000f6 159.5px,#0006ff 160.5px,#00f7ff 176.5px,#00fff8 177.5px,#00ffcb 180.5px,#00ffbf 181.5px,#00ffa2 203.5px)"></i><i style="top:29px;height:1px;background:linear-gradient(90deg,#ffde00 0.5px,#ff8100 22.5px,#ffec00 45.5px,#ffff00 47.5px,#3aff00 68.5px,#00ff01 78.5px,#00ff57 92.5px,#00ffed 113.5px,#00fcff 127.5px,#00f1ff 135.5px,#00deff 137.5px,#0006ff 156.5px,#0000f9 157.5px,#0000ee 158.5px,#0000fb 159.5px,#0019ff 161.5px,#00f8ff 176.5px,#00fff7 177.5px,#00ffcb 180.5px,#00ffbf 181.5px,#00ffa2 203.5px)"></i><i style="top:30px;height:1px;background:linear-gradient(90deg,#ffde00 0.5px,#ff8100 22.5px,#ffec00 45.5px,#ffff00 47.5px,#3aff00 68.5px,#00ff01 78.5px,#00ff57 92.5px,#00ffed 113.5px,#00fcff 127.5px,#00f0ff 135.5px,#00deff 137.5px,#0000ff 157.5px,#0000f3 158.5px,#0001ff 159.5px,#00f9ff 176.5px,#00fff6 177.5px,#00ffcb 180.5px,#00ffbf 181.5px,#00ffa2 203.5px)"></i><i style="top:31px;height:1px;background:linear-gradient(90deg,#ffde00 0.5px,#ff8100 22.5px,#ffec00 45.5px,#ffff00 47.5px,#3aff00 68.5px,#00ff01 78.5px,#00ff57 92.5px,#00ffee 113.5px,#00fdff 126.5px,#00f0ff 135.5px,#00dfff 137.5px,#0005ff 157.5px,#0000f9 158.5px,#0006ff 159.5px,#00faff 176.5px,#00ffe7 178.5px,#00ffbf 181.5px,#00ffa2 203.5px)"></i><i style="top:32px;height:1px;background:linear-gradient(90deg,#ffde00 0.5px,#ff8100 22.5px,#ffec00 45.5px,#ffff00 47.5px,#3aff00 68.5px,#00ff02 78.5px,#00ff57 92.5px,#00ffef 113.5px,#00fdff 126.5px,#00f0ff 135.5px,#00dfff 137.5px,#0000fe 158.5px,#0035ff 162.5px,#00fbff 176.5px,#00ffe7 178.5px,#00ffbf 181.5px,#00ffa2 203.5px)"></i><i style="top:33px;height:1px;background:linear-gradient(90deg,#ffde00 0.5px,#ff8100 22.5px,#ffec00 45.5px,#ffff00 47.5px,#3aff00 68.5px,#00ff02 78.5px,#00ff58 92.5px,#00ffef 113.5px,#00fdff 126.5px,#00f0ff 135.5px,#00dfff 137.5px,#0004ff 158.5px,#00fcff 176.5px,#00ffbf 181.5px,#00ffa2 203.5px)"></i><i style="top:34px;height:1px;background:linear-gradient(90deg,#ffde00 0.5px,#ff8100 22.5px,#ffec00 45.5px,#ffff00 47.5px,#3aff00 68.5px,#00ff02 78.5px,#00ff58 92.5px,#00fff0 113.5px,#00fcff 126.5px,#00f0ff 135.5px,#00dfff 137.5px,#000aff 158.5px,#00fdff 176.5px,#00ffbf 181.5px,#00ffa2 203.5px)"></i><i style="top:35px;height:1px;background:linear-gradient(90deg,#ffde00 0.5px,#ff8100 22.5px,#ffec00 45.5px,#ffff00 47.5px,#3aff00 68.5px,#00ff02 78.5px,#00ff58 92.5px,#00fff1 113.5px,#00fcff 126.5px,#00f0ff 135.5px,#00d6ff 138.5px,#000fff 158.5px,#00ffff 176.5px,#00ffbf 181.5px,#00ffa2 203.5px)"></i><i style="top:36px;height:1px;background:linear-gradient(90deg,#ffde00 0.5px,#ff8100 22.5px,#ffec00 45.5px,#ffff00 47.5px,#3aff00 68.5px,#00ff02 78.5px,#00ff58 92.5px,#00fff2 113.5px,#00fdff 125.5px,#00f0ff 135.5px,#00d6ff 138.5px,#0014ff 158.5px,#00fffe 176.5px,#00ffbf 181.5px,#00ffa2 203.5px)"></i><i style="top:37px;height:1px;background:linear-gradient(90deg,#ffde00 0.5px,#ff8100 22.5px,#ffec00 45.5px,#ffff00 47.5px,#3aff00 68.5px,#00ff02 78.5px,#00ff59 92.5px,#00fff2 113.5px,#00fcff 125.5px,#00f0ff 135.5px,#00d7ff 138.5px,#0019ff 158.5px,#00fffd 176.5px,#00ffbf 181.5px,#00ffa2 203.5px)"></i><i style="top:38px;height:1px;background:linear-gradient(90deg,#ffde00 0.5px,#ff8100 22.5px,#ffec00 45.5px,#ffff00 47.5px,#3aff00 68.5px,#00ff02 78.5px,#00ff59 92.5px,#00fff3 113.5px,#00fcff 125.5px,#00f0ff 135.5px,#00d7ff 138.5px,#001fff 158.5px,#00f5ff 175.5px,#00fffc 176.5px,#00ffbf 181.5px,#00ffa2 203.5px)"></i><i style="top:39px;height:1px;background:linear-gradient(90deg,#ffde00 0.5px,#ff8100 22.5px,#ffec00 45.5px,#ffff00 47.5px,#3aff00 68.5px,#00ff02 78.5px,#00ff59 92.5px,#00fff4 113.5px,#00fcff 125.5px,#00efff 135.5px,#00d8ff 138.5px,#0024ff 158.5px,#00f6ff 175.5px,#00fffb 176.5px,#00ffbf 181.5px,#00ffa2 203.5px)"></i><i style="top:40px;height:1px;background:linear-gradient(90deg,#ffde00 0.5px,#ff8100 22.5px,#ffec00 45.5px,#ffff00 47.5px,#3aff00 68.5px,#00ff02 78.5px,#00ff59 92.5px,#00fff4 113.5px,#00fdff 124.5px,#00efff 135.5px,#00d0ff 139.5px,#0029ff 158.5px,#00f8ff 175.5px,#00fffa 176.5px,#00ffbf 181.5px,#00ffa2 203.5px)"></i><i style="top:41px;height:1px;background:linear-gradient(90deg,#ffde00 0.5px,#ff8100 22.5px,#ffec00 45.5px,#ffff00 47.5px,#3aff00 68.5px,#00ff02 78.5px,#00ff59 92.5px,#00fff5 113.5px,#00fcff 124.5px,#00efff 135.5px,#00d0ff 139.5px,#002fff 158.5px,#00f9ff 175.5px,#00fff9 176.5px,#00ffbf 181.5px,#00ffa2 203.5px)"></i><i style="top:42px;height:1px;background:linear-gradient(90deg,#ffde00 0.5px,#ff8100 22.5px,#ffec00 45.5px,#ffff00 47.5px,#3aff00 68.5px,#00ff02 78.5px,#00ff5a 92.5px,#00fff6 113.5px,#00fcff 124.5px,#00efff 135.5px,#00d1ff 139.5px,#0030ff 158.5px,#00faff 175.5px,#00fff8 176.5px,#00ffbf 181.5px,#00ffa2 203.5px)"></i><i style="top:43px;height:1px;background:linear-gradient(90deg,#ffde00 0.5px,#ff8100 22.5px,#ffec00 45.5px,#ffff00 47.5px,#3aff00 68.5px,#00ff03 78.5px,#00ff5a 92.5px,#00fff6 113.5px,#00fbff 124.5px,#00efff 135.5px,#00d1ff 139.5px,#0031ff 158.5px,#00faff 175.5px,#00fff8 176.5px,#00ffbf 181.5px,#00ffa2 203.5px)"></i><i style="top:44px;height:1px;background:linear-gradient(90deg,#ffde00 0.5px,#ff8100 22.5px,#ffec00 45.5px,#ffff00 47.5px,#3aff00 68.5px,#00ff03 78.5px,#00ff5a 92.5px,#00fff7 113.5px,#00fbff 124.5px,#00efff 135.5px,#00d1ff 139.5px,#0032ff 158.5px,#00faff 175.5px,#00fff8 176.5px,#00ffbf 181.5px,#00ffa2 203.5px)"></i><i style="top:45px;height:1px;background:linear-gradient(90deg,#ffde00 0.5px,#ff8100 22.5px,#ffec00 45.5px,#ffff00 47.5px,#3aff00 68.5px,#00ff03 78.5px,#00ff5a 92.5px,#00fff8 113.5px,#00fcff 123.5px,#00efff 135.5px,#00d1ff 139.5px,#0032ff 158.5px,#00faff 175.5px,#00ffec 177.5px,#00ffbf 181.5px,#00ffa2 203.5px)"></i><i style="top:46px;height:1px;background:linear-gradient(90deg,#ffde00 0.5px,#ff8100 22.5px,#ffec00 45.5px,#ffff00 47.5px,#3aff00 68.5px,#03ff00 77.5px,#00ff15 81.5px,#00ff5b 92.5px,#00fff8 113.5px,#00fbff 123.5px,#00efff 135.5px,#00d1ff 139.5px,#0033ff 158.5px,#00faff 175.5px,#00ffec 177.5px,#00ffbf 181.5px,#00ffa2 203.5px)"></i><i style="top:47px;height:1px;background:linear-gradient(90deg,#ffde00 0.5px,#ff8100 22.5px,#ffec00 45.5px,#ffff00 47.5px,#3aff00 68.5px,#03ff00 77.5px,#00ff15 81.5px,#00ff5b 92.5px,#00fff9 113.5px,#00fbff 123.5px,#00efff 135.5px,#00d1ff 139.5px,#0034ff 158.5px,#00faff 175.5px,#00ffec 177.5px,#00ffbf 181.5px,#00ffa2 203.5px)"></i><i style="top:48px;height:1px;background:linear-gradient(90deg,#ffde00 0.5px,#ff8100 22.5px,#ffec00 45.5px,#ffff00 47.5px,#3aff00 68.5px,#03ff00 77.5px,#00ff1b 82.5px,#00ff5b 92.5px,#00fffa 113.5px,#00faff 124.5px,#00efff 135.5px,#00d1ff 139.5px,#0034ff 158.5px,#00fbff 175.5px,#00ffec 177.5px,#00ffbf 181.5px,#00ffa2 203.5px)"></i><i style="top:49px;height:1px;background:linear-gradient(90deg,#ffde00 0.5px,#ff8100 22.5px,#ffec00 45.5px,#ffff00 47.5px,#3aff00 68.5px,#03ff00 77.5px,#00ff1b 82.5px,#00ff5b 92.5px,#00fffa 113.5px,#00faff 123.5px,#00efff 135.5px,#00d1ff 139.5px,#0035ff 158.5px,#00fbff 175.5px,#00ffec 177.5px,#00ffbf 181.5px,#00ffa2 203.5px)"></i><i style="top:50px;height:1px;background:linear-gradient(90deg,#ffde00 0.5px,#ff8100 22.5px,#ffec00 45.5px,#ffff00 47.5px,#3aff00 68.5px,#03ff00 77.5px,#00ff22 83.5px,#00ff5c 92.5px,#00fffb 113.5px,#00f7ff 126.5px,#00efff 135.5px,#00d1ff 139.5px,#0036ff 158.5px,#00fbff 175.5px,#00ffec 177.5px,#00ffbf 181.5px,#00ffa2 203.5px)"></i><i style="top:51px;height:1px;background:linear-gradient(90deg,#ffde00 0.5px,#ff8100 22.5px,#ffec00 45.5px,#ffff00 47.5px,#3aff00 68.5px,#03ff00 77.5px,#00ff28 84.5px,#00ff5c 92.5px,#00fffc 113.5px,#00f4ff 129.5px,#00efff 135.5px,#00d2ff 139.5px,#0036ff 158.5px,#00fbff 175.5px,#00ffeb 177.5px,#00ffbf 181.5px,#00ffa2 203.5px)"></i><i style="top:52px;height:1px;background:linear-gradient(90deg,#ffde00 0.5px,#ff8100 22.5px,#ffec00 45.5px,#ffff00 47.5px,#3aff00 68.5px,#03ff00 77.5px,#00ff34 86.5px,#00ff5c 92.5px,#00fffc 113.5px,#00efff 135.5px,#00d2ff 139.5px,#0037ff 158.5px,#00fbff 175.5px,#00ffe0 178.5px,#00ffbf 181.5px,#00ffa2 203.5px)"></i><i style="top:53px;height:1px;background:linear-gradient(90deg,#ffde00 0.5px,#ff8100 22.5px,#ffec00 45.5px,#ffff00 47.5px,#3aff00 68.5px,#03ff00 77.5px,#00ff47 89.5px,#00fffd 113.5px,#00efff 135.5px,#00d2ff 139.5px,#0038ff 158.5px,#00fcff 175.5px,#00ffe0 178.5px,#00ffbf 181.5px,#00ffa2 203.5px)"></i><i style="top:54px;height:1px;background:linear-gradient(90deg,#ffde00 0.5px,#ff8100 22.5px,#ffec00 45.5px,#ffff00 47.5px,#3aff00 68.5px,#03ff00 77.5px,#00ff4d 90.5px,#00fffe 113.5px,#00efff 135.5px,#00d2ff 139.5px,#0038ff 158.5px,#00fcff 175.5px,#00ffd4 179.5px,#00ffbf 181.5px,#00ffa2 203.5px)"></i><i style="top:55px;height:1px;background:linear-gradient(90deg,#ffde00 0.5px,#ff8100 22.5px,#ffec00 45.5px,#ffff00 47.5px,#3aff00 68.5px,#03ff00 77.5px,#00ff55 91.5px,#00fffe 113.5px,#00efff 135.5px,#00d2ff 139.5px,#0039ff 158.5px,#00fcff 175.5px,#00ffd4 179.5px,#00ffbf 181.5px,#00ffa2 203.5px)"></i><i style="top:56px;height:1px;background:linear-gradient(90deg,#ffde00 0.5px,#ff8100 22.5px,#ffec00 45.5px,#ffff00 47.5px,#3aff00 68.5px,#02ff00 77.5px,#00ff55 91.5px,#00ffff 113.5px,#00efff 135.5px,#00d2ff 139.5px,#003aff 158.5px,#00fcff 175.5px,#00ffbf 181.5px,#00ffa2 203.5px)"></i><i style="top:57px;height:1px;background:linear-gradient(90deg,#ffde00 0.5px,#ff8100 22.5px,#ffec00 45.5px,#ffff00 47.5px,#3aff00 68.5px,#02ff00 77.5px,#00ff55 91.5px,#00feff 113.5px,#00efff 135.5px,#00d2ff 139.5px,#003aff 158.5px,#00fcff 175.5px,#00ffbf 181.5px,#00ffa2 203.5px)"></i><i style="top:58px;height:1px;background:linear-gradient(90deg,#ffde00 0.5px,#ff8100 22.5px,#ffec00 45.5px,#ffff00 47.5px,#3aff00 68.5px,#02ff00 77.5px,#00ff56 91.5px,#00fffa 112.5px,#00fdff 114.5px,#00efff 135.5px,#00d2ff 139.5px,#003bff 158.5px,#00fcff 175.5px,#00ffbf 181.5px,#00ffa2 203.5px)"></i><i style="top:59px;height:1px;background:linear-gradient(90deg,#ffde00 0.5px,#ff8100 22.5px,#ffec00 45.5px,#ffff00 47.5px,#3aff00 68.5px,#02ff00 77.5px,#00ff56 91.5px,#00fffb 112.5px,#00fcff 114.5px,#00efff 135.5px,#00d2ff 139.5px,#003cff 158.5px,#00fdff 175.5px,#00ffbf 181.5px,#00ffa2 203.5px)"></i><i style="top:60px;height:1px;background:linear-gradient(90deg,#ffde00 0.5px,#ff8100 22.5px,#ffec00 45.5px,#ffff00 47.5px,#3aff00 68.5px,#02ff00 77.5px,#00ff56 91.5px,#00fffc 112.5px,#00fbff 115.5px,#00efff 135.5px,#00d3ff 139.5px,#003dff 158.5px,#00fdff 175.5px,#00ffbf 181.5px,#00ffa2 203.5px)"></i><i style="top:61px;height:1px;background:linear-gradient(90deg,#ffde00 0.5px,#ff8100 22.5px,#ffec00 45.5px,#ffff00 47.5px,#3aff00 68.5px,#02ff00 77.5px,#00ff56 91.5px,#00fffc 112.5px,#00f9ff 118.5px,#00efff 135.5px,#00d3ff 139.5px,#003dff 158.5px,#00fdff 175.5px,#00ffbf 181.5px,#00ffa2 203.5px)"></i><i style="top:62px;height:1px;background:linear-gradient(90deg,#ffde00 0.5px,#ff8100 22.5px,#ffec00 45.5px,#ffff00 47.5px,#3aff00 68.5px,#02ff00 77.5px,#00ff57 91.5px,#00fffd 112.5px,#00faff 115.5px,#00efff 135.5px,#00d3ff 139.5px,#003eff 158.5px,#00fdff 175.5px,#00ffbf 181.5px,#00ffa2 203.5px)"></i><i style="top:63px;height:1px;background:linear-gradient(90deg,#ffde00 0.5px,#ff8100 22.5px,#ffec00 45.5px,#ffff00 47.5px,#39ff00 68.5px,#02ff00 77.5px,#00ff57 91.5px,#00fffd 112.5px,#00faff 114.5px,#00f0ff 135.5px,#00d4ff 139.5px,#003fff 158.5px,#00feff 175.5px,#00ffbf 181.5px,#00ffa1 203.5px)"></i><i style="top:64px;height:1px;background:linear-gradient(90deg,#ffde00 0.5px,#ff8100 22.5px,#ffec00 45.5px,#ffff00 47.5px,#39ff00 68.5px,#01ff00 77.5px,#00ff57 91.5px,#00fffe 112.5px,#00faff 114.5px,#00f0ff 135.5px,#00d5ff 139.5px,#0041ff 158.5px,#00ffff 175.5px,#00ffbe 181.5px,#00ffa0 203.5px)"></i><i style="top:65px;height:1px;background:linear-gradient(90deg,#ffde00 0.5px,#ff8100 22.5px,#ffec00 45.5px,#ffff00 47.5px,#38ff00 68.5px,#01ff00 77.5px,#00ff57 91.5px,#00fffe 112.5px,#00faff 114.5px,#00f1ff 135.5px,#00d5ff 139.5px,#0042ff 158.5px,#00fffe 175.5px,#00ffbd 181.5px,#00ff9f 203.5px)"></i><i style="top:66px;height:1px;background:linear-gradient(90deg,#ffde00 0.5px,#ff8100 22.5px,#ffec00 45.5px,#ffff00 47.5px,#38ff00 68.5px,#01ff00 77.5px,#00ff57 91.5px,#00fffe 112.5px,#00f9ff 114.5px,#00f2ff 135.5px,#00d6ff 139.5px,#0044ff 158.5px,#00fffd 175.5px,#00ffbd 181.5px,#00ff9f 203.5px)"></i><i style="top:67px;height:1px;background:linear-gradient(90deg,#ffde00 0.5px,#ff8100 22.5px,#ffec00 45.5px,#feff00 47.5px,#37ff00 68.5px,#00ff00 77.5px,#00ff57 91.5px,#00fffe 112.5px,#00f9ff 113.5px,#00f3ff 135.5px,#00d7ff 139.5px,#0045ff 158.5px,#00fffc 175.5px,#00ffbc 181.5px,#00ff9e 203.5px)"></i><i style="top:68px;height:1px;background:linear-gradient(90deg,#ffde00 0.5px,#ff8100 22.5px,#ffec00 45.5px,#feff00 47.5px,#37ff00 68.5px,#00ff00 77.5px,#00ff57 91.5px,#00ffff 112.5px,#00f9ff 113.5px,#00f4ff 135.5px,#00d8ff 139.5px,#0047ff 158.5px,#00f7ff 174.5px,#00fffc 175.5px,#00ffbb 181.5px,#00ff9d 203.5px)"></i><i style="top:69px;height:1px;background:linear-gradient(90deg,#ffde00 0.5px,#ff8100 22.5px,#ffec00 45.5px,#feff00 47.5px,#36ff00 68.5px,#00ff00 77.5px,#00ff57 91.5px,#00ffff 112.5px,#00f9ff 113.5px,#00f4ff 135.5px,#00d9ff 139.5px,#0048ff 158.5px,#00f8ff 174.5px,#00fffb 175.5px,#00ffbb 181.5px,#00ff9c 203.5px)"></i><i style="top:70px;height:1px;background:linear-gradient(90deg,#ffde00 0.5px,#ff8100 22.5px,#ffec00 45.5px,#feff00 47.5px,#36ff00 68.5px,#00ff01 77.5px,#00ff57 91.5px,#00ffff 112.5px,#00f9ff 113.5px,#00f5ff 135.5px,#00daff 139.5px,#004aff 158.5px,#00f9ff 174.5px,#00fffa 175.5px,#00ffba 181.5px,#00ff9b 203.5px)"></i><i style="top:71px;height:1px;background:linear-gradient(90deg,#ffde00 0.5px,#ff8100 22.5px,#ffec00 45.5px,#feff00 47.5px,#36ff00 68.5px,#00ff01 77.5px,#00ff57 91.5px,#00feff 112.5px,#00f8ff 113.5px,#00f6ff 135.5px,#00dbff 139.5px,#004bff 158.5px,#00faff 174.5px,#00ffee 176.5px,#00ffb9 181.5px,#00ff9b 203.5px)"></i><i style="top:72px;height:1px;background:linear-gradient(90deg,#ffde00 0.5px,#ff8100 22.5px,#ffec00 45.5px,#feff00 47.5px,#35ff00 68.5px,#00ff01 77.5px,#00ff58 91.5px,#00feff 112.5px,#00f8ff 113.5px,#00f7ff 135.5px,#00dcff 139.5px,#004dff 158.5px,#00fbff 174.5px,#00ffed 176.5px,#00ffb9 181.5px,#00ff9a 203.5px)"></i><i style="top:73px;height:1px;background:linear-gradient(90deg,#ffde00 0.5px,#ff8100 22.5px,#ffec00 45.5px,#feff00 47.5px,#35ff00 68.5px,#00ff02 77.5px,#00ff58 91.5px,#00feff 112.5px,#00f8ff 113.5px,#00f7ff 135.5px,#00ddff 139.5px,#004eff 158.5px,#00fcff 174.5px,#00ffcb 179.5px,#00ffb8 181.5px,#00ff99 203.5px)"></i><i style="top:74px;height:1px;background:linear-gradient(90deg,#ffde00 0.5px,#ff8100 22.5px,#ffec00 45.5px,#feff00 47.5px,#34ff00 68.5px,#00ff02 77.5px,#00ff58 91.5px,#00feff 112.5px,#00f7ff 113.5px,#00f8ff 135.5px,#00deff 139.5px,#0050ff 158.5px,#00fdff 174.5px,#00ffb7 181.5px,#00ff98 203.5px)"></i><i style="top:75px;height:1px;background:linear-gradient(90deg,#ffde00 0.5px,#ff8100 22.5px,#ffec00 45.5px,#feff00 47.5px,#34ff00 68.5px,#00ff02 77.5px,#00ff58 91.5px,#00fdff 112.5px,#00f7ff 113.5px,#00f9ff 135.5px,#00deff 139.5px,#0051ff 158.5px,#00feff 174.5px,#00ffb6 181.5px,#00ff97 203.5px)"></i><i style="top:76px;height:1px;background:linear-gradient(90deg,#ffde00 0.5px,#ff8100 22.5px,#ffec00 45.5px,#feff00 47.5px,#33ff00 68.5px,#00ff03 77.5px,#00ff58 91.5px,#00fdff 112.5px,#00f7ff 113.5px,#00faff 135.5px,#00dfff 139.5px,#0053ff 158.5px,#00ffff 174.5px,#00ffb6 181.5px,#00ff97 203.5px)"></i><i style="top:77px;height:1px;background:linear-gradient(90deg,#ffde00 0.5px,#ff8100 22.5px,#ffec00 45.5px,#feff00 47.5px,#33ff00 68.5px,#03ff00 76.5px,#00ff1b 81.5px,#00ff58 91.5px,#00fdff 112.5px,#00f7ff 113.5px,#00faff 135.5px,#00e0ff 139.5px,#0054ff 158.5px,#00fffe 174.5px,#00ffb5 181.5px,#00ff96 203.5px)"></i><i style="top:78px;height:1px;background:linear-gradient(90deg,#ffde00 0.5px,#ff8100 22.5px,#ffec00 45.5px,#feff00 47.5px,#32ff00 68.5px,#03ff00 76.5px,#00ff50 90.5px,#00fcff 112.5px,#00f6ff 113.5px,#00fbff 135.5px,#00e1ff 139.5px,#0055ff 158.5px,#00fffd 174.5px,#00ffb4 181.5px,#00ff95 203.5px)"></i><i style="top:79px;height:1px;background:linear-gradient(90deg,#ffde00 0.5px,#ff8100 22.5px,#ffec00 45.5px,#feff00 47.5px,#32ff00 68.5px,#02ff00 76.5px,#00ff58 91.5px,#00fffa 111.5px,#00fcff 112.5px,#00f6ff 113.5px,#00fcff 135.5px,#00e2ff 139.5px,#0057ff 158.5px,#00fffd 174.5px,#00ffb4 181.5px,#00ff94 203.5px)"></i><i style="top:80px;height:1px;background:linear-gradient(90deg,#ffde00 0.5px,#ff8100 22.5px,#ffec00 45.5px,#feff00 47.5px,#31ff00 68.5px,#02ff00 76.5px,#00ff58 91.5px,#00fffa 111.5px,#00f6ff 113.5px,#00fdff 135.5px,#00e3ff 139.5px,#0058ff 158.5px,#00f8ff 173.5px,#00fffc 174.5px,#00ffb3 181.5px,#00ff94 203.5px)"></i><i style="top:81px;height:1px;background:linear-gradient(90deg,#ffde00 0.5px,#ff8100 22.5px,#ffec00 45.5px,#feff00 47.5px,#31ff00 68.5px,#02ff00 76.5px,#00ff59 91.5px,#00fffa 111.5px,#00f5ff 113.5px,#00fdff 135.5px,#00e4ff 139.5px,#005aff 158.5px,#00f9ff 173.5px,#00fffb 174.5px,#00ffb2 181.5px,#00ff93 203.5px)"></i><i style="top:82px;height:1px;background:linear-gradient(90deg,#ffde00 0.5px,#ff8100 22.5px,#ffec00 45.5px,#feff00 47.5px,#30ff00 68.5px,#01ff00 76.5px,#00ff59 91.5px,#00fffb 111.5px,#00f5ff 113.5px,#00feff 135.5px,#00e5ff 139.5px,#005bff 158.5px,#00faff 173.5px,#00fffa 174.5px,#00ffb2 181.5px,#00ff92 203.5px)"></i><i style="top:83px;height:1px;background:linear-gradient(90deg,#ffde00 0.5px,#ff8100 22.5px,#ffec00 45.5px,#feff00 47.5px,#30ff00 68.5px,#01ff00 76.5px,#00ff59 91.5px,#00fffb 111.5px,#00f5ff 113.5px,#00ffff 135.5px,#00e5ff 139.5px,#005cff 158.5px,#00faff 173.5px,#00ffef 175.5px,#00ffb1 181.5px,#00ff91 203.5px)"></i><i style="top:84px;height:1px;background:linear-gradient(90deg,#ffde00 0.5px,#ff8100 22.5px,#ffec00 45.5px,#feff00 47.5px,#30ff00 68.5px,#01ff00 76.5px,#00ff59 91.5px,#00fffa 111.5px,#00f6ff 113.5px,#00ffff 135.5px,#00f4ff 137.5px,#005dff 158.5px,#00faff 173.5px,#00ffee 175.5px,#00ffb1 181.5px,#00ff91 203.5px)"></i><i style="top:85px;height:1px;background:linear-gradient(90deg,#ffde00 0.5px,#ff8100 22.5px,#ffec00 45.5px,#feff00 47.5px,#30ff00 68.5px,#01ff00 76.5px,#00ff59 91.5px,#00fffa 111.5px,#00fcff 112.5px,#00f6ff 113.5px,#00fffe 135.5px,#00f5ff 137.5px,#005dff 158.5px,#00faff 173.5px,#00ffee 175.5px,#00ffb1 181.5px,#00ff91 203.5px)"></i><i style="top:86px;height:1px;background:linear-gradient(90deg,#ffde00 0.5px,#ff8100 22.5px,#ffec00 45.5px,#feff00 47.5px,#30ff00 68.5px,#01ff00 76.5px,#00ff59 91.5px,#00fdff 112.5px,#00f7ff 113.5px,#00fffe 135.5px,#00f5ff 137.5px,#005dff 158.5px,#00faff 173.5px,#00ffee 175.5px,#00ffb1 181.5px,#00ff91 203.5px)"></i><i style="top:87px;height:1px;background:linear-gradient(90deg,#ffde00 0.5px,#ff8100 22.5px,#ffec00 45.5px,#feff00 47.5px,#30ff00 68.5px,#01ff00 76.5px,#00ff59 91.5px,#00fdff 112.5px,#00f7ff 113.5px,#00fffd 135.5px,#00fdff 136.5px,#005dff 158.5px,#00fbff 173.5px,#00ffee 175.5px,#00ffb1 181.5px,#00ff91 203.5px)"></i><i style="top:88px;height:1px;background:linear-gradient(90deg,#ffde00 0.5px,#ff8100 22.5px,#ffec00 45.5px,#feff00 47.5px,#30ff00 68.5px,#01ff00 76.5px,#00ff59 91.5px,#00feff 112.5px,#00f7ff 113.5px,#00fffd 135.5px,#00fdff 136.5px,#005dff 158.5px,#00fbff 173.5px,#00ffee 175.5px,#00ffb1 181.5px,#00ff91 203.5px)"></i><i style="top:89px;height:1px;background:linear-gradient(90deg,#ffde00 0.5px,#ff8100 22.5px,#ffec00 45.5px,#feff00 47.5px,#30ff00 68.5px,#01ff00 76.5px,#00ff59 91.5px,#00feff 112.5px,#00f8ff 113.5px,#00fffc 135.5px,#00feff 136.5px,#005eff 158.5px,#00fbff 173.5px,#00ffee 175.5px,#00ffb1 181.5px,#00ff91 203.5px)"></i><i style="top:90px;height:1px;background:linear-gradient(90deg,#ffde00 0.5px,#ff8100 22.5px,#ffec00 45.5px,#feff00 47.5px,#30ff00 68.5px,#01ff00 76.5px,#00ff59 91.5px,#00ffff 112.5px,#00f8ff 113.5px,#00fffc 135.5px,#00feff 136.5px,#005eff 158.5px,#00fbff 173.5px,#00ffee 175.5px,#00ffb1 181.5px,#00ff91 203.5px)"></i><i style="top:91px;height:1px;background:linear-gradient(90deg,#ffde00 0.5px,#ff8100 22.5px,#ffec00 45.5px,#feff00 47.5px,#30ff00 68.5px,#01ff00 76.5px,#00ff59 91.5px,#00ffff 112.5px,#00f9ff 113.5px,#00fffb 135.5px,#00ffff 136.5px,#005eff 158.5px,#00fbff 173.5px,#00ffee 175.5px,#00ffb1 181.5px,#00ff91 203.5px)"></i><i style="top:92px;height:1px;background:linear-gradient(90deg,#ffde00 0.5px,#ff8100 22.5px,#ffec00 45.5px,#feff00 47.5px,#30ff00 68.5px,#01ff00 76.5px,#00ff59 91.5px,#00fffe 112.5px,#00f9ff 113.5px,#00fffb 135.5px,#00ffff 136.5px,#005eff 158.5px,#00fbff 173.5px,#00ffee 175.5px,#00ffb1 181.5px,#00ff91 203.5px)"></i><i style="top:93px;height:1px;background:linear-gradient(90deg,#ffde00 0.5px,#ff8100 22.5px,#ffec00 45.5px,#feff00 47.5px,#30ff00 68.5px,#01ff00 76.5px,#00ff59 91.5px,#00fffe 112.5px,#00faff 113.5px,#00fffa 135.5px,#00fffe 136.5px,#005eff 158.5px,#00fbff 173.5px,#00ffee 175.5px,#00ffb1 181.5px,#00ff91 203.5px)"></i><i style="top:94px;height:1px;background:linear-gradient(90deg,#ffde00 0.5px,#ff8100 22.5px,#ffec00 45.5px,#feff00 47.5px,#30ff00 68.5px,#01ff00 76.5px,#00ff58 91.5px,#00fffe 112.5px,#00faff 113.5px,#00fffa 135.5px,#00fffe 136.5px,#005fff 158.5px,#00fbff 173.5px,#00ffee 175.5px,#00ffb1 181.5px,#00ff91 203.5px)"></i><i style="top:95px;height:1px;background:linear-gradient(90deg,#ffde00 0.5px,#ff8100 22.5px,#ffec00 45.5px,#feff00 47.5px,#30ff00 68.5px,#01ff00 76.5px,#00ff58 91.5px,#00fffd 112.5px,#00fbff 114.5px,#00fff9 135.5px,#00fffd 136.5px,#005fff 158.5px,#00fbff 173.5px,#00ffee 175.5px,#00ffb1 181.5px,#00ff91 203.5px)"></i><i style="top:96px;height:1px;background:linear-gradient(90deg,#ffde00 0.5px,#ff8100 22.5px,#ffec00 45.5px,#feff00 47.5px,#30ff00 68.5px,#01ff00 76.5px,#00ff58 91.5px,#00fffd 112.5px,#00fcff 114.5px,#00fff9 135.5px,#00fffd 136.5px,#005fff 158.5px,#00fbff 173.5px,#00ffee 175.5px,#00ffb1 181.5px,#00ff91 203.5px)"></i><i style="top:97px;height:1px;background:linear-gradient(90deg,#ffde00 0.5px,#ff8100 22.5px,#ffec00 45.5px,#feff00 47.5px,#30ff00 68.5px,#01ff00 76.5px,#00ff58 91.5px,#00fffc 112.5px,#00fdff 115.5px,#00fff8 135.5px,#00faff 137.5px,#005fff 158.5px,#00fbff 173.5px,#00ffee 175.5px,#00ffb1 181.5px,#00ff91 203.5px)"></i><i style="top:98px;height:1px;background:linear-gradient(90deg,#ffde00 0.5px,#ff8100 22.5px,#ffec00 45.5px,#feff00 47.5px,#30ff00 68.5px,#01ff00 76.5px,#00ff58 91.5px,#00fffc 112.5px,#00fdff 115.5px,#00fff8 135.5px,#00fbff 137.5px,#005fff 158.5px,#00fbff 173.5px,#00ffe3 176.5px,#00ffb1 181.5px,#00ff91 203.5px)"></i><i style="top:99px;height:1px;background:linear-gradient(90deg,#ffde00 0.5px,#ff8100 22.5px,#ffec00 45.5px,#feff00 47.5px,#30ff00 68.5px,#01ff00 76.5px,#00ff58 91.5px,#00fffb 112.5px,#00fdff 114.5px,#00fff7 135.5px,#00fbff 137.5px,#0060ff 158.5px,#00fbff 173.5px,#00ffe3 176.5px,#00ffb1 181.5px,#00ff91 203.5px)"></i><i style="top:100px;height:1px;background:linear-gradient(90deg,#ffde00 0.5px,#ff8100 22.5px,#ffec00 45.5px,#feff00 47.5px,#30ff00 68.5px,#01ff00 76.5px,#00ff58 91.5px,#00fffb 112.5px,#00feff 114.5px,#00fff7 135.5px,#00fcff 137.5px,#0060ff 158.5px,#00fbff 173.5px,#00ffe3 176.5px,#00ffb1 181.5px,#00ff91 203.5px)"></i><i style="top:101px;height:1px;background:linear-gradient(90deg,#ffde00 0.5px,#ff8100 22.5px,#ffec00 45.5px,#feff00 47.5px,#30ff00 68.5px,#01ff00 76.5px,#00ff58 91.5px,#00fffa 112.5px,#00feff 114.5px,#00fff6 135.5px,#00fcff 137.5px,#0060ff 158.5px,#00fbff 173.5px,#00ffe3 176.5px,#00ffb1 181.5px,#00ff91 203.5px)"></i><i style="top:102px;height:1px;background:linear-gradient(90deg,#ffde00 0.5px,#ff8100 22.5px,#ffec00 45.5px,#feff00 47.5px,#30ff00 68.5px,#01ff00 76.5px,#00ff58 91.5px,#00feff 113.5px,#00fff6 135.5px,#00fdff 137.5px,#0060ff 158.5px,#00fcff 173.5px,#00ffe3 176.5px,#00ffb1 181.5px,#00ff91 203.5px)"></i><i style="top:103px;height:1px;background:linear-gradient(90deg,#ffde00 0.5px,#ff8100 22.5px,#ffec00 45.5px,#feff00 47.5px,#30ff00 68.5px,#01ff00 76.5px,#00ff58 91.5px,#00ffff 113.5px,#00fff5 135.5px,#00fdff 137.5px,#0060ff 158.5px,#00fcff 173.5px,#00ffe3 176.5px,#00ffb1 181.5px,#00ff91 203.5px)"></i><i style="top:104px;height:1px;background:linear-gradient(90deg,#ffde00 0.5px,#ff8100 22.5px,#ffec00 45.5px,#feff00 47.5px,#2fff00 68.5px,#01ff00 76.5px,#00ff58 91.5px,#00fffe 113.5px,#00fff4 135.5px,#00feff 137.5px,#0061ff 158.5px,#00fcff 173.5px,#00ffb9 180.5px,#00ffb1 181.5px,#00ff91 203.5px)"></i><i style="top:105px;height:1px;background:linear-gradient(90deg,#ffdc00 0.5px,#ff8100 22.5px,#ffec00 45.5px,#feff00 47.5px,#2eff00 68.5px,#00ff00 76.5px,#00ff58 91.5px,#00fffc 113.5px,#00fff3 135.5px,#00ffff 137.5px,#0062ff 158.5px,#00fdff 173.5px,#00ffb0 181.5px,#00ff90 203.5px)"></i><i style="top:106px;height:1px;background:linear-gradient(90deg,#ffdb00 0.5px,#ff8100 22.5px,#ffeb00 45.5px,#ffff00 47.5px,#2dff00 68.5px,#00ff00 76.5px,#00ff58 91.5px,#00fffa 113.5px,#00fff2 135.5px,#00fffe 137.5px,#0064ff 158.5px,#00feff 173.5px,#00ffaf 181.5px,#00ff8f 203.5px)"></i><i style="top:107px;height:1px;background:linear-gradient(90deg,#ffd900 0.5px,#ff8100 22.5px,#ffeb00 45.5px,#ffff00 47.5px,#2cff00 68.5px,#00ff01 76.5px,#00ff58 91.5px,#00fff8 113.5px,#00fff1 135.5px,#00fffd 137.5px,#0065ff 158.5px,#00ffff 173.5px,#00ffae 181.5px,#00ff8f 203.5px)"></i><i style="top:108px;height:1px;background:linear-gradient(90deg,#ffd800 0.5px,#ff8100 22.5px,#ffea00 45.5px,#ffff00 47.5px,#2cff00 68.5px,#00ff02 76.5px,#00ff58 91.5px,#00fff6 113.5px,#00fff0 135.5px,#00fffc 137.5px,#00ddff 142.5px,#0066ff 158.5px,#00fffe 173.5px,#00ffae 181.5px,#00ff8e 203.5px)"></i><i style="top:109px;height:1px;background:linear-gradient(90deg,#ffd600 0.5px,#ff8100 22.5px,#ffea00 45.5px,#fffe00 47.5px,#2bff00 68.5px,#00ff02 76.5px,#00ff58 91.5px,#00fff4 113.5px,#00ffef 135.5px,#00fcff 138.5px,#0068ff 158.5px,#00fffd 173.5px,#00ffad 181.5px,#00ff8d 203.5px)"></i><i style="top:110px;height:1px;background:linear-gradient(90deg,#ffd500 0.5px,#ff8100 22.5px,#ffe900 45.5px,#fffe00 47.5px,#2aff00 68.5px,#03ff00 75.5px,#00ff51 90.5px,#00fff2 113.5px,#00ffee 135.5px,#00fdff 138.5px,#0069ff 158.5px,#00f8ff 172.5px,#00fffc 173.5px,#00ffac 181.5px,#00ff8c 203.5px)"></i><i style="top:111px;height:1px;background:linear-gradient(90deg,#ffd300 0.5px,#ff8100 22.5px,#ffe900 45.5px,#fffe00 47.5px,#29ff00 68.5px,#02ff00 75.5px,#00ff58 91.5px,#00fff0 113.5px,#00ffed 135.5px,#00feff 138.5px,#006aff 158.5px,#00f9ff 172.5px,#00fffb 173.5px,#00ffab 181.5px,#00ff8c 203.5px)"></i><i style="top:112px;height:1px;background:linear-gradient(90deg,#ffd200 0.5px,#ff8100 22.5px,#ffe800 45.5px,#fffd00 47.5px,#28ff00 68.5px,#01ff00 75.5px,#00ff58 91.5px,#00ffee 113.5px,#00ffec 135.5px,#00ffff 138.5px,#006bff 158.5px,#00faff 172.5px,#00fffa 173.5px,#00ffaa 181.5px,#00ff8b 203.5px)"></i><i style="top:113px;height:1px;background:linear-gradient(90deg,#ffd100 0.5px,#ff8100 22.5px,#ffe800 45.5px,#fffd00 47.5px,#27ff00 68.5px,#01ff00 75.5px,#00ff5e 92.5px,#00ffec 113.5px,#00ffeb 135.5px,#00fffe 138.5px,#006dff 158.5px,#00faff 172.5px,#00ffef 174.5px,#00ffaa 181.5px,#00ff8a 203.5px)"></i><i style="top:114px;height:1px;background:linear-gradient(90deg,#ffcf00 0.5px,#ff8100 22.5px,#ffe700 45.5px,#fffd00 47.5px,#2eff00 67.5px,#00ff00 75.5px,#00ff5e 92.5px,#00ffea 113.5px,#00ffea 135.5px,#00fffd 138.5px,#006eff 158.5px,#00fbff 172.5px,#00ffe4 175.5px,#00ffa9 181.5px,#00ff89 203.5px)"></i><i style="top:115px;height:1px;background:linear-gradient(90deg,#ffce00 0.5px,#ff8100 22.5px,#ffe700 45.5px,#fffc00 47.5px,#8dff00 58.5px,#2dff00 67.5px,#00ff01 75.5px,#00ff5e 92.5px,#00ffe8 113.5px,#00ffe9 135.5px,#00fffc 138.5px,#00b1ff 149.5px,#006fff 158.5px,#00fcff 172.5px,#00ffa8 181.5px,#00ff88 203.5px)"></i><i style="top:116px;height:1px;background:linear-gradient(90deg,#ffcc00 0.5px,#ff8100 22.5px,#ffe600 45.5px,#fffc00 47.5px,#ccff00 52.5px,#2cff00 67.5px,#00ff01 75.5px,#00ff5e 92.5px,#00ffe6 113.5px,#00ffe8 135.5px,#00fffb 138.5px,#00edff 141.5px,#0071ff 158.5px,#00fdff 172.5px,#00ffa7 181.5px,#00ff88 203.5px)"></i><i style="top:117px;height:1px;background:linear-gradient(90deg,#ffcb00 0.5px,#ff8100 22.5px,#ffe600 45.5px,#fffc00 47.5px,#e2ff00 50.5px,#2bff00 67.5px,#00ff02 75.5px,#00ff5e 92.5px,#00ffe4 113.5px,#00ffe7 135.5px,#00fcff 139.5px,#0072ff 158.5px,#00feff 172.5px,#00ffa6 181.5px,#00ff87 203.5px)"></i><i style="top:118px;height:1px;background:linear-gradient(90deg,#ffc900 0.5px,#ff8100 22.5px,#ffe600 45.5px,#fffb00 47.5px,#edff00 49.5px,#2aff00 67.5px,#03ff00 74.5px,#00ff51 90.5px,#00ffe2 113.5px,#00ffe6 135.5px,#00fdff 139.5px,#0073ff 158.5px,#00ffff 172.5px,#00ffa6 181.5px,#00ff86 203.5px)"></i><i style="top:119px;height:1px;background:linear-gradient(90deg,#ffc800 0.5px,#ff8100 22.5px,#ffe500 45.5px,#fffb00 47.5px,#edff00 49.5px,#29ff00 67.5px,#02ff00 74.5px,#00ff5d 92.5px,#00ffe1 113.5px,#00ffe5 135.5px,#00ffff 139.5px,#0074ff 158.5px,#00fffe 172.5px,#00ffa5 181.5px,#00ff85 203.5px)"></i><i style="top:120px;height:1px;background:linear-gradient(90deg,#ffc600 0.5px,#ff8100 22.5px,#ffe500 45.5px,#fffb00 47.5px,#eeff00 49.5px,#28ff00 67.5px,#01ff00 74.5px,#00ff5d 92.5px,#00ffdf 113.5px,#00ffe4 135.5px,#00fffe 139.5px,#0076ff 158.5px,#00fffd 172.5px,#00ffa4 181.5px,#00ff84 203.5px)"></i><i style="top:121px;height:1px;background:linear-gradient(90deg,#ffc500 0.5px,#ff8100 22.5px,#ffe400 45.5px,#fffa00 47.5px,#eeff00 49.5px,#27ff00 67.5px,#01ff00 74.5px,#00ff5d 92.5px,#00ffdd 113.5px,#00ffe3 135.5px,#00fffd 139.5px,#0077ff 158.5px,#00f8ff 171.5px,#00fffc 172.5px,#00ffa3 181.5px,#00ff84 203.5px)"></i><i style="top:122px;height:1px;background:linear-gradient(90deg,#ffc400 0.5px,#ff8100 22.5px,#ffe400 45.5px,#fffa00 47.5px,#f9ff00 48.5px,#26ff00 67.5px,#00ff00 74.5px,#00ff63 93.5px,#00ffdb 113.5px,#00ffe2 135.5px,#00fffc 139.5px,#0078ff 158.5px,#00f9ff 171.5px,#00fffb 172.5px,#00ffa3 181.5px,#00ff83 203.5px)"></i><i style="top:123px;height:1px;background:linear-gradient(90deg,#ffc200 0.5px,#ff8100 22.5px,#ffe300 45.5px,#fff900 47.5px,#f9ff00 48.5px,#25ff00 67.5px,#04ff00 73.5px,#00ff06 75.5px,#00ff63 93.5px,#00ffd9 113.5px,#00ffe1 135.5px,#00fffb 139.5px,#00edff 142.5px,#0079ff 158.5px,#00faff 171.5px,#00fff0 173.5px,#00ffa2 181.5px,#00ff82 203.5px)"></i><i style="top:124px;height:1px;background:linear-gradient(90deg,#ffc100 0.5px,#ff8100 22.5px,#ffe300 45.5px,#fff900 47.5px,#faff00 48.5px,#24ff00 67.5px,#03ff00 73.5px,#00ff0c 76.5px,#00ff63 93.5px,#00ffd7 113.5px,#00ffe0 135.5px,#00fcff 140.5px,#007bff 158.5px,#00fbff 171.5px,#00ffef 173.5px,#00ffa1 181.5px,#00ff81 203.5px)"></i><i style="top:125px;height:1px;background:linear-gradient(90deg,#ffbf00 0.5px,#ff8100 22.5px,#ffe300 45.5px,#fff900 47.5px,#faff00 48.5px,#24ff00 67.5px,#03ff00 73.5px,#00ff11 77.5px,#00ff62 93.5px,#00ffd6 113.5px,#00ffe0 135.5px,#00fdff 140.5px,#007bff 158.5px,#00fcff 171.5px,#00ffe5 174.5px,#00ffa1 181.5px,#00ff81 203.5px)"></i><i style="top:126px;height:1px;background:linear-gradient(90deg,#ffbd00 0.5px,#ff8000 22.5px,#ffe300 45.5px,#fff900 47.5px,#faff00 48.5px,#24ff00 67.5px,#03ff00 73.5px,#00ff11 77.5px,#00ff62 93.5px,#00ffd5 113.5px,#00ffdf 135.5px,#00feff 140.5px,#007cff 158.5px,#00fcff 171.5px,#00ffda 175.5px,#00ffa1 181.5px,#00ff81 203.5px)"></i><i style="top:127px;height:1px;background:linear-gradient(90deg,#ffbb00 0.5px,#ff8000 22.5px,#ffe300 45.5px,#fff900 47.5px,#faff00 48.5px,#24ff00 67.5px,#03ff00 73.5px,#00ff11 77.5px,#00ff68 94.5px,#00ffd4 113.5px,#00ffde 135.5px,#00feff 140.5px,#007cff 158.5px,#00fcff 171.5px,#00ffda 175.5px,#00ffa1 181.5px,#00ff81 203.5px)"></i><i style="top:128px;height:1px;background:linear-gradient(90deg,#ffb900 0.5px,#ff8000 22.5px,#ffe300 45.5px,#fff900 47.5px,#faff00 48.5px,#24ff00 67.5px,#03ff00 73.5px,#00ff11 77.5px,#00ff68 94.5px,#00ffd4 113.5px,#00ffde 135.5px,#00ffff 140.5px,#007cff 158.5px,#00fcff 171.5px,#00ffd0 176.5px,#00ffa1 181.5px,#00ff81 203.5px)"></i><i style="top:129px;height:1px;background:linear-gradient(90deg,#ffb700 0.5px,#ff8000 22.5px,#ffe300 45.5px,#fff900 47.5px,#faff00 48.5px,#24ff00 67.5px,#03ff00 73.5px,#00ff11 77.5px,#00ff68 94.5px,#00ffd3 113.5px,#00ffdd 135.5px,#00fffe 140.5px,#007cff 158.5px,#00fcff 171.5px,#00ffc6 177.5px,#00ffa1 181.5px,#00ff81 203.5px)"></i><i style="top:130px;height:1px;background:linear-gradient(90deg,#ffb500 0.5px,#ff7f00 22.5px,#ffe300 45.5px,#fff900 47.5px,#faff00 48.5px,#24ff00 67.5px,#03ff00 73.5px,#00ff11 77.5px,#00ff68 94.5px,#00ffd2 113.5px,#00ffdc 135.5px,#00fffe 140.5px,#007dff 158.5px,#00fcff 171.5px,#00ffb2 179.5px,#00ffa1 181.5px,#00ff81 203.5px)"></i><i style="top:131px;height:1px;background:linear-gradient(90deg,#ffb300 0.5px,#ff7f00 22.5px,#ffe300 45.5px,#fff900 47.5px,#faff00 48.5px,#24ff00 67.5px,#03ff00 73.5px,#00ff11 77.5px,#00ff6d 95.5px,#00ffd2 113.5px,#00ffdc 135.5px,#00fffd 140.5px,#007dff 158.5px,#00fcff 171.5px,#00ffa1 181.5px,#00ff81 203.5px)"></i><i style="top:132px;height:1px;background:linear-gradient(90deg,#ffb100 0.5px,#ff7f00 22.5px,#ffe300 45.5px,#fff900 47.5px,#faff00 48.5px,#24ff00 67.5px,#03ff00 73.5px,#00ff11 77.5px,#00ff6d 95.5px,#00ffd1 113.5px,#00ffdb 135.5px,#00fffd 140.5px,#007dff 158.5px,#00fcff 171.5px,#00ffa1 181.5px,#00ff81 203.5px)"></i><i style="top:133px;height:1px;background:linear-gradient(90deg,#ffaf00 0.5px,#ff7e00 22.5px,#ffe300 45.5px,#fff900 47.5px,#faff00 48.5px,#24ff00 67.5px,#03ff00 73.5px,#00ff11 77.5px,#00ff6d 95.5px,#00ffd0 113.5px,#00ffda 135.5px,#00fffc 140.5px,#00ddff 145.5px,#007eff 158.5px,#00fdff 171.5px,#00ffa1 181.5px,#00ff81 203.5px)"></i><i style="top:134px;height:1px;background:linear-gradient(90deg,#ffae00 0.5px,#ff7e00 22.5px,#ffe300 45.5px,#fff900 47.5px,#faff00 48.5px,#24ff00 67.5px,#03ff00 73.5px,#00ff11 77.5px,#00ff72 96.5px,#00ffd0 113.5px,#00ffd9 135.5px,#00fffb 140.5px,#00edff 143.5px,#007eff 158.5px,#00fdff 171.5px,#00ffa1 181.5px,#00ff81 203.5px)"></i><i style="top:135px;height:1px;background:linear-gradient(90deg,#ffac00 0.5px,#ff7e00 22.5px,#ffe300 45.5px,#fff900 47.5px,#faff00 48.5px,#24ff00 67.5px,#03ff00 73.5px,#00ff11 77.5px,#00ff72 96.5px,#00ffcf 113.5px,#00ffd9 135.5px,#00fffb 140.5px,#00f4ff 142.5px,#007eff 158.5px,#00fdff 171.5px,#00ffa1 181.5px,#00ff81 203.5px)"></i><i style="top:136px;height:1px;background:linear-gradient(90deg,#ffaa00 0.5px,#ff7d00 22.5px,#ffe300 45.5px,#fff900 47.5px,#faff00 48.5px,#24ff00 67.5px,#03ff00 73.5px,#00ff11 77.5px,#00ff77 97.5px,#00ffce 113.5px,#00ffd8 135.5px,#00fcff 141.5px,#007fff 158.5px,#00fdff 171.5px,#00ffa1 181.5px,#00ff81 203.5px)"></i><i style="top:137px;height:1px;background:linear-gradient(90deg,#ffa800 0.5px,#ff7d00 22.5px,#ffe300 45.5px,#fff900 47.5px,#faff00 48.5px,#24ff00 67.5px,#03ff00 73.5px,#00ff11 77.5px,#00ff77 97.5px,#00ffce 113.5px,#00ffd7 135.5px,#00fdff 141.5px,#007fff 158.5px,#00fdff 171.5px,#00ffa1 181.5px,#00ff81 203.5px)"></i><i style="top:138px;height:1px;background:linear-gradient(90deg,#ffa600 0.5px,#ff7d00 22.5px,#ffe300 45.5px,#fff900 47.5px,#faff00 48.5px,#24ff00 67.5px,#03ff00 73.5px,#00ff11 77.5px,#00ff7c 98.5px,#00ffcd 113.5px,#00ffd7 135.5px,#00feff 141.5px,#007fff 158.5px,#00fdff 171.5px,#00ffa1 181.5px,#00ff81 203.5px)"></i><i style="top:139px;height:1px;background:linear-gradient(90deg,#ffa400 0.5px,#ff7c00 22.5px,#ffe300 45.5px,#fff900 47.5px,#faff00 48.5px,#24ff00 67.5px,#03ff00 73.5px,#00ff11 77.5px,#00ff82 99.5px,#00ffcc 113.5px,#00ffd6 135.5px,#00feff 141.5px,#007fff 158.5px,#00fdff 171.5px,#00ffa1 181.5px,#00ff81 203.5px)"></i><i style="top:140px;height:1px;background:linear-gradient(90deg,#ffa200 0.5px,#ff7c00 22.5px,#ffe300 45.5px,#fff900 47.5px,#faff00 48.5px,#24ff00 67.5px,#03ff00 73.5px,#00ff11 77.5px,#00ff8c 101.5px,#00ffcb 113.5px,#00ffd5 135.5px,#00fff8 140.5px,#00ffff 141.5px,#0080ff 158.5px,#00fdff 171.5px,#00ffa1 181.5px,#00ff81 203.5px)"></i><i style="top:141px;height:1px;background:linear-gradient(90deg,#ffa000 0.5px,#ff7c00 22.5px,#ffe300 45.5px,#fff900 47.5px,#faff00 48.5px,#24ff00 67.5px,#03ff00 73.5px,#00ff11 77.5px,#00ff91 102.5px,#00ffcb 113.5px,#00ffd5 135.5px,#00fff7 140.5px,#00ffff 141.5px,#0080ff 158.5px,#00feff 171.5px,#00ffa1 181.5px,#00ff81 203.5px)"></i><i style="top:142px;height:1px;background:linear-gradient(90deg,#ff9e00 0.5px,#ff7c00 22.5px,#ffe300 45.5px,#fff900 47.5px,#faff00 48.5px,#24ff00 67.5px,#03ff00 73.5px,#00ff11 77.5px,#00ffa1 105.5px,#00ffca 113.5px,#00ffd4 135.5px,#00fff6 140.5px,#00fffe 141.5px,#0080ff 158.5px,#00feff 171.5px,#00ffa1 181.5px,#00ff81 203.5px)"></i><i style="top:143px;height:1px;background:linear-gradient(90deg,#ff9c00 0.5px,#ff7b00 22.5px,#ffe300 45.5px,#fff900 47.5px,#faff00 48.5px,#24ff00 67.5px,#03ff00 73.5px,#00ff11 77.5px,#00ffb0 108.5px,#00ffc9 113.5px,#00ffd3 135.5px,#00fff6 140.5px,#00fffd 141.5px,#0081ff 158.5px,#00feff 171.5px,#00ffa1 181.5px,#00ff81 203.5px)"></i><i style="top:144px;height:1px;background:linear-gradient(90deg,#ff9a00 0.5px,#ff7b00 22.5px,#ffe300 45.5px,#fff900 47.5px,#faff00 48.5px,#24ff00 67.5px,#03ff00 73.5px,#00ff11 77.5px,#00ffc9 113.5px,#00ffd3 135.5px,#00fff5 140.5px,#00fffd 141.5px,#0081ff 158.5px,#00feff 171.5px,#00ffa1 181.5px,#00ff81 203.5px)"></i><i style="top:145px;height:1px;background:linear-gradient(90deg,#ff9800 0.5px,#ff7b00 22.5px,#ffe300 45.5px,#fff900 47.5px,#faff00 48.5px,#24ff00 67.5px,#03ff00 73.5px,#00ff11 77.5px,#00ffc8 113.5px,#00ffd2 135.5px,#00fff5 140.5px,#00faff 142.5px,#0081ff 158.5px,#00feff 171.5px,#00ffa1 181.5px,#00ff81 203.5px)"></i><i style="top:146px;height:1px;background:linear-gradient(90deg,#ff9100 0.5px,#ff7a00 22.5px,#ffe300 45.5px,#fff900 47.5px,#faff00 48.5px,#24ff00 67.5px,#03ff00 73.5px,#00ff11 77.5px,#00ffc8 113.5px,#00ffd1 135.5px,#00fff4 140.5px,#00fbff 142.5px,#0082ff 158.5px,#00feff 171.5px,#00ffa1 181.5px,#00ff80 203.5px)"></i><i style="top:147px;height:1px;background:linear-gradient(90deg,#ff8a00 0.5px,#ff7900 22.5px,#ffe300 45.5px,#fff900 47.5px,#faff00 48.5px,#24ff00 67.5px,#03ff00 73.5px,#00ff11 77.5px,#00ffc7 113.5px,#00ffd1 135.5px,#00fff3 140.5px,#00fcff 142.5px,#0083ff 158.5px,#00ffff 171.5px,#00ffa1 181.5px,#00ff80 203.5px)"></i><i style="top:148px;height:1px;background:linear-gradient(90deg,#ff8300 0.5px,#ff7800 22.5px,#ffe300 45.5px,#fff900 47.5px,#faff00 48.5px,#24ff00 67.5px,#03ff00 73.5px,#00ff11 77.5px,#00ffc7 113.5px,#00ffd0 135.5px,#00fff3 140.5px,#00fcff 142.5px,#0084ff 158.5px,#00ffff 171.5px,#00ffa1 181.5px,#00ff7f 203.5px)"></i><i style="top:149px;height:1px;background:linear-gradient(90deg,#ff7b00 0.5px,#ff7600 22.5px,#ffe300 45.5px,#fff900 47.5px,#faff00 48.5px,#24ff00 67.5px,#03ff00 73.5px,#00ff11 77.5px,#00ffc6 113.5px,#00ffd0 135.5px,#00fff2 140.5px,#00fdff 142.5px,#0084ff 158.5px,#00ffff 171.5px,#00ffa1 181.5px,#00ff7e 203.5px)"></i><i style="top:150px;height:1px;background:linear-gradient(90deg,#ff7400 0.5px,#ff7500 22.5px,#ffe300 45.5px,#fff900 47.5px,#faff00 48.5px,#24ff00 67.5px,#03ff00 73.5px,#00ff11 77.5px,#00ffc6 113.5px,#00ffcf 135.5px,#00fff2 140.5px,#00fdff 142.5px,#0085ff 158.5px,#00fffe 171.5px,#00ffa1 181.5px,#00ff7d 203.5px)"></i><i style="top:151px;height:1px;background:linear-gradient(90deg,#ff6d00 0.5px,#ff7400 22.5px,#ffe300 45.5px,#fff900 47.5px,#faff00 48.5px,#24ff00 67.5px,#03ff00 73.5px,#00ff11 77.5px,#00ffc6 113.5px,#00ffce 135.5px,#00fff1 140.5px,#00feff 142.5px,#0086ff 158.5px,#00fffe 171.5px,#00ffa1 181.5px,#00ff7c 203.5px)"></i><i style="top:152px;height:1px;background:linear-gradient(90deg,#ff6600 0.5px,#ff7300 22.5px,#ffe300 45.5px,#fff900 47.5px,#faff00 48.5px,#24ff00 67.5px,#03ff00 73.5px,#00ff11 77.5px,#00ffc5 113.5px,#00ffce 135.5px,#00fff0 140.5px,#00ffff 142.5px,#0087ff 158.5px,#00fffe 171.5px,#00ffa1 181.5px,#00ff7c 203.5px)"></i><i style="top:153px;height:1px;background:linear-gradient(90deg,#ff5e00 0.5px,#ff7200 22.5px,#ffe300 45.5px,#fff900 47.5px,#faff00 48.5px,#24ff00 67.5px,#03ff00 73.5px,#00ff11 77.5px,#00ffc5 113.5px,#00ffcd 135.5px,#00fff0 140.5px,#00ffff 142.5px,#0087ff 158.5px,#00fffd 171.5px,#00ffa1 181.5px,#00ff7b 203.5px)"></i><i style="top:154px;height:1px;background:linear-gradient(90deg,#ff5700 0.5px,#ff7100 22.5px,#ffe300 45.5px,#fff900 47.5px,#faff00 48.5px,#24ff00 67.5px,#03ff00 73.5px,#00ff11 77.5px,#00ffc4 113.5px,#00ffcd 135.5px,#00ffef 140.5px,#00fffe 142.5px,#0088ff 158.5px,#00fffd 171.5px,#00ffa1 181.5px,#00ff7a 203.5px)"></i><i style="top:155px;height:1px;background:linear-gradient(90deg,#ff5000 0.5px,#ff7000 22.5px,#ffe300 45.5px,#fff900 47.5px,#faff00 48.5px,#24ff00 67.5px,#03ff00 73.5px,#00ff11 77.5px,#00ffc4 113.5px,#00ffcc 135.5px,#00ffee 140.5px,#00fffd 142.5px,#0089ff 158.5px,#00fffd 171.5px,#00ffa1 181.5px,#00ff79 203.5px)"></i><i style="top:156px;height:1px;background:linear-gradient(90deg,#ff4900 0.5px,#ff6f00 22.5px,#ffe300 45.5px,#fff900 47.5px,#faff00 48.5px,#24ff00 67.5px,#03ff00 73.5px,#00ff11 77.5px,#00ffc4 113.5px,#00ffcb 135.5px,#00ffee 140.5px,#00fffd 142.5px,#008aff 158.5px,#00f8ff 170.5px,#00fffc 171.5px,#00ffa1 181.5px,#00ff79 203.5px)"></i><i style="top:157px;height:1px;background:linear-gradient(90deg,#ff4100 0.5px,#ff7300 23.5px,#ffe300 45.5px,#fff900 47.5px,#faff00 48.5px,#24ff00 67.5px,#03ff00 73.5px,#00ff11 77.5px,#00ffc3 113.5px,#00ffcb 135.5px,#00ffed 140.5px,#00fffc 142.5px,#00d5ff 148.5px,#008bff 158.5px,#00f9ff 170.5px,#00fffc 171.5px,#00ffa1 181.5px,#00ff78 203.5px)"></i><i style="top:158px;height:1px;background:linear-gradient(90deg,#ff3a00 0.5px,#ff7200 23.5px,#ffe300 45.5px,#fff900 47.5px,#faff00 48.5px,#24ff00 67.5px,#03ff00 73.5px,#00ff11 77.5px,#00ffc3 113.5px,#00ffca 135.5px,#00ffec 140.5px,#00fffb 142.5px,#00ecff 145.5px,#008bff 158.5px,#00f9ff 170.5px,#00fffc 171.5px,#00ffa1 181.5px,#00ff77 203.5px)"></i><i style="top:159px;height:1px;background:linear-gradient(90deg,#ff3300 0.5px,#ff7100 23.5px,#ffe300 45.5px,#fff900 47.5px,#faff00 48.5px,#24ff00 67.5px,#03ff00 73.5px,#00ff11 77.5px,#00ffc2 113.5px,#00ffca 135.5px,#00ffec 140.5px,#00fcff 143.5px,#008cff 158.5px,#00faff 170.5px,#00fffb 171.5px,#00ffa1 181.5px,#00ff76 203.5px)"></i><i style="top:160px;height:1px;background:linear-gradient(90deg,#ff2c00 0.5px,#ff7000 23.5px,#ffe300 45.5px,#fff900 47.5px,#faff00 48.5px,#24ff00 67.5px,#03ff00 73.5px,#00ff11 77.5px,#00ffc2 113.5px,#00ffc9 135.5px,#00ffeb 140.5px,#00fcff 143.5px,#008dff 158.5px,#00faff 170.5px,#00fffb 171.5px,#00ffa1 181.5px,#00ff76 203.5px)"></i><i style="top:161px;height:1px;background:linear-gradient(90deg,#ff2500 0.5px,#ff6f00 23.5px,#ffe300 45.5px,#fff900 47.5px,#faff00 48.5px,#24ff00 67.5px,#03ff00 73.5px,#00ff11 77.5px,#00ffc2 113.5px,#00ffc9 135.5px,#00ffeb 140.5px,#00fdff 143.5px,#008eff 158.5px,#00faff 170.5px,#00fff1 172.5px,#00ffa1 181.5px,#00ff75 203.5px)"></i><i style="top:162px;height:1px;background:linear-gradient(90deg,#ff1d00 0.5px,#ff6e00 23.5px,#ffe300 45.5px,#fff900 47.5px,#faff00 48.5px,#24ff00 67.5px,#03ff00 73.5px,#00ff11 77.5px,#00ffc1 113.5px,#00ffc8 135.5px,#00ffea 140.5px,#00feff 143.5px,#008fff 158.5px,#00fbff 170.5px,#00fff1 172.5px,#00ffa1 181.5px,#00ff74 203.5px)"></i><i style="top:163px;height:1px;background:linear-gradient(90deg,#ff1600 0.5px,#ff6d00 23.5px,#ffe300 45.5px,#fff900 47.5px,#faff00 48.5px,#24ff00 67.5px,#03ff00 73.5px,#00ff11 77.5px,#00ffc1 113.5px,#00ffc7 135.5px,#00ffe9 140.5px,#00feff 143.5px,#008fff 158.5px,#00fbff 170.5px,#00fff1 172.5px,#00ffa1 181.5px,#00ff73 203.5px)"></i><i style="top:164px;height:1px;background:linear-gradient(90deg,#ff0f00 0.5px,#ff7200 24.5px,#ffe300 45.5px,#fff900 47.5px,#faff00 48.5px,#24ff00 67.5px,#03ff00 73.5px,#00ff11 77.5px,#00ffc1 113.5px,#00ffc7 135.5px,#00ffe9 140.5px,#00ffff 143.5px,#0090ff 158.5px,#00fbff 170.5px,#00ffe7 173.5px,#00ffa1 181.5px,#00ff72 203.5px)"></i><i style="top:165px;height:1px;background:linear-gradient(90deg,#ff0800 0.5px,#ff7100 24.5px,#ffe300 45.5px,#fff900 47.5px,#faff00 48.5px,#24ff00 67.5px,#03ff00 73.5px,#00ff11 77.5px,#00ffc0 113.5px,#00ffc6 135.5px,#00ffe8 140.5px,#00fffe 143.5px,#0091ff 158.5px,#00fcff 170.5px,#00ffde 174.5px,#00ffa1 181.5px,#00ff72 203.5px)"></i><i style="top:166px;height:1px;background:linear-gradient(90deg,#ff0102 0.5px,#ff0000 1.5px,#ff8000 27.5px,#ffe300 45.5px,#fff900 47.5px,#faff00 48.5px,#24ff00 67.5px,#03ff00 73.5px,#00ff11 77.5px,#00ffc0 113.5px,#00ffc6 135.5px,#00ffe7 140.5px,#00fffe 143.5px,#0092ff 158.5px,#00fcff 170.5px,#00ffb1 179.5px,#00ffa1 181.5px,#00ff71 203.5px)"></i><i style="top:167px;height:1px;background:linear-gradient(90deg,#fd050b 0.5px,#ff0200 6.5px,#ff7f00 27.5px,#ffe300 45.5px,#fff900 47.5px,#faff00 48.5px,#24ff00 67.5px,#03ff00 73.5px,#00ff11 77.5px,#00ffc0 113.5px,#00ffc5 135.5px,#00ffe7 140.5px,#00fffd 143.5px,#0093ff 158.5px,#00fdff 170.5px,#00ffa1 181.5px,#00ff71 203.5px)"></i><i style="top:168px;height:1px;background:linear-gradient(90deg,#fa0a14 0.5px,#ff0200 9.5px,#ff6700 23.5px,#ffe300 45.5px,#fff900 47.5px,#faff00 48.5px,#24ff00 67.5px,#03ff00 73.5px,#00ff11 77.5px,#00ffc0 113.5px,#00ffc5 135.5px,#00ffe6 140.5px,#00fffc 143.5px,#0093ff 158.5px,#00fdff 170.5px,#00ffa1 181.5px,#00ff71 203.5px)"></i><i style="top:169px;height:1px;background:linear-gradient(90deg,#f80f1e 0.5px,#ff0100 11.5px,#ff6600 23.5px,#ffe300 45.5px,#fff900 47.5px,#faff00 48.5px,#24ff00 67.5px,#03ff00 73.5px,#00ff11 77.5px,#00ffc0 113.5px,#00ffc4 135.5px,#00ffe6 140.5px,#00fffc 143.5px,#00e5ff 147.5px,#0094ff 158.5px,#00fdff 170.5px,#00ffa1 181.5px,#00ff71 203.5px)"></i><i style="top:170px;height:1px;background:linear-gradient(90deg,#f61327 0.5px,#ff0101 12.5px,#ff0500 13.5px,#ff5e00 22.5px,#ffe300 45.5px,#fff900 47.5px,#faff00 48.5px,#24ff00 67.5px,#03ff00 73.5px,#00ff11 77.5px,#00ffc0 113.5px,#00ffc4 135.5px,#00ffe5 140.5px,#00fffb 143.5px,#00f4ff 145.5px,#0095ff 158.5px,#00feff 170.5px,#00ffa1 181.5px,#00ff71 203.5px)"></i><i style="top:171px;height:1px;background:linear-gradient(90deg,#f41831 0.5px,#fe0102 13.5px,#ff0400 14.5px,#ff5d00 22.5px,#ffe300 45.5px,#fff900 47.5px,#faff00 48.5px,#24ff00 67.5px,#03ff00 73.5px,#00ff11 77.5px,#00ffc0 113.5px,#00ffc3 135.5px,#00ffe5 140.5px,#00fcff 144.5px,#0096ff 158.5px,#00feff 170.5px,#00ffa1 181.5px,#00ff71 203.5px)"></i><i style="top:172px;height:1px;background:linear-gradient(90deg,#f21c3a 0.5px,#fe0103 14.5px,#ff0400 15.5px,#ff5b00 22.5px,#ffe300 45.5px,#fff900 47.5px,#faff00 48.5px,#24ff00 67.5px,#03ff00 73.5px,#00ff11 77.5px,#00ffc0 113.5px,#00ffc3 135.5px,#00ffe4 140.5px,#00fdff 144.5px,#0097ff 158.5px,#00ffff 170.5px,#00ffa1 181.5px,#00ff71 203.5px)"></i><i style="top:173px;height:1px;background:linear-gradient(90deg,#f02143 0.5px,#ff0102 15.5px,#ff0700 16.5px,#ff5900 22.5px,#ffe300 45.5px,#fff900 47.5px,#faff00 48.5px,#24ff00 67.5px,#03ff00 73.5px,#00ff11 77.5px,#00ffc0 113.5px,#00ffc2 135.5px,#00ffe3 140.5px,#00feff 144.5px,#0098ff 158.5px,#00ffff 170.5px,#00ffa1 181.5px,#00ff71 203.5px)"></i><i style="top:174px;height:1px;background:linear-gradient(90deg,#ee264d 0.5px,#ff0001 16.5px,#ff5800 22.5px,#ffe300 45.5px,#fff900 47.5px,#faff00 48.5px,#24ff00 67.5px,#03ff00 73.5px,#00ff11 77.5px,#00ffc0 113.5px,#00ffc2 135.5px,#00ffe3 140.5px,#00feff 144.5px,#0099ff 158.5px,#00fffe 170.5px,#00ffa1 181.5px,#00ff71 203.5px)"></i><i style="top:175px;height:1px;background:linear-gradient(90deg,#ec2a56 0.5px,#fe0204 16.5px,#ff0500 17.5px,#ff5600 22.5px,#ffe300 45.5px,#fff900 47.5px,#faff00 48.5px,#24ff00 67.5px,#03ff00 73.5px,#00ff11 77.5px,#00ffc0 113.5px,#00ffc1 135.5px,#00ffe2 140.5px,#00ffff 144.5px,#009aff 158.5px,#00fffe 170.5px,#00ffa1 181.5px,#00ff71 203.5px)"></i><i style="top:176px;height:1px;background:linear-gradient(90deg,#ea2f60 0.5px,#ff0001 17.5px,#ff4300 21.5px,#ff5400 22.5px,#ffe300 45.5px,#fff900 47.5px,#faff00 48.5px,#24ff00 67.5px,#03ff00 73.5px,#00ff11 77.5px,#00ffc0 113.5px,#00ffc1 135.5px,#00ffe2 140.5px,#00ffff 144.5px,#009bff 158.5px,#00fffe 170.5px,#00ffa1 181.5px,#00ff71 203.5px)"></i><i style="top:177px;height:1px;background:linear-gradient(90deg,#e73369 0.5px,#fe0203 17.5px,#ff0800 18.5px,#ff5300 22.5px,#ffe300 45.5px,#fff900 47.5px,#faff00 48.5px,#24ff00 67.5px,#03ff00 73.5px,#00ff11 77.5px,#00ffc0 113.5px,#00ffc0 135.5px,#00ffe1 140.5px,#00fffe 144.5px,#009bff 158.5px,#00fffd 170.5px,#00ffa1 181.5px,#00ff71 203.5px)"></i><i style="top:178px;height:1px;background:linear-gradient(90deg,#e53872 0.5px,#ff0100 18.5px,#ff5100 22.5px,#ffe300 45.5px,#fff900 47.5px,#faff00 48.5px,#24ff00 67.5px,#03ff00 73.5px,#00ff11 77.5px,#00ffc0 113.5px,#00ffc0 135.5px,#00ffe1 140.5px,#00fffd 144.5px,#009cff 158.5px,#00fffd 170.5px,#00ffa1 181.5px,#00ff71 203.5px)"></i><i style="top:179px;height:1px;background:linear-gradient(90deg,#e33d7c 0.5px,#ff0102 18.5px,#ff1000 19.5px,#ff4f00 22.5px,#ffe300 45.5px,#fff900 47.5px,#faff00 48.5px,#24ff00 67.5px,#03ff00 73.5px,#00ff11 77.5px,#00ffc0 113.5px,#00ffbf 135.5px,#00ffe0 140.5px,#00fffd 144.5px,#009dff 158.5px,#00fffc 170.5px,#00ffa1 181.5px,#00ff71 203.5px)"></i><i style="top:180px;height:1px;background:linear-gradient(90deg,#e14185 0.5px,#fe0204 18.5px,#ff0a00 19.5px,#ff4d00 22.5px,#ffe300 45.5px,#fff900 47.5px,#faff00 48.5px,#24ff00 67.5px,#03ff00 73.5px,#00ff11 77.5px,#00ffc0 113.5px,#00ffbf 135.5px,#00ffdf 140.5px,#00fffc 144.5px,#00d7ff 150.5px,#009eff 158.5px,#00faff 169.5px,#00fffc 170.5px,#00ffa1 181.5px,#00ff71 203.5px)"></i><i style="top:181px;height:1px;background:linear-gradient(90deg,#df468f 0.5px,#fe0306 18.5px,#ff0500 19.5px,#ff4c00 22.5px,#ffa800 36.5px,#ffe300 45.5px,#fff900 47.5px,#faff00 48.5px,#24ff00 67.5px,#03ff00 73.5px,#00ff11 77.5px,#00ffc0 113.5px,#00ffbe 135.5px,#00ffdf 140.5px,#00fffb 144.5px,#00edff 147.5px,#009fff 158.5px,#00faff 169.5px,#00fff3 171.5px,#00ffa1 181.5px,#00ff71 203.5px)"></i><i style="top:182px;height:1px;background:linear-gradient(90deg,#dd4a98 0.5px,#ff0000 19.5px,#ff4a00 22.5px,#ff7a00 29.5px,#ffe300 45.5px,#fff900 47.5px,#faff00 48.5px,#24ff00 67.5px,#03ff00 73.5px,#00ff11 77.5px,#00ffc0 113.5px,#00ffbe 135.5px,#00ffde 140.5px,#00fcff 145.5px,#00a0ff 158.5px,#00fbff 169.5px,#00fff3 171.5px,#00ffa1 181.5px,#00ff71 203.5px)"></i><i style="top:183px;height:1px;background:linear-gradient(90deg,#db4fa1 0.5px,#ff0102 19.5px,#ff1400 20.5px,#ff4800 22.5px,#ff6c00 27.5px,#ffe300 45.5px,#fff900 47.5px,#faff00 48.5px,#24ff00 67.5px,#03ff00 73.5px,#00ff11 77.5px,#00ffc0 113.5px,#00ffbd 135.5px,#00ffde 140.5px,#00fdff 145.5px,#00a1ff 158.5px,#00fbff 169.5px,#00fff2 171.5px,#00ffa1 181.5px,#00ff71 203.5px)"></i><i style="top:184px;height:1px;background:linear-gradient(90deg,#d954ab 0.5px,#fe0204 19.5px,#ff1000 20.5px,#ff4700 22.5px,#ff6400 26.5px,#ffe300 45.5px,#fff900 47.5px,#faff00 48.5px,#24ff00 67.5px,#03ff00 73.5px,#00ff11 77.5px,#00ffc0 113.5px,#00ffbd 135.5px,#00ffdd 140.5px,#00fdff 145.5px,#00a2ff 158.5px,#00fbff 169.5px,#00ffea 172.5px,#00ffa1 181.5px,#00ff71 203.5px)"></i><i style="top:185px;height:1px;background:linear-gradient(90deg,#d758b4 0.5px,#fe0305 19.5px,#ff0c00 20.5px,#ff4500 22.5px,#ff5d00 25.5px,#ffe300 45.5px,#fff900 47.5px,#faff00 48.5px,#24ff00 67.5px,#03ff00 73.5px,#00ff11 77.5px,#00ffc0 113.5px,#00ffbc 135.5px,#00ffdd 140.5px,#00feff 145.5px,#00a2ff 158.5px,#00fcff 169.5px,#00ffd9 174.5px,#00ffa1 181.5px,#00ff71 203.5px)"></i><i style="top:186px;height:1px;background:linear-gradient(90deg,#d45dbe 0.5px,#fd0407 19.5px,#ff0800 20.5px,#ff4300 22.5px,#ff5b00 25.5px,#ffe300 45.5px,#fff900 47.5px,#faff00 48.5px,#24ff00 67.5px,#03ff00 73.5px,#00ff11 77.5px,#00ffc0 113.5px,#00ffbc 135.5px,#00ffdc 140.5px,#00ffff 145.5px,#00a3ff 158.5px,#00fcff 169.5px,#00ffa1 181.5px,#00ff71 203.5px)"></i></div>
<svg width="700" height="267" viewBox="0 0 700 267">
<path d="M155.5,80.1 154.2,82.1 154.5,85.7 155.5,89.5 161.1,88.1 164.5,86.6 167.1,84.1 167.9,82.1 162.5,80.6 155.5,80.1" fill="none" stroke="#1838b0" stroke-width="0.95" stroke-dasharray="1,2" stroke-opacity="0.85"/>
<path d="M155.5,76.8 154.5,78.0 152.6,82.1 153.5,90.1 154.5,94.1 155.5,96.1 164.5,92.3 168.4,90.1 171.7,87.1 174.0,83.1 174.3,82.1 173.5,81.5 168.5,78.9 163.5,77.6 155.5,76.8" fill="none" stroke="#b0e070" stroke-width="0.8" stroke-dasharray="3,2" stroke-opacity="0.8"/>
<path d="M155.5,73.6 153.5,76.4 150.9,82.1 152.3,93.1 154.5,100.9 155.5,102.6 158.5,100.1 168.5,94.4 173.0,91.1 177.1,86.1 178.4,82.1 177.5,80.6 175.7,79.1 170.5,76.4 164.5,74.7 155.5,73.6" fill="none" stroke="#d82010" stroke-width="0.65" stroke-opacity="0.8"/>
<path d="M155.5,70.2 152.2,75.1 149.2,82.1 149.8,89.1 151.2,97.1 153.3,105.1 154.5,107.8 155.5,109.0 161.9,103.1 172.5,95.7 177.5,91.2 179.4,87.1 180.7,82.1 177.5,76.4 174.5,74.7 166.5,72.0 155.5,70.2" fill="none" stroke="#30b030" stroke-width="0.9" stroke-dasharray="1,2" stroke-opacity="0.8"/>
<path d="M155.5,66.7 154.5,67.6 151.2,73.1 147.5,82.1 148.3,92.1 150.6,105.1 154.5,113.9 155.5,115.2 159.5,111.8 167.0,104.1 177.5,95.5 181.0,89.1 183.0,82.1 180.0,76.1 177.5,72.3 168.5,69.1 155.5,66.7" fill="none" stroke="#f0a000" stroke-width="0.8" stroke-dasharray="3,2" stroke-opacity="0.8"/>
<path d="M155.5,62.9 152.9,66.1 149.5,72.2 146.7,79.1 145.8,83.1 146.4,93.1 148.0,105.1 154.5,120.4 155.5,121.7 159.5,119.3 163.2,116.1 171.6,105.1 178.5,98.5 183.0,90.1 185.3,82.1 181.9,75.1 177.5,67.9 168.5,65.2 155.5,62.9" fill="none" stroke="#400070" stroke-width="0.95" stroke-dasharray="1,2" stroke-opacity="0.8"/>
<path d="M155.5,58.5 151.5,64.0 148.2,70.1 145.5,77.1 144.0,83.1 145.3,105.1 152.5,122.3 155.5,128.3 160.5,126.8 164.5,124.7 167.5,122.3 170.2,119.1 173.0,114.1 176.3,106.1 179.9,101.1 183.7,94.1 186.1,88.1 187.7,82.1 184.0,74.1 177.5,62.7 170.5,61.0 157.4,59.1 155.5,58.5" fill="none" stroke="#f0e040" stroke-width="0.8" stroke-dasharray="3,2" stroke-opacity="0.8"/>
<path d="M153.4,12.1 151.8,58.1 145.8,70.1 142.2,82.1 142.6,105.1 152.6,129.1 155.5,138.2 160.5,138.5 166.5,138.0 171.5,137.0 174.5,135.9 177.5,133.5 179.0,114.1 180.3,106.1 186.8,93.1 190.1,82.1 186.6,74.1 179.0,59.1 177.5,52.0 174.4,49.1 171.2,45.1 166.3,36.1 166.8,25.1 168.6,12.1" fill="none" stroke="#707070" stroke-width="0.6" stroke-opacity="0.8"/>
<path d="M149.9,12.1 148.4,58.1 143.5,69.8 140.4,82.1 139.9,105.1 149.8,129.1 155.5,148.5 161.6,152.1 162.1,153.1 172.8,180.1 177.5,196.0 180.5,129.1 181.8,116.1 183.8,106.1 189.5,93.3 192.7,82.1 182.1,59.1 181.0,54.1 178.2,35.1 179.4,12.1" fill="none" stroke="#1838b0" stroke-width="0.95" stroke-dasharray="1,2" stroke-opacity="0.85"/>
<path d="M146.5,12.1 146.1,35.1 145.0,58.1 141.2,69.1 138.9,80.1 137.2,105.1 140.2,113.1 147.1,129.1 153.3,152.1 154.3,176.1 155.5,187.0 161.0,199.1 164.8,222.1M180.1,222.1 183.0,128.1 184.6,117.1 186.4,109.1 192.4,93.1 195.4,82.1 185.2,59.1 182.9,49.1 180.7,35.1 181.9,12.1" fill="none" stroke="#b0e070" stroke-width="0.8" stroke-dasharray="3,2" stroke-opacity="0.8"/>
<path d="M143.1,12.1 142.7,35.1 141.6,58.1 139.2,67.1 137.5,76.1 134.5,105.1 137.8,114.1 144.6,129.1 150.6,152.1 151.1,176.1 152.8,199.1 153.5,222.1M183.0,222.1 185.4,129.1 188.6,113.1 195.1,94.1 198.1,82.1 188.3,59.1 184.4,43.1 183.0,35.1 184.3,12.1" fill="none" stroke="#d82010" stroke-width="0.65" stroke-opacity="0.8"/>
<path d="M139.6,12.1 139.4,35.1 138.2,58.1 135.9,71.1 132.7,99.1 131.1,105.1 142.1,129.1 145.6,141.1 148.2,152.1 148.2,181.1 149.3,199.1 149.9,222.1M186.0,222.1 187.8,129.1 191.1,115.1 198.2,94.1 200.7,82.1 191.0,58.1 188.4,49.1 185.8,38.1 185.3,35.1 186.8,12.1" fill="none" stroke="#30b030" stroke-width="0.9" stroke-dasharray="1,2" stroke-opacity="0.8"/>
<path d="M136.2,12.1 136.1,36.1 132.8,82.1 132.5,84.8 128.1,96.1 125.8,105.1 128.4,110.1 132.5,114.9 139.6,129.1 143.5,141.1 145.9,152.1 146.0,161.1 145.1,184.1 146.2,222.1M188.9,222.1 190.3,129.1 193.5,117.1 198.3,105.1 200.5,97.4 202.1,82.1 200.5,73.5 192.7,54.1 187.8,36.1 189.2,12.1" fill="none" stroke="#f0a000" stroke-width="0.8" stroke-dasharray="3,2" stroke-opacity="0.8"/>
<path d="M132.8,12.1 132.5,39.7 128.7,59.1 125.6,82.1 122.8,92.1 120.6,105.1 121.9,109.1 124.5,113.7 127.5,117.2 132.5,121.0 137.0,129.1 141.1,140.1 143.5,150.1 143.9,153.1 143.9,161.1 141.9,187.1 142.5,222.1M191.8,222.1 192.7,129.1 196.1,118.1 201.0,106.1 203.6,82.1 200.5,66.1 194.5,51.1 190.1,36.1 191.7,12.1" fill="none" stroke="#400070" stroke-width="0.95" stroke-dasharray="1,2" stroke-opacity="0.8"/>
<path d="M119.7,12.1 120.6,35.1 118.5,58.1 115.3,105.1 117.5,113.7 120.5,119.3 124.5,122.7 132.5,126.2 134.3,129.1 138.9,140.1 141.4,149.1 142.0,153.1 141.8,161.1 138.6,188.1 138.8,222.1M194.8,222.1 195.2,129.1 197.5,121.8 200.5,114.6 202.8,106.1 205.0,82.1 200.5,58.8 196.1,48.1 192.5,36.1 194.1,12.1" fill="none" stroke="#f0e040" stroke-width="0.8" stroke-dasharray="3,2" stroke-opacity="0.8"/>
<path d="M103.3,12.1 106.5,35.1 107.8,82.1 109.5,95.8 110.8,114.1 112.1,122.1 114.2,127.1 117.5,129.9 120.5,130.4 127.5,130.2 132.5,131.5 137.5,142.3 139.9,152.1 139.5,163.1 136.3,180.1 135.3,188.1 135.1,222.1M197.7,222.1 197.7,129.1 201.8,117.1 204.6,106.1 206.4,82.1 201.4,56.1 194.6,35.1 196.5,12.1" fill="none" stroke="#707070" stroke-width="0.6" stroke-opacity="0.8"/>
<path d="M84.0,12.1 87.5,43.7 90.0,59.1 92.7,70.1 94.9,82.1 99.5,98.2 104.3,122.1 107.8,148.1 108.8,175.1 109.5,180.2 110.5,182.7 117.2,186.1 120.5,188.4 123.1,192.1 126.0,198.1 126.3,199.1 125.5,207.1 125.3,222.1M127.2,137.1 129.5,136.7 132.5,137.1 136.5,146.0 138.0,154.1 137.1,164.1 132.5,182.8 127.5,184.1 125.5,183.9 124.0,183.1 122.5,181.4 121.5,179.5 117.4,168.1 116.2,158.1 116.7,152.1 119.2,145.1 122.7,140.1 125.1,138.1 127.2,137.1M200.8,222.1 200.1,129.1 203.8,118.1 206.4,106.1 207.8,82.1 203.5,58.1 200.5,46.2 196.8,35.1 198.9,12.1" fill="none" stroke="#1838b0" stroke-width="0.95" stroke-dasharray="1,2" stroke-opacity="0.85"/>
<path d="M72.5,12.1 76.0,34.1 79.4,59.1 84.0,82.1 87.5,93.6 95.8,117.1 100.8,136.1 102.8,146.1 103.7,152.1 104.5,176.1 108.1,199.1 108.0,222.1M128.7,143.1 130.5,142.6 132.5,142.8 134.5,147.4 135.7,152.1 135.2,161.1 132.5,170.5 129.5,170.2 126.5,167.7 124.5,164.1 123.1,159.1 122.8,154.1 123.6,150.1 125.5,146.0 128.7,143.1M205.2,222.1 204.9,199.1 203.1,152.1 202.9,129.1 206.0,118.1 208.2,106.1 209.3,82.1 205.3,59.1 199.0,35.1 201.2,12.1" fill="none" stroke="#b0e070" stroke-width="0.8" stroke-dasharray="3,2" stroke-opacity="0.8"/>
<path d="M268.3,12.1 268.5,16.3M64.5,28.0 70.0,59.1 76.1,82.1 83.2,105.1 89.0,119.1 95.6,137.1 99.5,152.0 100.0,175.1 103.8,199.1 103.6,222.1M130.0,151.1 131.5,150.3 132.5,150.5 133.0,154.1 132.5,159.7 131.5,159.9 130.5,159.4 129.2,157.1 128.9,153.1 130.0,151.1M209.7,222.1 209.1,199.1 207.4,177.1 206.3,153.1 205.7,129.1 208.2,118.1 210.0,106.1 210.7,82.1 206.9,59.1 201.0,35.1 203.1,12.1" fill="none" stroke="#d82010" stroke-width="0.65" stroke-opacity="0.8"/>
<path d="M265.2,12.1 266.8,35.1 268.5,103.4M64.5,70.0 75.9,105.1 81.5,116.8 86.2,129.1 91.1,139.1 95.4,152.1 95.8,175.1 99.5,199.1 99.1,222.1M268.5,145.2 264.9,176.1 263.8,199.1 263.4,222.1M214.2,222.1 213.3,199.1 210.6,175.1 208.5,129.1 210.4,118.1 211.7,106.1 212.1,82.1 208.4,59.1 202.7,35.1 205.0,12.1" fill="none" stroke="#30b030" stroke-width="0.9" stroke-dasharray="1,2" stroke-opacity="0.8"/>
<path d="M262.2,12.1 264.3,36.1 264.9,82.1 264.5,106.1 265.3,129.1 256.4,199.1 255.5,222.1M64.5,93.6 68.5,105.1 75.2,117.1 80.6,129.1 85.3,137.1 91.3,152.1 91.5,175.2 95.2,199.1 94.6,222.1M218.7,222.1 217.5,199.1 214.0,175.1 211.4,129.1 213.5,106.1 213.5,82.1 210.0,59.1 204.3,35.1 206.9,12.1" fill="none" stroke="#f0a000" stroke-width="0.8" stroke-dasharray="3,2" stroke-opacity="0.8"/>
<path d="M259.2,12.1 261.7,35.1 261.9,59.1 261.8,82.1 259.5,127.1 257.2,152.1 255.9,161.1 252.3,184.1 249.1,199.1 247.6,222.1M64.5,110.1 70.0,119.1 75.2,129.1 78.5,133.3 81.5,138.3 84.5,144.6 87.3,152.1 87.4,176.1 90.9,199.1 90.1,222.1M223.5,222.1 221.7,199.1 217.3,175.1 214.9,141.1 214.2,129.1 215.3,106.1 215.0,82.1 211.5,59.1 205.9,35.1 208.8,12.1" fill="none" stroke="#400070" stroke-width="0.95" stroke-dasharray="1,2" stroke-opacity="0.8"/>
<path d="M256.2,12.1 259.2,36.1 258.8,82.1 253.5,129.1 252.1,152.1 248.3,175.1 245.5,185.7 235.5,187.5 223.5,188.3 222.5,185.3 220.6,175.1 217.1,131.1 217.1,105.1 216.4,82.1 213.3,60.1 207.4,35.1 208.4,25.1 210.6,12.1M64.5,120.4 69.8,129.1 74.4,134.1 77.9,139.1 81.1,145.1 84.0,152.1 84.4,189.1 85.3,199.1 81.5,212.1 79.1,217.1 75.8,222.1" fill="none" stroke="#f0e040" stroke-width="0.8" stroke-dasharray="3,2" stroke-opacity="0.8"/>
<path d="M253.2,12.1 256.7,36.1 255.8,82.1 250.9,115.1 248.1,129.1 247.1,152.1 246.5,155.8 245.5,159.8 238.5,164.1 233.5,166.1 223.5,167.9 222.5,160.8 219.7,129.1 217.5,79.1 214.6,59.1 208.9,35.1 210.0,25.1 212.4,12.1M64.5,129.3 69.5,133.7 74.0,139.1 77.7,145.1 80.9,152.1 81.4,172.1 80.5,183.1 79.4,188.1 77.9,192.1 75.5,195.8 71.1,199.1 64.5,206.6" fill="none" stroke="#707070" stroke-width="0.6" stroke-opacity="0.8"/>
<path d="M250.3,12.1 252.8,25.1 254.3,36.1 253.9,59.1 252.6,84.1 250.1,98.1 245.5,119.8 239.2,129.1 236.5,135.1 234.5,137.3 231.5,138.4 223.5,137.3 222.6,131.1 221.1,115.1 219.2,82.1 217.7,69.1 216.1,59.1 210.3,35.1 211.5,25.1 214.3,12.1M64.5,133.7 68.5,137.3 72.5,142.1 78.0,152.1 78.7,171.1 78.7,175.1 78.0,179.1 76.6,184.1 74.8,188.1 72.8,191.1 70.5,193.4 67.5,195.3 64.5,196.5" fill="none" stroke="#1838b0" stroke-width="0.95" stroke-dasharray="1,2" stroke-opacity="0.85"/>
<path d="M247.4,12.1 250.3,25.1 251.9,36.1 251.3,59.1 250.0,82.1 247.3,96.1 245.5,103.0 237.5,115.7 235.5,117.5 232.5,118.7 230.5,118.5 223.5,116.4 223.3,115.1 222.4,108.1 220.4,80.1 218.7,65.1 217.4,58.1 213.1,42.1 211.8,35.1 213.0,25.1 216.1,12.1M64.5,137.8 70.5,144.2 75.3,152.1 76.2,170.1 76.0,176.1 73.0,184.1 69.5,189.0 64.5,192.4" fill="none" stroke="#b0e070" stroke-width="0.8" stroke-dasharray="3,2" stroke-opacity="0.8"/>
<path d="M243.0,12.1 245.5,15.8 246.5,18.9 249.7,35.1 248.7,59.1 247.2,82.1 245.5,89.7 237.5,100.5 234.5,102.7 232.5,103.1 229.5,102.1 223.5,98.7 219.7,62.1 213.2,36.1 214.3,26.1 217.9,12.1M64.5,141.8 68.6,146.1 72.6,152.1 73.5,160.1 73.9,169.1 73.7,175.1 71.9,180.1 68.6,185.1 64.5,188.5" fill="none" stroke="#d82010" stroke-width="0.65" stroke-opacity="0.8"/>
<path d="M236.8,12.1 241.5,18.2 245.5,25.1 247.5,35.1 247.4,40.1 245.5,65.5 240.4,82.1 236.5,86.6 233.5,87.7 230.5,86.5 223.5,80.9 220.7,59.1 214.6,36.1 215.8,26.1 219.8,12.1M64.5,145.7 69.8,152.1 71.0,160.1 71.4,169.1 71.0,176.1 68.1,181.1 64.5,184.6" fill="none" stroke="#30b030" stroke-width="0.9" stroke-dasharray="1,2" stroke-opacity="0.8"/>
<path d="M230.2,12.1 235.5,16.9 239.5,22.1 243.1,29.1 245.2,36.1 243.3,47.1 239.1,58.1 236.5,62.4 234.5,64.6 232.5,65.7 230.5,66.0 223.5,65.3 221.5,56.1 217.5,42.7 216.0,36.1 216.2,32.1 217.3,26.1 221.6,12.1M64.5,149.6 66.8,152.1 67.1,153.1 68.4,161.1 68.9,169.1 68.3,176.1 64.5,180.8" fill="none" stroke="#f0a000" stroke-width="0.8" stroke-dasharray="3,2" stroke-opacity="0.8"/>
<path d="M223.0,14.1 223.5,13.2 228.5,16.0 232.5,19.1 235.3,22.1 239.5,29.1 241.5,36.1 240.6,41.1 239.4,45.1 237.5,49.0 235.5,52.0 233.5,53.9 230.5,55.6 223.5,56.7 219.0,43.1 217.3,35.1 219.1,25.1 223.0,14.1M64.5,156.9 65.6,163.1 65.9,169.1 65.7,175.1 64.5,176.9" fill="none" stroke="#400070" stroke-width="0.95" stroke-dasharray="1,2" stroke-opacity="0.8"/>
<path d="M222.9,19.1 223.5,18.1 226.5,19.4 229.5,21.2 232.5,23.9 236.0,29.1 238.1,35.1 237.8,38.1 236.5,42.1 233.5,47.0 229.5,49.9 223.5,51.4 220.5,43.1 218.7,35.1 220.0,27.1 222.9,19.1" fill="none" stroke="#f0e040" stroke-width="0.8" stroke-dasharray="3,2" stroke-opacity="0.8"/>
<path d="M223.2,23.1 223.5,22.6 226.5,23.8 230.5,26.8 232.9,30.1 234.8,35.1 233.9,39.1 231.4,43.1 227.5,45.8 223.5,46.7 221.5,41.6 220.1,35.1 221.3,28.1 223.2,23.1" fill="none" stroke="#707070" stroke-width="0.6" stroke-opacity="0.8"/>
<path d="M223.1,28.1 223.5,27.3 227.5,29.4 229.7,32.1 231.0,35.1 230.4,37.1 228.5,39.8 226.5,41.2 223.5,42.0 222.5,39.7 221.6,35.1 222.4,30.1 223.1,28.1" fill="none" stroke="#1838b0" stroke-width="0.95" stroke-dasharray="1,2" stroke-opacity="0.85"/>
<line x1="64.5" y1="12.1" x2="64.5" y2="222.3" stroke="#c02010" stroke-width="1.0" stroke-opacity="0.6"/>
<line x1="87.17" y1="12.1" x2="87.17" y2="222.3" stroke="#c02010" stroke-width="1.0" stroke-opacity="0.6"/>
<line x1="109.83" y1="12.1" x2="109.83" y2="222.3" stroke="#c02010" stroke-width="1.0" stroke-opacity="0.6"/>
<line x1="132.5" y1="12.1" x2="132.5" y2="222.3" stroke="#c02010" stroke-width="1.0" stroke-opacity="0.6"/>
<line x1="155.17" y1="12.1" x2="155.17" y2="222.3" stroke="#c02010" stroke-width="1.0" stroke-opacity="0.6"/>
<line x1="177.83" y1="12.1" x2="177.83" y2="222.3" stroke="#c02010" stroke-width="1.0" stroke-opacity="0.6"/>
<line x1="200.5" y1="12.1" x2="200.5" y2="222.3" stroke="#c02010" stroke-width="1.0" stroke-opacity="0.6"/>
<line x1="223.17" y1="12.1" x2="223.17" y2="222.3" stroke="#c02010" stroke-width="1.0" stroke-opacity="0.6"/>
<line x1="245.83" y1="12.1" x2="245.83" y2="222.3" stroke="#c02010" stroke-width="1.0" stroke-opacity="0.6"/>
<line x1="268.5" y1="12.1" x2="268.5" y2="222.3" stroke="#c02010" stroke-width="1.0" stroke-opacity="0.6"/>
<line x1="64.5" y1="12.1" x2="268.5" y2="12.1" stroke="#c02010" stroke-width="1.0" stroke-opacity="0.6"/>
<line x1="64.5" y1="35.46" x2="268.5" y2="35.46" stroke="#c02010" stroke-width="1.0" stroke-opacity="0.6"/>
<line x1="64.5" y1="58.81" x2="268.5" y2="58.81" stroke="#c02010" stroke-width="1.0" stroke-opacity="0.6"/>
<line x1="64.5" y1="82.17" x2="268.5" y2="82.17" stroke="#c02010" stroke-width="1.0" stroke-opacity="0.6"/>
<line x1="64.5" y1="105.52" x2="268.5" y2="105.52" stroke="#c02010" stroke-width="1.0" stroke-opacity="0.6"/>
<line x1="64.5" y1="128.88" x2="268.5" y2="128.88" stroke="#c02010" stroke-width="1.0" stroke-opacity="0.6"/>
<line x1="64.5" y1="152.23" x2="268.5" y2="152.23" stroke="#c02010" stroke-width="1.0" stroke-opacity="0.6"/>
<line x1="64.5" y1="175.59" x2="268.5" y2="175.59" stroke="#c02010" stroke-width="1.0" stroke-opacity="0.6"/>
<line x1="64.5" y1="198.94" x2="268.5" y2="198.94" stroke="#c02010" stroke-width="1.0" stroke-opacity="0.6"/>
<line x1="64.5" y1="222.3" x2="268.5" y2="222.3" stroke="#c02010" stroke-width="1.0" stroke-opacity="0.6"/>
<rect x="51.9" y="5.4" width="233.6" height="220.3" fill="none" stroke="#6a6a6a" stroke-width="1.15"/>
<line x1="51.9" y1="225.7" x2="51.9" y2="222.9" stroke="#555" stroke-width="0.8"/>
<line x1="51.9" y1="5.4" x2="51.9" y2="8.2" stroke="#555" stroke-width="0.8"/>
<line x1="57.09" y1="225.7" x2="57.09" y2="222.9" stroke="#555" stroke-width="0.8"/>
<line x1="57.09" y1="5.4" x2="57.09" y2="8.2" stroke="#555" stroke-width="0.8"/>
<line x1="62.28" y1="225.7" x2="62.28" y2="222.9" stroke="#555" stroke-width="0.8"/>
<line x1="62.28" y1="5.4" x2="62.28" y2="8.2" stroke="#555" stroke-width="0.8"/>
<line x1="67.47" y1="225.7" x2="67.47" y2="222.9" stroke="#555" stroke-width="0.8"/>
<line x1="67.47" y1="5.4" x2="67.47" y2="8.2" stroke="#555" stroke-width="0.8"/>
<line x1="72.66" y1="225.7" x2="72.66" y2="222.9" stroke="#555" stroke-width="0.8"/>
<line x1="72.66" y1="5.4" x2="72.66" y2="8.2" stroke="#555" stroke-width="0.8"/>
<line x1="77.86" y1="225.7" x2="77.86" y2="222.9" stroke="#555" stroke-width="0.8"/>
<line x1="77.86" y1="5.4" x2="77.86" y2="8.2" stroke="#555" stroke-width="0.8"/>
<line x1="83.05" y1="225.7" x2="83.05" y2="222.9" stroke="#555" stroke-width="0.8"/>
<line x1="83.05" y1="5.4" x2="83.05" y2="8.2" stroke="#555" stroke-width="0.8"/>
<line x1="88.24" y1="225.7" x2="88.24" y2="222.9" stroke="#555" stroke-width="0.8"/>
<line x1="88.24" y1="5.4" x2="88.24" y2="8.2" stroke="#555" stroke-width="0.8"/>
<line x1="93.43" y1="225.7" x2="93.43" y2="222.9" stroke="#555" stroke-width="0.8"/>
<line x1="93.43" y1="5.4" x2="93.43" y2="8.2" stroke="#555" stroke-width="0.8"/>
<line x1="98.62" y1="225.7" x2="98.62" y2="222.9" stroke="#555" stroke-width="0.8"/>
<line x1="98.62" y1="5.4" x2="98.62" y2="8.2" stroke="#555" stroke-width="0.8"/>
<line x1="103.81" y1="225.7" x2="103.81" y2="222.9" stroke="#555" stroke-width="0.8"/>
<line x1="103.81" y1="5.4" x2="103.81" y2="8.2" stroke="#555" stroke-width="0.8"/>
<line x1="109" y1="225.7" x2="109" y2="222.9" stroke="#555" stroke-width="0.8"/>
<line x1="109" y1="5.4" x2="109" y2="8.2" stroke="#555" stroke-width="0.8"/>
<line x1="114.19" y1="225.7" x2="114.19" y2="222.9" stroke="#555" stroke-width="0.8"/>
<line x1="114.19" y1="5.4" x2="114.19" y2="8.2" stroke="#555" stroke-width="0.8"/>
<line x1="119.38" y1="225.7" x2="119.38" y2="222.9" stroke="#555" stroke-width="0.8"/>
<line x1="119.38" y1="5.4" x2="119.38" y2="8.2" stroke="#555" stroke-width="0.8"/>
<line x1="124.58" y1="225.7" x2="124.58" y2="222.9" stroke="#555" stroke-width="0.8"/>
<line x1="124.58" y1="5.4" x2="124.58" y2="8.2" stroke="#555" stroke-width="0.8"/>
<line x1="129.77" y1="225.7" x2="129.77" y2="222.9" stroke="#555" stroke-width="0.8"/>
<line x1="129.77" y1="5.4" x2="129.77" y2="8.2" stroke="#555" stroke-width="0.8"/>
<line x1="134.96" y1="225.7" x2="134.96" y2="222.9" stroke="#555" stroke-width="0.8"/>
<line x1="134.96" y1="5.4" x2="134.96" y2="8.2" stroke="#555" stroke-width="0.8"/>
<line x1="140.15" y1="225.7" x2="140.15" y2="222.9" stroke="#555" stroke-width="0.8"/>
<line x1="140.15" y1="5.4" x2="140.15" y2="8.2" stroke="#555" stroke-width="0.8"/>
<line x1="145.34" y1="225.7" x2="145.34" y2="222.9" stroke="#555" stroke-width="0.8"/>
<line x1="145.34" y1="5.4" x2="145.34" y2="8.2" stroke="#555" stroke-width="0.8"/>
<line x1="150.53" y1="225.7" x2="150.53" y2="222.9" stroke="#555" stroke-width="0.8"/>
<line x1="150.53" y1="5.4" x2="150.53" y2="8.2" stroke="#555" stroke-width="0.8"/>
<line x1="155.72" y1="225.7" x2="155.72" y2="222.9" stroke="#555" stroke-width="0.8"/>
<line x1="155.72" y1="5.4" x2="155.72" y2="8.2" stroke="#555" stroke-width="0.8"/>
<line x1="160.91" y1="225.7" x2="160.91" y2="222.9" stroke="#555" stroke-width="0.8"/>
<line x1="160.91" y1="5.4" x2="160.91" y2="8.2" stroke="#555" stroke-width="0.8"/>
<line x1="166.1" y1="225.7" x2="166.1" y2="222.9" stroke="#555" stroke-width="0.8"/>
<line x1="166.1" y1="5.4" x2="166.1" y2="8.2" stroke="#555" stroke-width="0.8"/>
<line x1="171.3" y1="225.7" x2="171.3" y2="222.9" stroke="#555" stroke-width="0.8"/>
<line x1="171.3" y1="5.4" x2="171.3" y2="8.2" stroke="#555" stroke-width="0.8"/>
<line x1="176.49" y1="225.7" x2="176.49" y2="222.9" stroke="#555" stroke-width="0.8"/>
<line x1="176.49" y1="5.4" x2="176.49" y2="8.2" stroke="#555" stroke-width="0.8"/>
<line x1="181.68" y1="225.7" x2="181.68" y2="222.9" stroke="#555" stroke-width="0.8"/>
<line x1="181.68" y1="5.4" x2="181.68" y2="8.2" stroke="#555" stroke-width="0.8"/>
<line x1="186.87" y1="225.7" x2="186.87" y2="222.9" stroke="#555" stroke-width="0.8"/>
<line x1="186.87" y1="5.4" x2="186.87" y2="8.2" stroke="#555" stroke-width="0.8"/>
<line x1="192.06" y1="225.7" x2="192.06" y2="222.9" stroke="#555" stroke-width="0.8"/>
<line x1="192.06" y1="5.4" x2="192.06" y2="8.2" stroke="#555" stroke-width="0.8"/>
<line x1="197.25" y1="225.7" x2="197.25" y2="222.9" stroke="#555" stroke-width="0.8"/>
<line x1="197.25" y1="5.4" x2="197.25" y2="8.2" stroke="#555" stroke-width="0.8"/>
<line x1="202.44" y1="225.7" x2="202.44" y2="222.9" stroke="#555" stroke-width="0.8"/>
<line x1="202.44" y1="5.4" x2="202.44" y2="8.2" stroke="#555" stroke-width="0.8"/>
<line x1="207.63" y1="225.7" x2="207.63" y2="222.9" stroke="#555" stroke-width="0.8"/>
<line x1="207.63" y1="5.4" x2="207.63" y2="8.2" stroke="#555" stroke-width="0.8"/>
<line x1="212.82" y1="225.7" x2="212.82" y2="222.9" stroke="#555" stroke-width="0.8"/>
<line x1="212.82" y1="5.4" x2="212.82" y2="8.2" stroke="#555" stroke-width="0.8"/>
<line x1="218.02" y1="225.7" x2="218.02" y2="222.9" stroke="#555" stroke-width="0.8"/>
<line x1="218.02" y1="5.4" x2="218.02" y2="8.2" stroke="#555" stroke-width="0.8"/>
<line x1="223.21" y1="225.7" x2="223.21" y2="222.9" stroke="#555" stroke-width="0.8"/>
<line x1="223.21" y1="5.4" x2="223.21" y2="8.2" stroke="#555" stroke-width="0.8"/>
<line x1="228.4" y1="225.7" x2="228.4" y2="222.9" stroke="#555" stroke-width="0.8"/>
<line x1="228.4" y1="5.4" x2="228.4" y2="8.2" stroke="#555" stroke-width="0.8"/>
<line x1="233.59" y1="225.7" x2="233.59" y2="222.9" stroke="#555" stroke-width="0.8"/>
<line x1="233.59" y1="5.4" x2="233.59" y2="8.2" stroke="#555" stroke-width="0.8"/>
<line x1="238.78" y1="225.7" x2="238.78" y2="222.9" stroke="#555" stroke-width="0.8"/>
<line x1="238.78" y1="5.4" x2="238.78" y2="8.2" stroke="#555" stroke-width="0.8"/>
<line x1="243.97" y1="225.7" x2="243.97" y2="222.9" stroke="#555" stroke-width="0.8"/>
<line x1="243.97" y1="5.4" x2="243.97" y2="8.2" stroke="#555" stroke-width="0.8"/>
<line x1="249.16" y1="225.7" x2="249.16" y2="222.9" stroke="#555" stroke-width="0.8"/>
<line x1="249.16" y1="5.4" x2="249.16" y2="8.2" stroke="#555" stroke-width="0.8"/>
<line x1="254.35" y1="225.7" x2="254.35" y2="222.9" stroke="#555" stroke-width="0.8"/>
<line x1="254.35" y1="5.4" x2="254.35" y2="8.2" stroke="#555" stroke-width="0.8"/>
<line x1="259.54" y1="225.7" x2="259.54" y2="222.9" stroke="#555" stroke-width="0.8"/>
<line x1="259.54" y1="5.4" x2="259.54" y2="8.2" stroke="#555" stroke-width="0.8"/>
<line x1="264.74" y1="225.7" x2="264.74" y2="222.9" stroke="#555" stroke-width="0.8"/>
<line x1="264.74" y1="5.4" x2="264.74" y2="8.2" stroke="#555" stroke-width="0.8"/>
<line x1="269.93" y1="225.7" x2="269.93" y2="222.9" stroke="#555" stroke-width="0.8"/>
<line x1="269.93" y1="5.4" x2="269.93" y2="8.2" stroke="#555" stroke-width="0.8"/>
<line x1="275.12" y1="225.7" x2="275.12" y2="222.9" stroke="#555" stroke-width="0.8"/>
<line x1="275.12" y1="5.4" x2="275.12" y2="8.2" stroke="#555" stroke-width="0.8"/>
<line x1="280.31" y1="225.7" x2="280.31" y2="222.9" stroke="#555" stroke-width="0.8"/>
<line x1="280.31" y1="5.4" x2="280.31" y2="8.2" stroke="#555" stroke-width="0.8"/>
<line x1="285.5" y1="225.7" x2="285.5" y2="222.9" stroke="#555" stroke-width="0.8"/>
<line x1="285.5" y1="5.4" x2="285.5" y2="8.2" stroke="#555" stroke-width="0.8"/>
<line x1="51.9" y1="225.7" x2="51.9" y2="220.2" stroke="#444" stroke-width="0.9"/>
<line x1="51.9" y1="5.4" x2="51.9" y2="10.9" stroke="#444" stroke-width="0.9"/>
<line x1="77.86" y1="225.7" x2="77.86" y2="220.2" stroke="#444" stroke-width="0.9"/>
<line x1="77.86" y1="5.4" x2="77.86" y2="10.9" stroke="#444" stroke-width="0.9"/>
<line x1="103.81" y1="225.7" x2="103.81" y2="220.2" stroke="#444" stroke-width="0.9"/>
<line x1="103.81" y1="5.4" x2="103.81" y2="10.9" stroke="#444" stroke-width="0.9"/>
<line x1="129.77" y1="225.7" x2="129.77" y2="220.2" stroke="#444" stroke-width="0.9"/>
<line x1="129.77" y1="5.4" x2="129.77" y2="10.9" stroke="#444" stroke-width="0.9"/>
<line x1="155.72" y1="225.7" x2="155.72" y2="220.2" stroke="#444" stroke-width="0.9"/>
<line x1="155.72" y1="5.4" x2="155.72" y2="10.9" stroke="#444" stroke-width="0.9"/>
<line x1="181.68" y1="225.7" x2="181.68" y2="220.2" stroke="#444" stroke-width="0.9"/>
<line x1="181.68" y1="5.4" x2="181.68" y2="10.9" stroke="#444" stroke-width="0.9"/>
<line x1="207.63" y1="225.7" x2="207.63" y2="220.2" stroke="#444" stroke-width="0.9"/>
<line x1="207.63" y1="5.4" x2="207.63" y2="10.9" stroke="#444" stroke-width="0.9"/>
<line x1="233.59" y1="225.7" x2="233.59" y2="220.2" stroke="#444" stroke-width="0.9"/>
<line x1="233.59" y1="5.4" x2="233.59" y2="10.9" stroke="#444" stroke-width="0.9"/>
<line x1="259.54" y1="225.7" x2="259.54" y2="220.2" stroke="#444" stroke-width="0.9"/>
<line x1="259.54" y1="5.4" x2="259.54" y2="10.9" stroke="#444" stroke-width="0.9"/>
<line x1="285.5" y1="225.7" x2="285.5" y2="220.2" stroke="#444" stroke-width="0.9"/>
<line x1="285.5" y1="5.4" x2="285.5" y2="10.9" stroke="#444" stroke-width="0.9"/>
<line x1="51.9" y1="225.7" x2="54.7" y2="225.7" stroke="#555" stroke-width="0.8"/>
<line x1="285.5" y1="225.7" x2="282.7" y2="225.7" stroke="#555" stroke-width="0.8"/>
<line x1="51.9" y1="220.19" x2="54.7" y2="220.19" stroke="#555" stroke-width="0.8"/>
<line x1="285.5" y1="220.19" x2="282.7" y2="220.19" stroke="#555" stroke-width="0.8"/>
<line x1="51.9" y1="214.69" x2="54.7" y2="214.69" stroke="#555" stroke-width="0.8"/>
<line x1="285.5" y1="214.69" x2="282.7" y2="214.69" stroke="#555" stroke-width="0.8"/>
<line x1="51.9" y1="209.18" x2="54.7" y2="209.18" stroke="#555" stroke-width="0.8"/>
<line x1="285.5" y1="209.18" x2="282.7" y2="209.18" stroke="#555" stroke-width="0.8"/>
<line x1="51.9" y1="203.67" x2="54.7" y2="203.67" stroke="#555" stroke-width="0.8"/>
<line x1="285.5" y1="203.67" x2="282.7" y2="203.67" stroke="#555" stroke-width="0.8"/>
<line x1="51.9" y1="198.16" x2="54.7" y2="198.16" stroke="#555" stroke-width="0.8"/>
<line x1="285.5" y1="198.16" x2="282.7" y2="198.16" stroke="#555" stroke-width="0.8"/>
<line x1="51.9" y1="192.66" x2="54.7" y2="192.66" stroke="#555" stroke-width="0.8"/>
<line x1="285.5" y1="192.66" x2="282.7" y2="192.66" stroke="#555" stroke-width="0.8"/>
<line x1="51.9" y1="187.15" x2="54.7" y2="187.15" stroke="#555" stroke-width="0.8"/>
<line x1="285.5" y1="187.15" x2="282.7" y2="187.15" stroke="#555" stroke-width="0.8"/>
<line x1="51.9" y1="181.64" x2="54.7" y2="181.64" stroke="#555" stroke-width="0.8"/>
<line x1="285.5" y1="181.64" x2="282.7" y2="181.64" stroke="#555" stroke-width="0.8"/>
<line x1="51.9" y1="176.13" x2="54.7" y2="176.13" stroke="#555" stroke-width="0.8"/>
<line x1="285.5" y1="176.13" x2="282.7" y2="176.13" stroke="#555" stroke-width="0.8"/>
<line x1="51.9" y1="170.63" x2="54.7" y2="170.63" stroke="#555" stroke-width="0.8"/>
<line x1="285.5" y1="170.63" x2="282.7" y2="170.63" stroke="#555" stroke-width="0.8"/>
<line x1="51.9" y1="165.12" x2="54.7" y2="165.12" stroke="#555" stroke-width="0.8"/>
<line x1="285.5" y1="165.12" x2="282.7" y2="165.12" stroke="#555" stroke-width="0.8"/>
<line x1="51.9" y1="159.61" x2="54.7" y2="159.61" stroke="#555" stroke-width="0.8"/>
<line x1="285.5" y1="159.61" x2="282.7" y2="159.61" stroke="#555" stroke-width="0.8"/>
<line x1="51.9" y1="154.1" x2="54.7" y2="154.1" stroke="#555" stroke-width="0.8"/>
<line x1="285.5" y1="154.1" x2="282.7" y2="154.1" stroke="#555" stroke-width="0.8"/>
<line x1="51.9" y1="148.6" x2="54.7" y2="148.6" stroke="#555" stroke-width="0.8"/>
<line x1="285.5" y1="148.6" x2="282.7" y2="148.6" stroke="#555" stroke-width="0.8"/>
<line x1="51.9" y1="143.09" x2="54.7" y2="143.09" stroke="#555" stroke-width="0.8"/>
<line x1="285.5" y1="143.09" x2="282.7" y2="143.09" stroke="#555" stroke-width="0.8"/>
<line x1="51.9" y1="137.58" x2="54.7" y2="137.58" stroke="#555" stroke-width="0.8"/>
<line x1="285.5" y1="137.58" x2="282.7" y2="137.58" stroke="#555" stroke-width="0.8"/>
<line x1="51.9" y1="132.07" x2="54.7" y2="132.07" stroke="#555" stroke-width="0.8"/>
<line x1="285.5" y1="132.07" x2="282.7" y2="132.07" stroke="#555" stroke-width="0.8"/>
<line x1="51.9" y1="126.57" x2="54.7" y2="126.57" stroke="#555" stroke-width="0.8"/>
<line x1="285.5" y1="126.57" x2="282.7" y2="126.57" stroke="#555" stroke-width="0.8"/>
<line x1="51.9" y1="121.06" x2="54.7" y2="121.06" stroke="#555" stroke-width="0.8"/>
<line x1="285.5" y1="121.06" x2="282.7" y2="121.06" stroke="#555" stroke-width="0.8"/>
<line x1="51.9" y1="115.55" x2="54.7" y2="115.55" stroke="#555" stroke-width="0.8"/>
<line x1="285.5" y1="115.55" x2="282.7" y2="115.55" stroke="#555" stroke-width="0.8"/>
<line x1="51.9" y1="110.04" x2="54.7" y2="110.04" stroke="#555" stroke-width="0.8"/>
<line x1="285.5" y1="110.04" x2="282.7" y2="110.04" stroke="#555" stroke-width="0.8"/>
<line x1="51.9" y1="104.54" x2="54.7" y2="104.54" stroke="#555" stroke-width="0.8"/>
<line x1="285.5" y1="104.54" x2="282.7" y2="104.54" stroke="#555" stroke-width="0.8"/>
<line x1="51.9" y1="99.03" x2="54.7" y2="99.03" stroke="#555" stroke-width="0.8"/>
<line x1="285.5" y1="99.03" x2="282.7" y2="99.03" stroke="#555" stroke-width="0.8"/>
<line x1="51.9" y1="93.52" x2="54.7" y2="93.52" stroke="#555" stroke-width="0.8"/>
<line x1="285.5" y1="93.52" x2="282.7" y2="93.52" stroke="#555" stroke-width="0.8"/>
<line x1="51.9" y1="88.01" x2="54.7" y2="88.01" stroke="#555" stroke-width="0.8"/>
<line x1="285.5" y1="88.01" x2="282.7" y2="88.01" stroke="#555" stroke-width="0.8"/>
<line x1="51.9" y1="82.51" x2="54.7" y2="82.51" stroke="#555" stroke-width="0.8"/>
<line x1="285.5" y1="82.51" x2="282.7" y2="82.51" stroke="#555" stroke-width="0.8"/>
<line x1="51.9" y1="77" x2="54.7" y2="77" stroke="#555" stroke-width="0.8"/>
<line x1="285.5" y1="77" x2="282.7" y2="77" stroke="#555" stroke-width="0.8"/>
<line x1="51.9" y1="71.49" x2="54.7" y2="71.49" stroke="#555" stroke-width="0.8"/>
<line x1="285.5" y1="71.49" x2="282.7" y2="71.49" stroke="#555" stroke-width="0.8"/>
<line x1="51.9" y1="65.98" x2="54.7" y2="65.98" stroke="#555" stroke-width="0.8"/>
<line x1="285.5" y1="65.98" x2="282.7" y2="65.98" stroke="#555" stroke-width="0.8"/>
<line x1="51.9" y1="60.48" x2="54.7" y2="60.48" stroke="#555" stroke-width="0.8"/>
<line x1="285.5" y1="60.48" x2="282.7" y2="60.48" stroke="#555" stroke-width="0.8"/>
<line x1="51.9" y1="54.97" x2="54.7" y2="54.97" stroke="#555" stroke-width="0.8"/>
<line x1="285.5" y1="54.97" x2="282.7" y2="54.97" stroke="#555" stroke-width="0.8"/>
<line x1="51.9" y1="49.46" x2="54.7" y2="49.46" stroke="#555" stroke-width="0.8"/>
<line x1="285.5" y1="49.46" x2="282.7" y2="49.46" stroke="#555" stroke-width="0.8"/>
<line x1="51.9" y1="43.95" x2="54.7" y2="43.95" stroke="#555" stroke-width="0.8"/>
<line x1="285.5" y1="43.95" x2="282.7" y2="43.95" stroke="#555" stroke-width="0.8"/>
<line x1="51.9" y1="38.45" x2="54.7" y2="38.45" stroke="#555" stroke-width="0.8"/>
<line x1="285.5" y1="38.45" x2="282.7" y2="38.45" stroke="#555" stroke-width="0.8"/>
<line x1="51.9" y1="32.94" x2="54.7" y2="32.94" stroke="#555" stroke-width="0.8"/>
<line x1="285.5" y1="32.94" x2="282.7" y2="32.94" stroke="#555" stroke-width="0.8"/>
<line x1="51.9" y1="27.43" x2="54.7" y2="27.43" stroke="#555" stroke-width="0.8"/>
<line x1="285.5" y1="27.43" x2="282.7" y2="27.43" stroke="#555" stroke-width="0.8"/>
<line x1="51.9" y1="21.92" x2="54.7" y2="21.92" stroke="#555" stroke-width="0.8"/>
<line x1="285.5" y1="21.92" x2="282.7" y2="21.92" stroke="#555" stroke-width="0.8"/>
<line x1="51.9" y1="16.42" x2="54.7" y2="16.42" stroke="#555" stroke-width="0.8"/>
<line x1="285.5" y1="16.42" x2="282.7" y2="16.42" stroke="#555" stroke-width="0.8"/>
<line x1="51.9" y1="10.91" x2="54.7" y2="10.91" stroke="#555" stroke-width="0.8"/>
<line x1="285.5" y1="10.91" x2="282.7" y2="10.91" stroke="#555" stroke-width="0.8"/>
<line x1="51.9" y1="5.4" x2="54.7" y2="5.4" stroke="#555" stroke-width="0.8"/>
<line x1="285.5" y1="5.4" x2="282.7" y2="5.4" stroke="#555" stroke-width="0.8"/>
<line x1="51.9" y1="225.7" x2="57.4" y2="225.7" stroke="#444" stroke-width="0.9"/>
<line x1="285.5" y1="225.7" x2="280" y2="225.7" stroke="#444" stroke-width="0.9"/>
<line x1="51.9" y1="198.16" x2="57.4" y2="198.16" stroke="#444" stroke-width="0.9"/>
<line x1="285.5" y1="198.16" x2="280" y2="198.16" stroke="#444" stroke-width="0.9"/>
<line x1="51.9" y1="170.63" x2="57.4" y2="170.63" stroke="#444" stroke-width="0.9"/>
<line x1="285.5" y1="170.63" x2="280" y2="170.63" stroke="#444" stroke-width="0.9"/>
<line x1="51.9" y1="143.09" x2="57.4" y2="143.09" stroke="#444" stroke-width="0.9"/>
<line x1="285.5" y1="143.09" x2="280" y2="143.09" stroke="#444" stroke-width="0.9"/>
<line x1="51.9" y1="115.55" x2="57.4" y2="115.55" stroke="#444" stroke-width="0.9"/>
<line x1="285.5" y1="115.55" x2="280" y2="115.55" stroke="#444" stroke-width="0.9"/>
<line x1="51.9" y1="88.01" x2="57.4" y2="88.01" stroke="#444" stroke-width="0.9"/>
<line x1="285.5" y1="88.01" x2="280" y2="88.01" stroke="#444" stroke-width="0.9"/>
<line x1="51.9" y1="60.48" x2="57.4" y2="60.48" stroke="#444" stroke-width="0.9"/>
<line x1="285.5" y1="60.48" x2="280" y2="60.48" stroke="#444" stroke-width="0.9"/>
<line x1="51.9" y1="32.94" x2="57.4" y2="32.94" stroke="#444" stroke-width="0.9"/>
<line x1="285.5" y1="32.94" x2="280" y2="32.94" stroke="#444" stroke-width="0.9"/>
<line x1="51.9" y1="5.4" x2="57.4" y2="5.4" stroke="#444" stroke-width="0.9"/>
<line x1="285.5" y1="5.4" x2="280" y2="5.4" stroke="#444" stroke-width="0.9"/>
<text x="53.3" y="243.58" font-size="12" text-anchor="middle">49</text>
<text x="79.26" y="243.58" font-size="12" text-anchor="middle">50</text>
<text x="105.21" y="243.58" font-size="12" text-anchor="middle">51</text>
<text x="131.17" y="243.58" font-size="12" text-anchor="middle">52</text>
<text x="157.12" y="243.58" font-size="12" text-anchor="middle">53</text>
<text x="183.08" y="243.58" font-size="12" text-anchor="middle">54</text>
<text x="209.03" y="243.58" font-size="12" text-anchor="middle">55</text>
<text x="234.99" y="243.58" font-size="12" text-anchor="middle">56</text>
<text x="260.94" y="243.58" font-size="12" text-anchor="middle">57</text>
<text x="286.9" y="243.58" font-size="12" text-anchor="middle">58</text>
<text x="44.3" y="229.84" font-size="12" text-anchor="end">7.5</text>
<text x="44.3" y="202.3" font-size="12" text-anchor="end">7.55</text>
<text x="44.3" y="174.77" font-size="12" text-anchor="end">7.6</text>
<text x="44.3" y="147.23" font-size="12" text-anchor="end">7.65</text>
<text x="44.3" y="119.69" font-size="12" text-anchor="end">7.7</text>
<text x="44.3" y="92.15" font-size="12" text-anchor="end">7.75</text>
<text x="44.3" y="64.62" font-size="12" text-anchor="end">7.8</text>
<text x="44.3" y="37.08" font-size="12" text-anchor="end">7.85</text>
<text x="44.3" y="9.54" font-size="12" text-anchor="end">7.9</text>
<linearGradient id="cb291" x1="0" y1="1" x2="0" y2="0"><stop offset="0" stop-color="#000000"/><stop offset="0.12" stop-color="#0000ff"/><stop offset="0.25" stop-color="#00ffff"/><stop offset="0.38" stop-color="#00ff00"/><stop offset="0.5" stop-color="#ffff00"/><stop offset="0.62" stop-color="#ff0000"/><stop offset="1" stop-color="#c878f5"/></linearGradient>
<rect x="291.2" y="5.4" width="11.7" height="220.3" fill="url(#cb291)" stroke="#222" stroke-width="1"/>
<line x1="291.2" y1="225.7" x2="294.8" y2="225.7" stroke="#222" stroke-width="0.9"/>
<line x1="302.9" y1="225.7" x2="299.3" y2="225.7" stroke="#222" stroke-width="0.9"/>
<text x="310.5" y="229.84" font-size="12" text-anchor="start">0.161</text>
<line x1="291.2" y1="205.67" x2="294.8" y2="205.67" stroke="#222" stroke-width="0.9"/>
<line x1="302.9" y1="205.67" x2="299.3" y2="205.67" stroke="#222" stroke-width="0.9"/>
<text x="310.5" y="209.81" font-size="12" text-anchor="start">0.162</text>
<line x1="291.2" y1="185.65" x2="294.8" y2="185.65" stroke="#222" stroke-width="0.9"/>
<line x1="302.9" y1="185.65" x2="299.3" y2="185.65" stroke="#222" stroke-width="0.9"/>
<text x="310.5" y="189.79" font-size="12" text-anchor="start">0.163</text>
<line x1="291.2" y1="165.62" x2="294.8" y2="165.62" stroke="#222" stroke-width="0.9"/>
<line x1="302.9" y1="165.62" x2="299.3" y2="165.62" stroke="#222" stroke-width="0.9"/>
<text x="310.5" y="169.76" font-size="12" text-anchor="start">0.164</text>
<line x1="291.2" y1="145.59" x2="294.8" y2="145.59" stroke="#222" stroke-width="0.9"/>
<line x1="302.9" y1="145.59" x2="299.3" y2="145.59" stroke="#222" stroke-width="0.9"/>
<text x="310.5" y="149.73" font-size="12" text-anchor="start">0.165</text>
<line x1="291.2" y1="125.56" x2="294.8" y2="125.56" stroke="#222" stroke-width="0.9"/>
<line x1="302.9" y1="125.56" x2="299.3" y2="125.56" stroke="#222" stroke-width="0.9"/>
<text x="310.5" y="129.7" font-size="12" text-anchor="start">0.166</text>
<line x1="291.2" y1="105.54" x2="294.8" y2="105.54" stroke="#222" stroke-width="0.9"/>
<line x1="302.9" y1="105.54" x2="299.3" y2="105.54" stroke="#222" stroke-width="0.9"/>
<text x="310.5" y="109.68" font-size="12" text-anchor="start">0.167</text>
<line x1="291.2" y1="85.51" x2="294.8" y2="85.51" stroke="#222" stroke-width="0.9"/>
<line x1="302.9" y1="85.51" x2="299.3" y2="85.51" stroke="#222" stroke-width="0.9"/>
<text x="310.5" y="89.65" font-size="12" text-anchor="start">0.168</text>
<line x1="291.2" y1="65.48" x2="294.8" y2="65.48" stroke="#222" stroke-width="0.9"/>
<line x1="302.9" y1="65.48" x2="299.3" y2="65.48" stroke="#222" stroke-width="0.9"/>
<text x="310.5" y="69.62" font-size="12" text-anchor="start">0.169</text>
<line x1="291.2" y1="45.45" x2="294.8" y2="45.45" stroke="#222" stroke-width="0.9"/>
<line x1="302.9" y1="45.45" x2="299.3" y2="45.45" stroke="#222" stroke-width="0.9"/>
<text x="310.5" y="49.59" font-size="12" text-anchor="start">0.17</text>
<line x1="291.2" y1="25.43" x2="294.8" y2="25.43" stroke="#222" stroke-width="0.9"/>
<line x1="302.9" y1="25.43" x2="299.3" y2="25.43" stroke="#222" stroke-width="0.9"/>
<text x="310.5" y="29.57" font-size="12" text-anchor="start">0.171</text>
<line x1="291.2" y1="5.4" x2="294.8" y2="5.4" stroke="#222" stroke-width="0.9"/>
<line x1="302.9" y1="5.4" x2="299.3" y2="5.4" stroke="#222" stroke-width="0.9"/>
<text x="310.5" y="9.54" font-size="12" text-anchor="start">0.172</text>
<path d="M580.0,36.1 579.0,36.3 579.0,37.8 580.0,38.0 580.0,36.1" fill="none" stroke="#000" stroke-width="0.6" stroke-dasharray="4,2" stroke-opacity="0.85"/>
<path d="M579.0,25.0 575.8,31.2 573.7,37.2 577.7,48.2 579.0,51.0 580.0,51.0 584.3,37.2 580.6,26.2 580.0,24.9 579.0,25.0" fill="none" stroke="#000" stroke-width="0.6" stroke-dasharray="1.2,2" stroke-opacity="0.85"/>
<path d="M577.1,16.2 574.6,20.2 572.0,25.9 568.6,37.2 571.3,48.2 575.1,58.2 576.5,78.2 579.0,91.6 580.0,91.6 581.6,79.2 582.7,58.2 586.0,47.5 588.3,37.2 585.5,26.2 581.4,16.2" fill="none" stroke="#000" stroke-width="0.6" stroke-dasharray="5,2,1,2" stroke-opacity="0.85"/>
<path d="M568.5,16.2 565.7,25.2 563.5,37.2 565.0,48.2 567.1,58.2 567.9,78.2 571.1,99.2 572.0,120.2 575.4,141.2 576.3,161.2 579.0,186.2 580.0,187.4 582.1,161.2 582.6,141.2 585.0,120.2 585.4,99.2 587.7,78.2 588.4,58.2 592.4,37.2 590.4,26.2 587.4,16.2" fill="none" stroke="#000" stroke-width="0.6" stroke-dasharray="5,2,1,2,1,2" stroke-opacity="0.85"/>
<path d="M559.9,16.2 558.4,37.2 559.2,78.2 561.7,99.2 562.9,120.2 565.9,141.2 567.4,162.2 571.3,202.2M586.7,202.2 589.1,162.2 589.4,141.2 591.5,120.2 591.8,99.2 593.7,78.2 594.1,58.2 596.4,37.2 595.2,26.2 593.5,16.2" fill="none" stroke="#000" stroke-width="0.6" stroke-opacity="0.85"/>
<path d="M544.7,16.2 540.4,25.2 534.0,33.6 532.9,37.2 529.4,79.2 528.8,99.2 529.9,120.2 533.6,135.2 534.0,136.4 535.0,137.4 548.0,140.3 550.1,141.2 556.0,145.1 557.0,146.4 561.6,202.2M595.0,202.2 596.3,141.2 598.1,120.2 598.2,99.2 599.7,78.2 600.5,37.2 599.6,16.2" fill="none" stroke="#000" stroke-width="0.6" stroke-dasharray="4,2" stroke-opacity="0.85"/>
<path d="M528.5,16.2 525.6,26.2 523.2,37.2 520.9,78.2 520.4,99.2 521.0,120.2 523.9,141.2 525.3,161.2 526.3,182.2 526.3,202.2M606.0,202.2 606.0,182.2 607.9,161.2 607.9,141.2 619.1,120.2 619.2,99.2 624.0,90.4" fill="none" stroke="#000" stroke-width="0.6" stroke-dasharray="1.2,2" stroke-opacity="0.85"/>
<path d="M515.7,16.2 513.6,37.2 512.3,78.2 512.3,202.2" fill="none" stroke="#000" stroke-width="0.6" stroke-dasharray="5,2,1,2" stroke-opacity="0.85"/>
<path d="M503.2,16.2 502.3,37.2 501.6,78.2 500.6,99.2 500.6,120.2 498.6,141.2 498.6,202.2" fill="none" stroke="#000" stroke-width="0.6" stroke-dasharray="5,2,1,2,1,2" stroke-opacity="0.85"/>
<path d="M490.8,16.2 490.6,78.2 489.0,99.2 489.0,120.2 487.2,141.2 487.2,202.2" fill="none" stroke="#000" stroke-width="0.6" stroke-opacity="0.85"/>
<path d="M482.9,16.2 482.9,78.2 482.1,99.2 482.1,120.2 481.1,141.2 481.1,202.2" fill="none" stroke="#000" stroke-width="0.6" stroke-dasharray="4,2" stroke-opacity="0.85"/>
<path d="M475.7,16.2 475.1,202.2" fill="none" stroke="#000" stroke-width="0.6" stroke-dasharray="1.2,2" stroke-opacity="0.85"/>
<path d="M468.5,16.2 468.4,119.2 469.0,141.2 469.0,202.2" fill="none" stroke="#000" stroke-width="0.6" stroke-dasharray="5,2,1,2" stroke-opacity="0.85"/>
<path d="M456.1,16.2 456.2,120.2 457.5,141.2 458.0,161.2 460.7,202.2M421.0,144.2 423.6,140.2 425.6,135.2 429.8,120.2 429.8,16.2" fill="none" stroke="#000" stroke-width="0.6" stroke-dasharray="5,2,1,2,1,2" stroke-opacity="0.85"/>
<path d="M421.0,166.1 436.0,165.9 443.0,165.2 444.0,166.6 450.6,202.2" fill="none" stroke="#000" stroke-width="0.6" stroke-opacity="0.85"/>
<path d="M421.0,175.3 427.3,178.2 432.3,182.2 436.0,183.7 438.9,186.2 440.6,189.2 441.5,192.2 442.9,202.2" fill="none" stroke="#000" stroke-width="0.6" stroke-dasharray="4,2" stroke-opacity="0.85"/>
<path d="M421.0,182.8 429.7,185.2 433.0,187.0 435.0,188.7 436.9,191.2 438.5,194.2 440.6,202.2" fill="none" stroke="#000" stroke-width="0.6" stroke-dasharray="1.2,2" stroke-opacity="0.85"/>
<path d="M421.0,185.1 428.0,187.7 432.6,191.2 436.0,196.0 438.3,202.2" fill="none" stroke="#000" stroke-width="0.6" stroke-dasharray="5,2,1,2" stroke-opacity="0.85"/>
<path d="M421.0,187.3 426.0,189.7 430.6,193.2 433.7,197.2 436.0,202.2" fill="none" stroke="#000" stroke-width="0.6" stroke-dasharray="5,2,1,2,1,2" stroke-opacity="0.85"/>
<path d="M421.0,189.6 425.5,192.2 429.0,195.2 431.5,198.2 433.7,202.2" fill="none" stroke="#000" stroke-width="0.6" stroke-opacity="0.85"/>
<path d="M421.0,191.9 427.0,196.3 431.4,202.2" fill="none" stroke="#000" stroke-width="0.6" stroke-dasharray="4,2" stroke-opacity="0.85"/>
<path d="M421.0,194.2 425.9,198.2 429.1,202.2" fill="none" stroke="#000" stroke-width="0.6" stroke-dasharray="1.2,2" stroke-opacity="0.85"/>
<path d="M421.0,196.4 426.9,202.2" fill="none" stroke="#000" stroke-width="0.6" stroke-dasharray="5,2,1,2" stroke-opacity="0.85"/>
<path d="M421.0,198.7 424.6,202.2" fill="none" stroke="#000" stroke-width="0.6" stroke-dasharray="5,2,1,2,1,2" stroke-opacity="0.85"/>
<path d="M421.0,201.0 422.3,202.2" fill="none" stroke="#000" stroke-width="0.6" stroke-opacity="0.85"/>
<line x1="421" y1="16.2" x2="421" y2="203" stroke="#1a1a1a" stroke-width="0.9" stroke-opacity="0.55"/>
<line x1="443.66" y1="16.2" x2="443.66" y2="203" stroke="#1a1a1a" stroke-width="0.9" stroke-opacity="0.55"/>
<line x1="466.31" y1="16.2" x2="466.31" y2="203" stroke="#1a1a1a" stroke-width="0.9" stroke-opacity="0.55"/>
<line x1="488.97" y1="16.2" x2="488.97" y2="203" stroke="#1a1a1a" stroke-width="0.9" stroke-opacity="0.55"/>
<line x1="511.62" y1="16.2" x2="511.62" y2="203" stroke="#1a1a1a" stroke-width="0.9" stroke-opacity="0.55"/>
<line x1="534.28" y1="16.2" x2="534.28" y2="203" stroke="#1a1a1a" stroke-width="0.9" stroke-opacity="0.55"/>
<line x1="556.93" y1="16.2" x2="556.93" y2="203" stroke="#1a1a1a" stroke-width="0.9" stroke-opacity="0.55"/>
<line x1="579.59" y1="16.2" x2="579.59" y2="203" stroke="#1a1a1a" stroke-width="0.9" stroke-opacity="0.55"/>
<line x1="602.24" y1="16.2" x2="602.24" y2="203" stroke="#1a1a1a" stroke-width="0.9" stroke-opacity="0.55"/>
<line x1="624.9" y1="16.2" x2="624.9" y2="203" stroke="#1a1a1a" stroke-width="0.9" stroke-opacity="0.55"/>
<line x1="421" y1="16.2" x2="624.9" y2="16.2" stroke="#1a1a1a" stroke-width="0.9" stroke-opacity="0.55"/>
<line x1="421" y1="36.96" x2="624.9" y2="36.96" stroke="#1a1a1a" stroke-width="0.9" stroke-opacity="0.55"/>
<line x1="421" y1="57.71" x2="624.9" y2="57.71" stroke="#1a1a1a" stroke-width="0.9" stroke-opacity="0.55"/>
<line x1="421" y1="78.47" x2="624.9" y2="78.47" stroke="#1a1a1a" stroke-width="0.9" stroke-opacity="0.55"/>
<line x1="421" y1="99.22" x2="624.9" y2="99.22" stroke="#1a1a1a" stroke-width="0.9" stroke-opacity="0.55"/>
<line x1="421" y1="119.98" x2="624.9" y2="119.98" stroke="#1a1a1a" stroke-width="0.9" stroke-opacity="0.55"/>
<line x1="421" y1="140.73" x2="624.9" y2="140.73" stroke="#1a1a1a" stroke-width="0.9" stroke-opacity="0.55"/>
<line x1="421" y1="161.49" x2="624.9" y2="161.49" stroke="#1a1a1a" stroke-width="0.9" stroke-opacity="0.55"/>
<line x1="421" y1="182.24" x2="624.9" y2="182.24" stroke="#1a1a1a" stroke-width="0.9" stroke-opacity="0.55"/>
<line x1="421" y1="203" x2="624.9" y2="203" stroke="#1a1a1a" stroke-width="0.9" stroke-opacity="0.55"/>
<rect x="413.5" y="5.5" width="230.9" height="216.7" fill="none" stroke="#6a6a6a" stroke-width="1.15"/>
<line x1="413.5" y1="222.2" x2="413.5" y2="219.4" stroke="#555" stroke-width="0.8"/>
<line x1="413.5" y1="5.5" x2="413.5" y2="8.3" stroke="#555" stroke-width="0.8"/>
<line x1="418.63" y1="222.2" x2="418.63" y2="219.4" stroke="#555" stroke-width="0.8"/>
<line x1="418.63" y1="5.5" x2="418.63" y2="8.3" stroke="#555" stroke-width="0.8"/>
<line x1="423.76" y1="222.2" x2="423.76" y2="219.4" stroke="#555" stroke-width="0.8"/>
<line x1="423.76" y1="5.5" x2="423.76" y2="8.3" stroke="#555" stroke-width="0.8"/>
<line x1="428.89" y1="222.2" x2="428.89" y2="219.4" stroke="#555" stroke-width="0.8"/>
<line x1="428.89" y1="5.5" x2="428.89" y2="8.3" stroke="#555" stroke-width="0.8"/>
<line x1="434.02" y1="222.2" x2="434.02" y2="219.4" stroke="#555" stroke-width="0.8"/>
<line x1="434.02" y1="5.5" x2="434.02" y2="8.3" stroke="#555" stroke-width="0.8"/>
<line x1="439.16" y1="222.2" x2="439.16" y2="219.4" stroke="#555" stroke-width="0.8"/>
<line x1="439.16" y1="5.5" x2="439.16" y2="8.3" stroke="#555" stroke-width="0.8"/>
<line x1="444.29" y1="222.2" x2="444.29" y2="219.4" stroke="#555" stroke-width="0.8"/>
<line x1="444.29" y1="5.5" x2="444.29" y2="8.3" stroke="#555" stroke-width="0.8"/>
<line x1="449.42" y1="222.2" x2="449.42" y2="219.4" stroke="#555" stroke-width="0.8"/>
<line x1="449.42" y1="5.5" x2="449.42" y2="8.3" stroke="#555" stroke-width="0.8"/>
<line x1="454.55" y1="222.2" x2="454.55" y2="219.4" stroke="#555" stroke-width="0.8"/>
<line x1="454.55" y1="5.5" x2="454.55" y2="8.3" stroke="#555" stroke-width="0.8"/>
<line x1="459.68" y1="222.2" x2="459.68" y2="219.4" stroke="#555" stroke-width="0.8"/>
<line x1="459.68" y1="5.5" x2="459.68" y2="8.3" stroke="#555" stroke-width="0.8"/>
<line x1="464.81" y1="222.2" x2="464.81" y2="219.4" stroke="#555" stroke-width="0.8"/>
<line x1="464.81" y1="5.5" x2="464.81" y2="8.3" stroke="#555" stroke-width="0.8"/>
<line x1="469.94" y1="222.2" x2="469.94" y2="219.4" stroke="#555" stroke-width="0.8"/>
<line x1="469.94" y1="5.5" x2="469.94" y2="8.3" stroke="#555" stroke-width="0.8"/>
<line x1="475.07" y1="222.2" x2="475.07" y2="219.4" stroke="#555" stroke-width="0.8"/>
<line x1="475.07" y1="5.5" x2="475.07" y2="8.3" stroke="#555" stroke-width="0.8"/>
<line x1="480.2" y1="222.2" x2="480.2" y2="219.4" stroke="#555" stroke-width="0.8"/>
<line x1="480.2" y1="5.5" x2="480.2" y2="8.3" stroke="#555" stroke-width="0.8"/>
<line x1="485.34" y1="222.2" x2="485.34" y2="219.4" stroke="#555" stroke-width="0.8"/>
<line x1="485.34" y1="5.5" x2="485.34" y2="8.3" stroke="#555" stroke-width="0.8"/>
<line x1="490.47" y1="222.2" x2="490.47" y2="219.4" stroke="#555" stroke-width="0.8"/>
<line x1="490.47" y1="5.5" x2="490.47" y2="8.3" stroke="#555" stroke-width="0.8"/>
<line x1="495.6" y1="222.2" x2="495.6" y2="219.4" stroke="#555" stroke-width="0.8"/>
<line x1="495.6" y1="5.5" x2="495.6" y2="8.3" stroke="#555" stroke-width="0.8"/>
<line x1="500.73" y1="222.2" x2="500.73" y2="219.4" stroke="#555" stroke-width="0.8"/>
<line x1="500.73" y1="5.5" x2="500.73" y2="8.3" stroke="#555" stroke-width="0.8"/>
<line x1="505.86" y1="222.2" x2="505.86" y2="219.4" stroke="#555" stroke-width="0.8"/>
<line x1="505.86" y1="5.5" x2="505.86" y2="8.3" stroke="#555" stroke-width="0.8"/>
<line x1="510.99" y1="222.2" x2="510.99" y2="219.4" stroke="#555" stroke-width="0.8"/>
<line x1="510.99" y1="5.5" x2="510.99" y2="8.3" stroke="#555" stroke-width="0.8"/>
<line x1="516.12" y1="222.2" x2="516.12" y2="219.4" stroke="#555" stroke-width="0.8"/>
<line x1="516.12" y1="5.5" x2="516.12" y2="8.3" stroke="#555" stroke-width="0.8"/>
<line x1="521.25" y1="222.2" x2="521.25" y2="219.4" stroke="#555" stroke-width="0.8"/>
<line x1="521.25" y1="5.5" x2="521.25" y2="8.3" stroke="#555" stroke-width="0.8"/>
<line x1="526.38" y1="222.2" x2="526.38" y2="219.4" stroke="#555" stroke-width="0.8"/>
<line x1="526.38" y1="5.5" x2="526.38" y2="8.3" stroke="#555" stroke-width="0.8"/>
<line x1="531.52" y1="222.2" x2="531.52" y2="219.4" stroke="#555" stroke-width="0.8"/>
<line x1="531.52" y1="5.5" x2="531.52" y2="8.3" stroke="#555" stroke-width="0.8"/>
<line x1="536.65" y1="222.2" x2="536.65" y2="219.4" stroke="#555" stroke-width="0.8"/>
<line x1="536.65" y1="5.5" x2="536.65" y2="8.3" stroke="#555" stroke-width="0.8"/>
<line x1="541.78" y1="222.2" x2="541.78" y2="219.4" stroke="#555" stroke-width="0.8"/>
<line x1="541.78" y1="5.5" x2="541.78" y2="8.3" stroke="#555" stroke-width="0.8"/>
<line x1="546.91" y1="222.2" x2="546.91" y2="219.4" stroke="#555" stroke-width="0.8"/>
<line x1="546.91" y1="5.5" x2="546.91" y2="8.3" stroke="#555" stroke-width="0.8"/>
<line x1="552.04" y1="222.2" x2="552.04" y2="219.4" stroke="#555" stroke-width="0.8"/>
<line x1="552.04" y1="5.5" x2="552.04" y2="8.3" stroke="#555" stroke-width="0.8"/>
<line x1="557.17" y1="222.2" x2="557.17" y2="219.4" stroke="#555" stroke-width="0.8"/>
<line x1="557.17" y1="5.5" x2="557.17" y2="8.3" stroke="#555" stroke-width="0.8"/>
<line x1="562.3" y1="222.2" x2="562.3" y2="219.4" stroke="#555" stroke-width="0.8"/>
<line x1="562.3" y1="5.5" x2="562.3" y2="8.3" stroke="#555" stroke-width="0.8"/>
<line x1="567.43" y1="222.2" x2="567.43" y2="219.4" stroke="#555" stroke-width="0.8"/>
<line x1="567.43" y1="5.5" x2="567.43" y2="8.3" stroke="#555" stroke-width="0.8"/>
<line x1="572.56" y1="222.2" x2="572.56" y2="219.4" stroke="#555" stroke-width="0.8"/>
<line x1="572.56" y1="5.5" x2="572.56" y2="8.3" stroke="#555" stroke-width="0.8"/>
<line x1="577.7" y1="222.2" x2="577.7" y2="219.4" stroke="#555" stroke-width="0.8"/>
<line x1="577.7" y1="5.5" x2="577.7" y2="8.3" stroke="#555" stroke-width="0.8"/>
<line x1="582.83" y1="222.2" x2="582.83" y2="219.4" stroke="#555" stroke-width="0.8"/>
<line x1="582.83" y1="5.5" x2="582.83" y2="8.3" stroke="#555" stroke-width="0.8"/>
<line x1="587.96" y1="222.2" x2="587.96" y2="219.4" stroke="#555" stroke-width="0.8"/>
<line x1="587.96" y1="5.5" x2="587.96" y2="8.3" stroke="#555" stroke-width="0.8"/>
<line x1="593.09" y1="222.2" x2="593.09" y2="219.4" stroke="#555" stroke-width="0.8"/>
<line x1="593.09" y1="5.5" x2="593.09" y2="8.3" stroke="#555" stroke-width="0.8"/>
<line x1="598.22" y1="222.2" x2="598.22" y2="219.4" stroke="#555" stroke-width="0.8"/>
<line x1="598.22" y1="5.5" x2="598.22" y2="8.3" stroke="#555" stroke-width="0.8"/>
<line x1="603.35" y1="222.2" x2="603.35" y2="219.4" stroke="#555" stroke-width="0.8"/>
<line x1="603.35" y1="5.5" x2="603.35" y2="8.3" stroke="#555" stroke-width="0.8"/>
<line x1="608.48" y1="222.2" x2="608.48" y2="219.4" stroke="#555" stroke-width="0.8"/>
<line x1="608.48" y1="5.5" x2="608.48" y2="8.3" stroke="#555" stroke-width="0.8"/>
<line x1="613.61" y1="222.2" x2="613.61" y2="219.4" stroke="#555" stroke-width="0.8"/>
<line x1="613.61" y1="5.5" x2="613.61" y2="8.3" stroke="#555" stroke-width="0.8"/>
<line x1="618.74" y1="222.2" x2="618.74" y2="219.4" stroke="#555" stroke-width="0.8"/>
<line x1="618.74" y1="5.5" x2="618.74" y2="8.3" stroke="#555" stroke-width="0.8"/>
<line x1="623.88" y1="222.2" x2="623.88" y2="219.4" stroke="#555" stroke-width="0.8"/>
<line x1="623.88" y1="5.5" x2="623.88" y2="8.3" stroke="#555" stroke-width="0.8"/>
<line x1="629.01" y1="222.2" x2="629.01" y2="219.4" stroke="#555" stroke-width="0.8"/>
<line x1="629.01" y1="5.5" x2="629.01" y2="8.3" stroke="#555" stroke-width="0.8"/>
<line x1="634.14" y1="222.2" x2="634.14" y2="219.4" stroke="#555" stroke-width="0.8"/>
<line x1="634.14" y1="5.5" x2="634.14" y2="8.3" stroke="#555" stroke-width="0.8"/>
<line x1="639.27" y1="222.2" x2="639.27" y2="219.4" stroke="#555" stroke-width="0.8"/>
<line x1="639.27" y1="5.5" x2="639.27" y2="8.3" stroke="#555" stroke-width="0.8"/>
<line x1="644.4" y1="222.2" x2="644.4" y2="219.4" stroke="#555" stroke-width="0.8"/>
<line x1="644.4" y1="5.5" x2="644.4" y2="8.3" stroke="#555" stroke-width="0.8"/>
<line x1="413.5" y1="222.2" x2="413.5" y2="216.7" stroke="#444" stroke-width="0.9"/>
<line x1="413.5" y1="5.5" x2="413.5" y2="11" stroke="#444" stroke-width="0.9"/>
<line x1="439.16" y1="222.2" x2="439.16" y2="216.7" stroke="#444" stroke-width="0.9"/>
<line x1="439.16" y1="5.5" x2="439.16" y2="11" stroke="#444" stroke-width="0.9"/>
<line x1="464.81" y1="222.2" x2="464.81" y2="216.7" stroke="#444" stroke-width="0.9"/>
<line x1="464.81" y1="5.5" x2="464.81" y2="11" stroke="#444" stroke-width="0.9"/>
<line x1="490.47" y1="222.2" x2="490.47" y2="216.7" stroke="#444" stroke-width="0.9"/>
<line x1="490.47" y1="5.5" x2="490.47" y2="11" stroke="#444" stroke-width="0.9"/>
<line x1="516.12" y1="222.2" x2="516.12" y2="216.7" stroke="#444" stroke-width="0.9"/>
<line x1="516.12" y1="5.5" x2="516.12" y2="11" stroke="#444" stroke-width="0.9"/>
<line x1="541.78" y1="222.2" x2="541.78" y2="216.7" stroke="#444" stroke-width="0.9"/>
<line x1="541.78" y1="5.5" x2="541.78" y2="11" stroke="#444" stroke-width="0.9"/>
<line x1="567.43" y1="222.2" x2="567.43" y2="216.7" stroke="#444" stroke-width="0.9"/>
<line x1="567.43" y1="5.5" x2="567.43" y2="11" stroke="#444" stroke-width="0.9"/>
<line x1="593.09" y1="222.2" x2="593.09" y2="216.7" stroke="#444" stroke-width="0.9"/>
<line x1="593.09" y1="5.5" x2="593.09" y2="11" stroke="#444" stroke-width="0.9"/>
<line x1="618.74" y1="222.2" x2="618.74" y2="216.7" stroke="#444" stroke-width="0.9"/>
<line x1="618.74" y1="5.5" x2="618.74" y2="11" stroke="#444" stroke-width="0.9"/>
<line x1="644.4" y1="222.2" x2="644.4" y2="216.7" stroke="#444" stroke-width="0.9"/>
<line x1="644.4" y1="5.5" x2="644.4" y2="11" stroke="#444" stroke-width="0.9"/>
<line x1="413.5" y1="222.2" x2="416.3" y2="222.2" stroke="#555" stroke-width="0.8"/>
<line x1="644.4" y1="222.2" x2="641.6" y2="222.2" stroke="#555" stroke-width="0.8"/>
<line x1="413.5" y1="217.38" x2="416.3" y2="217.38" stroke="#555" stroke-width="0.8"/>
<line x1="644.4" y1="217.38" x2="641.6" y2="217.38" stroke="#555" stroke-width="0.8"/>
<line x1="413.5" y1="212.57" x2="416.3" y2="212.57" stroke="#555" stroke-width="0.8"/>
<line x1="644.4" y1="212.57" x2="641.6" y2="212.57" stroke="#555" stroke-width="0.8"/>
<line x1="413.5" y1="207.75" x2="416.3" y2="207.75" stroke="#555" stroke-width="0.8"/>
<line x1="644.4" y1="207.75" x2="641.6" y2="207.75" stroke="#555" stroke-width="0.8"/>
<line x1="413.5" y1="202.94" x2="416.3" y2="202.94" stroke="#555" stroke-width="0.8"/>
<line x1="644.4" y1="202.94" x2="641.6" y2="202.94" stroke="#555" stroke-width="0.8"/>
<line x1="413.5" y1="198.12" x2="416.3" y2="198.12" stroke="#555" stroke-width="0.8"/>
<line x1="644.4" y1="198.12" x2="641.6" y2="198.12" stroke="#555" stroke-width="0.8"/>
<line x1="413.5" y1="193.31" x2="416.3" y2="193.31" stroke="#555" stroke-width="0.8"/>
<line x1="644.4" y1="193.31" x2="641.6" y2="193.31" stroke="#555" stroke-width="0.8"/>
<line x1="413.5" y1="188.49" x2="416.3" y2="188.49" stroke="#555" stroke-width="0.8"/>
<line x1="644.4" y1="188.49" x2="641.6" y2="188.49" stroke="#555" stroke-width="0.8"/>
<line x1="413.5" y1="183.68" x2="416.3" y2="183.68" stroke="#555" stroke-width="0.8"/>
<line x1="644.4" y1="183.68" x2="641.6" y2="183.68" stroke="#555" stroke-width="0.8"/>
<line x1="413.5" y1="178.86" x2="416.3" y2="178.86" stroke="#555" stroke-width="0.8"/>
<line x1="644.4" y1="178.86" x2="641.6" y2="178.86" stroke="#555" stroke-width="0.8"/>
<line x1="413.5" y1="174.04" x2="416.3" y2="174.04" stroke="#555" stroke-width="0.8"/>
<line x1="644.4" y1="174.04" x2="641.6" y2="174.04" stroke="#555" stroke-width="0.8"/>
<line x1="413.5" y1="169.23" x2="416.3" y2="169.23" stroke="#555" stroke-width="0.8"/>
<line x1="644.4" y1="169.23" x2="641.6" y2="169.23" stroke="#555" stroke-width="0.8"/>
<line x1="413.5" y1="164.41" x2="416.3" y2="164.41" stroke="#555" stroke-width="0.8"/>
<line x1="644.4" y1="164.41" x2="641.6" y2="164.41" stroke="#555" stroke-width="0.8"/>
<line x1="413.5" y1="159.6" x2="416.3" y2="159.6" stroke="#555" stroke-width="0.8"/>
<line x1="644.4" y1="159.6" x2="641.6" y2="159.6" stroke="#555" stroke-width="0.8"/>
<line x1="413.5" y1="154.78" x2="416.3" y2="154.78" stroke="#555" stroke-width="0.8"/>
<line x1="644.4" y1="154.78" x2="641.6" y2="154.78" stroke="#555" stroke-width="0.8"/>
<line x1="413.5" y1="149.97" x2="416.3" y2="149.97" stroke="#555" stroke-width="0.8"/>
<line x1="644.4" y1="149.97" x2="641.6" y2="149.97" stroke="#555" stroke-width="0.8"/>
<line x1="413.5" y1="145.15" x2="416.3" y2="145.15" stroke="#555" stroke-width="0.8"/>
<line x1="644.4" y1="145.15" x2="641.6" y2="145.15" stroke="#555" stroke-width="0.8"/>
<line x1="413.5" y1="140.34" x2="416.3" y2="140.34" stroke="#555" stroke-width="0.8"/>
<line x1="644.4" y1="140.34" x2="641.6" y2="140.34" stroke="#555" stroke-width="0.8"/>
<line x1="413.5" y1="135.52" x2="416.3" y2="135.52" stroke="#555" stroke-width="0.8"/>
<line x1="644.4" y1="135.52" x2="641.6" y2="135.52" stroke="#555" stroke-width="0.8"/>
<line x1="413.5" y1="130.7" x2="416.3" y2="130.7" stroke="#555" stroke-width="0.8"/>
<line x1="644.4" y1="130.7" x2="641.6" y2="130.7" stroke="#555" stroke-width="0.8"/>
<line x1="413.5" y1="125.89" x2="416.3" y2="125.89" stroke="#555" stroke-width="0.8"/>
<line x1="644.4" y1="125.89" x2="641.6" y2="125.89" stroke="#555" stroke-width="0.8"/>
<line x1="413.5" y1="121.07" x2="416.3" y2="121.07" stroke="#555" stroke-width="0.8"/>
<line x1="644.4" y1="121.07" x2="641.6" y2="121.07" stroke="#555" stroke-width="0.8"/>
<line x1="413.5" y1="116.26" x2="416.3" y2="116.26" stroke="#555" stroke-width="0.8"/>
<line x1="644.4" y1="116.26" x2="641.6" y2="116.26" stroke="#555" stroke-width="0.8"/>
<line x1="413.5" y1="111.44" x2="416.3" y2="111.44" stroke="#555" stroke-width="0.8"/>
<line x1="644.4" y1="111.44" x2="641.6" y2="111.44" stroke="#555" stroke-width="0.8"/>
<line x1="413.5" y1="106.63" x2="416.3" y2="106.63" stroke="#555" stroke-width="0.8"/>
<line x1="644.4" y1="106.63" x2="641.6" y2="106.63" stroke="#555" stroke-width="0.8"/>
<line x1="413.5" y1="101.81" x2="416.3" y2="101.81" stroke="#555" stroke-width="0.8"/>
<line x1="644.4" y1="101.81" x2="641.6" y2="101.81" stroke="#555" stroke-width="0.8"/>
<line x1="413.5" y1="97" x2="416.3" y2="97" stroke="#555" stroke-width="0.8"/>
<line x1="644.4" y1="97" x2="641.6" y2="97" stroke="#555" stroke-width="0.8"/>
<line x1="413.5" y1="92.18" x2="416.3" y2="92.18" stroke="#555" stroke-width="0.8"/>
<line x1="644.4" y1="92.18" x2="641.6" y2="92.18" stroke="#555" stroke-width="0.8"/>
<line x1="413.5" y1="87.36" x2="416.3" y2="87.36" stroke="#555" stroke-width="0.8"/>
<line x1="644.4" y1="87.36" x2="641.6" y2="87.36" stroke="#555" stroke-width="0.8"/>
<line x1="413.5" y1="82.55" x2="416.3" y2="82.55" stroke="#555" stroke-width="0.8"/>
<line x1="644.4" y1="82.55" x2="641.6" y2="82.55" stroke="#555" stroke-width="0.8"/>
<line x1="413.5" y1="77.73" x2="416.3" y2="77.73" stroke="#555" stroke-width="0.8"/>
<line x1="644.4" y1="77.73" x2="641.6" y2="77.73" stroke="#555" stroke-width="0.8"/>
<line x1="413.5" y1="72.92" x2="416.3" y2="72.92" stroke="#555" stroke-width="0.8"/>
<line x1="644.4" y1="72.92" x2="641.6" y2="72.92" stroke="#555" stroke-width="0.8"/>
<line x1="413.5" y1="68.1" x2="416.3" y2="68.1" stroke="#555" stroke-width="0.8"/>
<line x1="644.4" y1="68.1" x2="641.6" y2="68.1" stroke="#555" stroke-width="0.8"/>
<line x1="413.5" y1="63.29" x2="416.3" y2="63.29" stroke="#555" stroke-width="0.8"/>
<line x1="644.4" y1="63.29" x2="641.6" y2="63.29" stroke="#555" stroke-width="0.8"/>
<line x1="413.5" y1="58.47" x2="416.3" y2="58.47" stroke="#555" stroke-width="0.8"/>
<line x1="644.4" y1="58.47" x2="641.6" y2="58.47" stroke="#555" stroke-width="0.8"/>
<line x1="413.5" y1="53.66" x2="416.3" y2="53.66" stroke="#555" stroke-width="0.8"/>
<line x1="644.4" y1="53.66" x2="641.6" y2="53.66" stroke="#555" stroke-width="0.8"/>
<line x1="413.5" y1="48.84" x2="416.3" y2="48.84" stroke="#555" stroke-width="0.8"/>
<line x1="644.4" y1="48.84" x2="641.6" y2="48.84" stroke="#555" stroke-width="0.8"/>
<line x1="413.5" y1="44.02" x2="416.3" y2="44.02" stroke="#555" stroke-width="0.8"/>
<line x1="644.4" y1="44.02" x2="641.6" y2="44.02" stroke="#555" stroke-width="0.8"/>
<line x1="413.5" y1="39.21" x2="416.3" y2="39.21" stroke="#555" stroke-width="0.8"/>
<line x1="644.4" y1="39.21" x2="641.6" y2="39.21" stroke="#555" stroke-width="0.8"/>
<line x1="413.5" y1="34.39" x2="416.3" y2="34.39" stroke="#555" stroke-width="0.8"/>
<line x1="644.4" y1="34.39" x2="641.6" y2="34.39" stroke="#555" stroke-width="0.8"/>
<line x1="413.5" y1="29.58" x2="416.3" y2="29.58" stroke="#555" stroke-width="0.8"/>
<line x1="644.4" y1="29.58" x2="641.6" y2="29.58" stroke="#555" stroke-width="0.8"/>
<line x1="413.5" y1="24.76" x2="416.3" y2="24.76" stroke="#555" stroke-width="0.8"/>
<line x1="644.4" y1="24.76" x2="641.6" y2="24.76" stroke="#555" stroke-width="0.8"/>
<line x1="413.5" y1="19.95" x2="416.3" y2="19.95" stroke="#555" stroke-width="0.8"/>
<line x1="644.4" y1="19.95" x2="641.6" y2="19.95" stroke="#555" stroke-width="0.8"/>
<line x1="413.5" y1="15.13" x2="416.3" y2="15.13" stroke="#555" stroke-width="0.8"/>
<line x1="644.4" y1="15.13" x2="641.6" y2="15.13" stroke="#555" stroke-width="0.8"/>
<line x1="413.5" y1="10.32" x2="416.3" y2="10.32" stroke="#555" stroke-width="0.8"/>
<line x1="644.4" y1="10.32" x2="641.6" y2="10.32" stroke="#555" stroke-width="0.8"/>
<line x1="413.5" y1="5.5" x2="416.3" y2="5.5" stroke="#555" stroke-width="0.8"/>
<line x1="644.4" y1="5.5" x2="641.6" y2="5.5" stroke="#555" stroke-width="0.8"/>
<line x1="413.5" y1="222.2" x2="419" y2="222.2" stroke="#444" stroke-width="0.9"/>
<line x1="644.4" y1="222.2" x2="638.9" y2="222.2" stroke="#444" stroke-width="0.9"/>
<line x1="413.5" y1="198.12" x2="419" y2="198.12" stroke="#444" stroke-width="0.9"/>
<line x1="644.4" y1="198.12" x2="638.9" y2="198.12" stroke="#444" stroke-width="0.9"/>
<line x1="413.5" y1="174.04" x2="419" y2="174.04" stroke="#444" stroke-width="0.9"/>
<line x1="644.4" y1="174.04" x2="638.9" y2="174.04" stroke="#444" stroke-width="0.9"/>
<line x1="413.5" y1="149.97" x2="419" y2="149.97" stroke="#444" stroke-width="0.9"/>
<line x1="644.4" y1="149.97" x2="638.9" y2="149.97" stroke="#444" stroke-width="0.9"/>
<line x1="413.5" y1="125.89" x2="419" y2="125.89" stroke="#444" stroke-width="0.9"/>
<line x1="644.4" y1="125.89" x2="638.9" y2="125.89" stroke="#444" stroke-width="0.9"/>
<line x1="413.5" y1="101.81" x2="419" y2="101.81" stroke="#444" stroke-width="0.9"/>
<line x1="644.4" y1="101.81" x2="638.9" y2="101.81" stroke="#444" stroke-width="0.9"/>
<line x1="413.5" y1="77.73" x2="419" y2="77.73" stroke="#444" stroke-width="0.9"/>
<line x1="644.4" y1="77.73" x2="638.9" y2="77.73" stroke="#444" stroke-width="0.9"/>
<line x1="413.5" y1="53.66" x2="419" y2="53.66" stroke="#444" stroke-width="0.9"/>
<line x1="644.4" y1="53.66" x2="638.9" y2="53.66" stroke="#444" stroke-width="0.9"/>
<line x1="413.5" y1="29.58" x2="419" y2="29.58" stroke="#444" stroke-width="0.9"/>
<line x1="644.4" y1="29.58" x2="638.9" y2="29.58" stroke="#444" stroke-width="0.9"/>
<line x1="413.5" y1="5.5" x2="419" y2="5.5" stroke="#444" stroke-width="0.9"/>
<line x1="644.4" y1="5.5" x2="638.9" y2="5.5" stroke="#444" stroke-width="0.9"/>
<text x="414.9" y="242.61" font-size="13.7" text-anchor="middle">51</text>
<text x="440.56" y="242.61" font-size="13.7" text-anchor="middle">51.5</text>
<text x="466.21" y="242.61" font-size="13.7" text-anchor="middle">52</text>
<text x="491.87" y="242.61" font-size="13.7" text-anchor="middle">52.5</text>
<text x="517.52" y="242.61" font-size="13.7" text-anchor="middle">53</text>
<text x="543.18" y="242.61" font-size="13.7" text-anchor="middle">53.5</text>
<text x="568.83" y="242.61" font-size="13.7" text-anchor="middle">54</text>
<text x="594.49" y="242.61" font-size="13.7" text-anchor="middle">54.5</text>
<text x="620.14" y="242.61" font-size="13.7" text-anchor="middle">55</text>
<text x="645.8" y="242.61" font-size="13.7" text-anchor="middle">55.5</text>
<text x="405.9" y="226.93" font-size="13.7" text-anchor="end">7.64</text>
<text x="405.9" y="202.85" font-size="13.7" text-anchor="end">7.66</text>
<text x="405.9" y="178.77" font-size="13.7" text-anchor="end">7.68</text>
<text x="405.9" y="154.69" font-size="13.7" text-anchor="end">7.7</text>
<text x="405.9" y="130.62" font-size="13.7" text-anchor="end">7.72</text>
<text x="405.9" y="106.54" font-size="13.7" text-anchor="end">7.74</text>
<text x="405.9" y="82.46" font-size="13.7" text-anchor="end">7.76</text>
<text x="405.9" y="58.38" font-size="13.7" text-anchor="end">7.78</text>
<text x="405.9" y="34.3" font-size="13.7" text-anchor="end">7.8</text>
<text x="405.9" y="10.23" font-size="13.7" text-anchor="end">7.82</text>
<linearGradient id="cb650" x1="0" y1="1" x2="0" y2="0"><stop offset="0" stop-color="#000000"/><stop offset="0.12" stop-color="#0000ff"/><stop offset="0.25" stop-color="#00ffff"/><stop offset="0.38" stop-color="#00ff00"/><stop offset="0.5" stop-color="#ffff00"/><stop offset="0.62" stop-color="#ff0000"/><stop offset="1" stop-color="#c878f5"/></linearGradient>
<rect x="650.6" y="5.6" width="11" height="216.4" fill="url(#cb650)" stroke="#222" stroke-width="1"/>
<line x1="650.6" y1="222" x2="654.2" y2="222" stroke="#222" stroke-width="0.9"/>
<line x1="661.6" y1="222" x2="658" y2="222" stroke="#222" stroke-width="0.9"/>
<text x="670.4" y="226.73" font-size="13.7" text-anchor="start">0.165</text>
<line x1="650.6" y1="185.93" x2="654.2" y2="185.93" stroke="#222" stroke-width="0.9"/>
<line x1="661.6" y1="185.93" x2="658" y2="185.93" stroke="#222" stroke-width="0.9"/>
<text x="670.4" y="190.66" font-size="13.7" text-anchor="start">0.17</text>
<line x1="650.6" y1="149.87" x2="654.2" y2="149.87" stroke="#222" stroke-width="0.9"/>
<line x1="661.6" y1="149.87" x2="658" y2="149.87" stroke="#222" stroke-width="0.9"/>
<text x="670.4" y="154.59" font-size="13.7" text-anchor="start">0.175</text>
<line x1="650.6" y1="113.8" x2="654.2" y2="113.8" stroke="#222" stroke-width="0.9"/>
<line x1="661.6" y1="113.8" x2="658" y2="113.8" stroke="#222" stroke-width="0.9"/>
<text x="670.4" y="118.53" font-size="13.7" text-anchor="start">0.18</text>
<line x1="650.6" y1="77.73" x2="654.2" y2="77.73" stroke="#222" stroke-width="0.9"/>
<line x1="661.6" y1="77.73" x2="658" y2="77.73" stroke="#222" stroke-width="0.9"/>
<text x="670.4" y="82.46" font-size="13.7" text-anchor="start">0.185</text>
<line x1="650.6" y1="41.67" x2="654.2" y2="41.67" stroke="#222" stroke-width="0.9"/>
<line x1="661.6" y1="41.67" x2="658" y2="41.67" stroke="#222" stroke-width="0.9"/>
<text x="670.4" y="46.39" font-size="13.7" text-anchor="start">0.19</text>
<line x1="650.6" y1="5.6" x2="654.2" y2="5.6" stroke="#222" stroke-width="0.9"/>
<line x1="661.6" y1="5.6" x2="658" y2="5.6" stroke="#222" stroke-width="0.9"/>
<text x="670.4" y="10.33" font-size="13.7" text-anchor="start">0.195</text>
<text x="157.6" y="261.7" font-size="14" text-anchor="start">i (°)</text>
<text x="515.2" y="262.7" font-size="18" text-anchor="start">i (°)</text>
<text transform="translate(10.9,115.7) rotate(-90)" font-size="14" text-anchor="middle">Ω</text>
<text transform="translate(371.2,114.2) rotate(-90)" font-size="19.5" text-anchor="middle">Ω</text>
</svg></div></body></html>
